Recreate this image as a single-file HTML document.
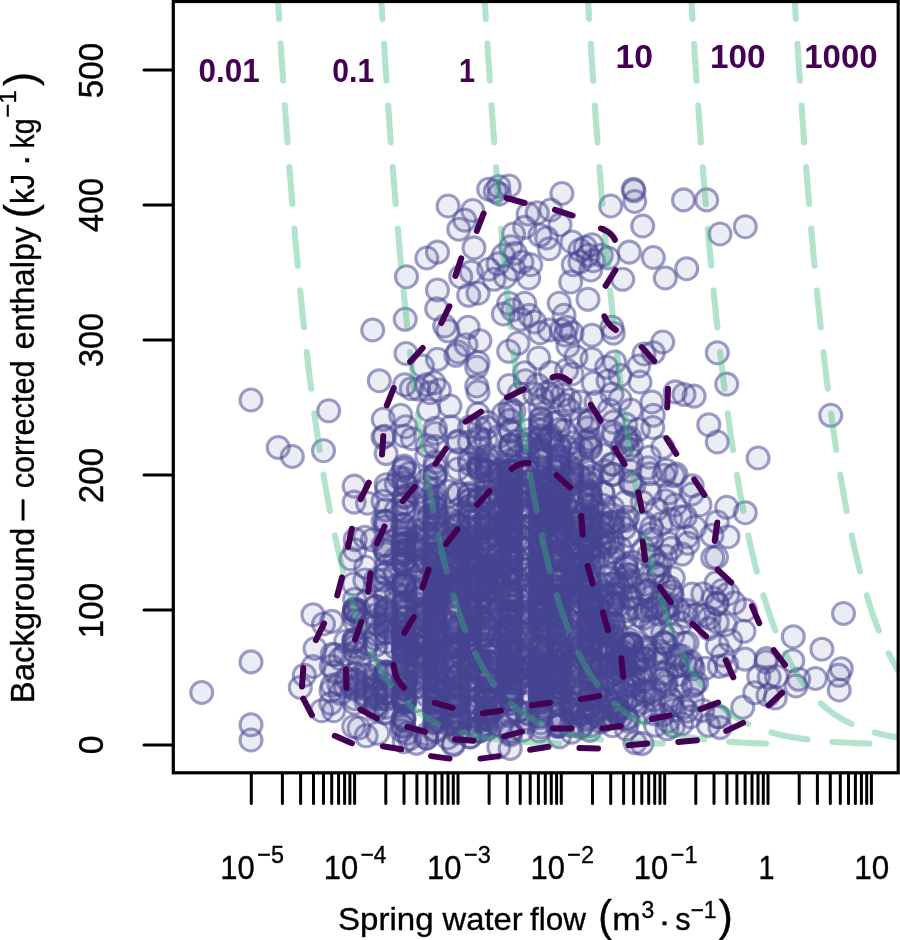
<!DOCTYPE html>
<html lang="en"><head><meta charset="utf-8"><title>Spring water flow vs enthalpy</title>
<style>
html,body{margin:0;padding:0;background:#fff}
body{width:900px;height:940px;overflow:hidden}
svg{display:block;font-family:"Liberation Sans",sans-serif}
.ax{fill:#000;stroke:#000;stroke-width:.35px}
.sup{font-size:22.4px}
.iso{fill:none;stroke:#35b779;stroke-opacity:.38;stroke-width:6.1;stroke-linecap:round;stroke-dasharray:37 24.9;stroke-dashoffset:-2}
.ct{fill:none;stroke:#440154;stroke-width:6;stroke-linecap:round;stroke-linejoin:round}
.pt circle{fill:#464591;fill-opacity:.1;stroke:#464591;stroke-opacity:.52;stroke-width:3.1}
.lb{font-weight:bold;fill:#440154}
.tk{stroke:#000;stroke-width:3;stroke-linecap:round;fill:none}
</style></head><body>
<svg width="900" height="940" viewBox="0 0 900 940">
<rect width="900" height="940" fill="#fff"/>
<defs><clipPath id="cp"><rect x="173.3" y="1.5" width="724.9" height="771.3"/></clipPath></defs>

<g class="pt" clip-path="url(#cp)">
<circle cx="626.4" cy="729.0" r="11"/>
<circle cx="559.0" cy="492.3" r="11"/>
<circle cx="499.3" cy="194.0" r="11"/>
<circle cx="469.2" cy="516.9" r="11"/>
<circle cx="427.0" cy="611.1" r="11"/>
<circle cx="458.3" cy="546.3" r="11"/>
<circle cx="470.3" cy="566.7" r="11"/>
<circle cx="375.9" cy="606.7" r="11"/>
<circle cx="396.3" cy="510.7" r="11"/>
<circle cx="427.3" cy="656.4" r="11"/>
<circle cx="486.4" cy="651.1" r="11"/>
<circle cx="617.1" cy="685.5" r="11"/>
<circle cx="386.3" cy="553.6" r="11"/>
<circle cx="654.1" cy="699.8" r="11"/>
<circle cx="651.6" cy="527.5" r="11"/>
<circle cx="589.5" cy="660.8" r="11"/>
<circle cx="694.7" cy="527.3" r="11"/>
<circle cx="470.0" cy="648.1" r="11"/>
<circle cx="385.7" cy="573.5" r="11"/>
<circle cx="619.0" cy="588.5" r="11"/>
<circle cx="550.7" cy="210.0" r="11"/>
<circle cx="488.5" cy="459.4" r="11"/>
<circle cx="403.6" cy="684.9" r="11"/>
<circle cx="487.1" cy="579.5" r="11"/>
<circle cx="403.8" cy="701.8" r="11"/>
<circle cx="355.2" cy="539.6" r="11"/>
<circle cx="540.4" cy="562.2" r="11"/>
<circle cx="469.9" cy="737.0" r="11"/>
<circle cx="510.9" cy="444.9" r="11"/>
<circle cx="529.9" cy="665.2" r="11"/>
<circle cx="416.9" cy="589.3" r="11"/>
<circle cx="365.7" cy="567.2" r="11"/>
<circle cx="558.8" cy="682.3" r="11"/>
<circle cx="581.9" cy="712.8" r="11"/>
<circle cx="547.8" cy="625.9" r="11"/>
<circle cx="571.7" cy="631.7" r="11"/>
<circle cx="448.1" cy="206.0" r="11"/>
<circle cx="510.9" cy="444.9" r="11"/>
<circle cx="452.7" cy="563.5" r="11"/>
<circle cx="582.1" cy="643.4" r="11"/>
<circle cx="553.8" cy="505.1" r="11"/>
<circle cx="426.2" cy="527.8" r="11"/>
<circle cx="629.0" cy="643.8" r="11"/>
<circle cx="474.0" cy="247.9" r="11"/>
<circle cx="582.1" cy="625.8" r="11"/>
<circle cx="404.2" cy="639.5" r="11"/>
<circle cx="527.8" cy="660.5" r="11"/>
<circle cx="304.3" cy="675.2" r="11"/>
<circle cx="457.5" cy="647.3" r="11"/>
<circle cx="510.4" cy="703.7" r="11"/>
<circle cx="471.3" cy="272.1" r="11"/>
<circle cx="427.3" cy="488.0" r="11"/>
<circle cx="558.3" cy="490.0" r="11"/>
<circle cx="541.0" cy="512.5" r="11"/>
<circle cx="385.8" cy="509.8" r="11"/>
<circle cx="486.2" cy="499.3" r="11"/>
<circle cx="540.3" cy="609.9" r="11"/>
<circle cx="416.9" cy="593.2" r="11"/>
<circle cx="510.4" cy="549.9" r="11"/>
<circle cx="629.3" cy="639.6" r="11"/>
<circle cx="607.9" cy="576.8" r="11"/>
<circle cx="585.2" cy="564.4" r="11"/>
<circle cx="404.3" cy="497.4" r="11"/>
<circle cx="540.0" cy="600.4" r="11"/>
<circle cx="540.4" cy="497.2" r="11"/>
<circle cx="416.1" cy="673.0" r="11"/>
<circle cx="630.9" cy="643.9" r="11"/>
<circle cx="498.9" cy="556.3" r="11"/>
<circle cx="458.3" cy="664.0" r="11"/>
<circle cx="550.2" cy="558.2" r="11"/>
<circle cx="499.0" cy="579.5" r="11"/>
<circle cx="515.3" cy="253.2" r="11"/>
<circle cx="411.3" cy="388.7" r="11"/>
<circle cx="581.1" cy="646.7" r="11"/>
<circle cx="375.2" cy="615.4" r="11"/>
<circle cx="479.1" cy="529.3" r="11"/>
<circle cx="509.9" cy="599.2" r="11"/>
<circle cx="540.5" cy="655.9" r="11"/>
<circle cx="376.4" cy="710.1" r="11"/>
<circle cx="386.1" cy="453.6" r="11"/>
<circle cx="696.7" cy="682.8" r="11"/>
<circle cx="558.8" cy="589.7" r="11"/>
<circle cx="251.0" cy="661.9" r="11"/>
<circle cx="527.7" cy="548.6" r="11"/>
<circle cx="435.4" cy="612.4" r="11"/>
<circle cx="559.0" cy="595.7" r="11"/>
<circle cx="582.8" cy="493.8" r="11"/>
<circle cx="355.2" cy="652.3" r="11"/>
<circle cx="487.2" cy="471.0" r="11"/>
<circle cx="422.5" cy="366.0" r="11"/>
<circle cx="517.9" cy="649.8" r="11"/>
<circle cx="572.0" cy="675.7" r="11"/>
<circle cx="510.5" cy="471.4" r="11"/>
<circle cx="540.3" cy="467.3" r="11"/>
<circle cx="582.1" cy="502.8" r="11"/>
<circle cx="644.9" cy="712.2" r="11"/>
<circle cx="510.9" cy="571.0" r="11"/>
<circle cx="435.1" cy="604.0" r="11"/>
<circle cx="487.1" cy="567.9" r="11"/>
<circle cx="581.8" cy="556.6" r="11"/>
<circle cx="469.7" cy="616.4" r="11"/>
<circle cx="510.5" cy="699.1" r="11"/>
<circle cx="517.7" cy="456.6" r="11"/>
<circle cx="673.3" cy="726.0" r="11"/>
<circle cx="486.3" cy="590.5" r="11"/>
<circle cx="435.0" cy="700.9" r="11"/>
<circle cx="518.0" cy="643.3" r="11"/>
<circle cx="638.5" cy="429.6" r="11"/>
<circle cx="558.7" cy="466.7" r="11"/>
<circle cx="539.7" cy="555.4" r="11"/>
<circle cx="323.5" cy="450.7" r="11"/>
<circle cx="403.7" cy="721.0" r="11"/>
<circle cx="470.4" cy="651.9" r="11"/>
<circle cx="654.1" cy="573.1" r="11"/>
<circle cx="650.5" cy="534.0" r="11"/>
<circle cx="766.4" cy="658.6" r="11"/>
<circle cx="530.3" cy="528.3" r="11"/>
<circle cx="498.8" cy="553.1" r="11"/>
<circle cx="458.7" cy="607.7" r="11"/>
<circle cx="592.0" cy="359.3" r="11"/>
<circle cx="589.0" cy="582.2" r="11"/>
<circle cx="435.4" cy="571.3" r="11"/>
<circle cx="526.9" cy="616.3" r="11"/>
<circle cx="447.9" cy="330.8" r="11"/>
<circle cx="427.3" cy="502.9" r="11"/>
<circle cx="428.7" cy="410.0" r="11"/>
<circle cx="565.6" cy="446.2" r="11"/>
<circle cx="540.6" cy="531.3" r="11"/>
<circle cx="572.1" cy="554.3" r="11"/>
<circle cx="486.3" cy="520.0" r="11"/>
<circle cx="540.0" cy="696.2" r="11"/>
<circle cx="690.7" cy="716.7" r="11"/>
<circle cx="651.7" cy="539.4" r="11"/>
<circle cx="540.2" cy="492.5" r="11"/>
<circle cx="572.0" cy="481.1" r="11"/>
<circle cx="452.7" cy="718.2" r="11"/>
<circle cx="540.3" cy="547.1" r="11"/>
<circle cx="534.8" cy="677.2" r="11"/>
<circle cx="590.2" cy="652.2" r="11"/>
<circle cx="559.1" cy="623.1" r="11"/>
<circle cx="582.0" cy="691.2" r="11"/>
<circle cx="528.0" cy="565.3" r="11"/>
<circle cx="359.0" cy="610.7" r="11"/>
<circle cx="458.2" cy="559.3" r="11"/>
<circle cx="416.4" cy="743.4" r="11"/>
<circle cx="719.4" cy="666.4" r="11"/>
<circle cx="470.0" cy="561.2" r="11"/>
<circle cx="511.0" cy="619.3" r="11"/>
<circle cx="494.0" cy="688.8" r="11"/>
<circle cx="565.0" cy="335.0" r="11"/>
<circle cx="540.9" cy="483.5" r="11"/>
<circle cx="312.9" cy="614.7" r="11"/>
<circle cx="558.5" cy="558.9" r="11"/>
<circle cx="405.2" cy="319.3" r="11"/>
<circle cx="470.4" cy="684.2" r="11"/>
<circle cx="510.7" cy="494.4" r="11"/>
<circle cx="571.2" cy="704.9" r="11"/>
<circle cx="576.0" cy="356.7" r="11"/>
<circle cx="630.8" cy="608.7" r="11"/>
<circle cx="559.2" cy="590.4" r="11"/>
<circle cx="540.7" cy="527.9" r="11"/>
<circle cx="479.3" cy="674.0" r="11"/>
<circle cx="510.5" cy="661.7" r="11"/>
<circle cx="705.5" cy="668.2" r="11"/>
<circle cx="457.4" cy="636.8" r="11"/>
<circle cx="353.7" cy="639.9" r="11"/>
<circle cx="540.5" cy="665.4" r="11"/>
<circle cx="435.0" cy="526.5" r="11"/>
<circle cx="593.3" cy="383.3" r="11"/>
<circle cx="815.5" cy="678.5" r="11"/>
<circle cx="609.9" cy="664.1" r="11"/>
<circle cx="543.2" cy="627.4" r="11"/>
<circle cx="676.0" cy="474.0" r="11"/>
<circle cx="634.8" cy="700.5" r="11"/>
<circle cx="435.2" cy="587.7" r="11"/>
<circle cx="642.3" cy="502.2" r="11"/>
<circle cx="540.3" cy="430.3" r="11"/>
<circle cx="540.3" cy="504.9" r="11"/>
<circle cx="588.0" cy="299.3" r="11"/>
<circle cx="654.9" cy="607.5" r="11"/>
<circle cx="404.2" cy="510.7" r="11"/>
<circle cx="509.4" cy="644.5" r="11"/>
<circle cx="498.8" cy="705.7" r="11"/>
<circle cx="539.4" cy="730.8" r="11"/>
<circle cx="434.3" cy="602.0" r="11"/>
<circle cx="675.2" cy="391.9" r="11"/>
<circle cx="457.4" cy="732.6" r="11"/>
<circle cx="486.3" cy="465.2" r="11"/>
<circle cx="469.4" cy="620.0" r="11"/>
<circle cx="540.7" cy="600.2" r="11"/>
<circle cx="511.0" cy="464.2" r="11"/>
<circle cx="527.0" cy="718.8" r="11"/>
<circle cx="435.3" cy="558.2" r="11"/>
<circle cx="486.9" cy="456.1" r="11"/>
<circle cx="435.4" cy="716.3" r="11"/>
<circle cx="367.0" cy="675.1" r="11"/>
<circle cx="453.0" cy="555.7" r="11"/>
<circle cx="458.5" cy="630.5" r="11"/>
<circle cx="494.7" cy="483.9" r="11"/>
<circle cx="527.0" cy="468.7" r="11"/>
<circle cx="367.5" cy="503.2" r="11"/>
<circle cx="499.6" cy="473.8" r="11"/>
<circle cx="565.4" cy="503.6" r="11"/>
<circle cx="476.7" cy="598.9" r="11"/>
<circle cx="540.6" cy="699.0" r="11"/>
<circle cx="687.0" cy="711.1" r="11"/>
<circle cx="590.4" cy="706.0" r="11"/>
<circle cx="558.9" cy="555.7" r="11"/>
<circle cx="540.7" cy="523.1" r="11"/>
<circle cx="510.7" cy="549.8" r="11"/>
<circle cx="639.7" cy="615.8" r="11"/>
<circle cx="426.2" cy="641.2" r="11"/>
<circle cx="520.7" cy="319.3" r="11"/>
<circle cx="499.9" cy="478.3" r="11"/>
<circle cx="486.3" cy="523.5" r="11"/>
<circle cx="559.2" cy="576.0" r="11"/>
<circle cx="605.8" cy="631.7" r="11"/>
<circle cx="457.6" cy="645.6" r="11"/>
<circle cx="506.5" cy="534.3" r="11"/>
<circle cx="447.5" cy="737.8" r="11"/>
<circle cx="353.7" cy="614.7" r="11"/>
<circle cx="486.5" cy="668.1" r="11"/>
<circle cx="509.9" cy="670.9" r="11"/>
<circle cx="487.2" cy="680.2" r="11"/>
<circle cx="385.3" cy="521.4" r="11"/>
<circle cx="470.1" cy="623.8" r="11"/>
<circle cx="354.8" cy="646.5" r="11"/>
<circle cx="571.4" cy="708.3" r="11"/>
<circle cx="646.7" cy="591.4" r="11"/>
<circle cx="540.5" cy="547.6" r="11"/>
<circle cx="612.1" cy="522.2" r="11"/>
<circle cx="559.1" cy="623.7" r="11"/>
<circle cx="493.4" cy="545.8" r="11"/>
<circle cx="652.8" cy="427.5" r="11"/>
<circle cx="730.7" cy="640.7" r="11"/>
<circle cx="509.6" cy="538.4" r="11"/>
<circle cx="613.8" cy="435.5" r="11"/>
<circle cx="593.9" cy="710.9" r="11"/>
<circle cx="594.8" cy="694.8" r="11"/>
<circle cx="590.0" cy="602.8" r="11"/>
<circle cx="404.7" cy="663.6" r="11"/>
<circle cx="434.2" cy="562.6" r="11"/>
<circle cx="509.9" cy="654.6" r="11"/>
<circle cx="550.4" cy="435.6" r="11"/>
<circle cx="479.6" cy="658.8" r="11"/>
<circle cx="470.0" cy="608.3" r="11"/>
<circle cx="630.6" cy="581.3" r="11"/>
<circle cx="417.0" cy="609.1" r="11"/>
<circle cx="588.0" cy="255.3" r="11"/>
<circle cx="458.5" cy="717.6" r="11"/>
<circle cx="734.2" cy="602.9" r="11"/>
<circle cx="514.5" cy="478.2" r="11"/>
<circle cx="613.0" cy="526.7" r="11"/>
<circle cx="518.1" cy="711.2" r="11"/>
<circle cx="469.0" cy="667.4" r="11"/>
<circle cx="634.3" cy="658.5" r="11"/>
<circle cx="509.5" cy="474.6" r="11"/>
<circle cx="426.3" cy="559.6" r="11"/>
<circle cx="510.9" cy="571.7" r="11"/>
<circle cx="509.7" cy="630.6" r="11"/>
<circle cx="626.0" cy="520.5" r="11"/>
<circle cx="405.1" cy="533.5" r="11"/>
<circle cx="403.8" cy="543.2" r="11"/>
<circle cx="551.0" cy="555.9" r="11"/>
<circle cx="479.1" cy="671.9" r="11"/>
<circle cx="354.8" cy="703.2" r="11"/>
<circle cx="505.3" cy="276.7" r="11"/>
<circle cx="601.4" cy="515.8" r="11"/>
<circle cx="527.5" cy="673.1" r="11"/>
<circle cx="576.2" cy="575.4" r="11"/>
<circle cx="470.1" cy="554.2" r="11"/>
<circle cx="638.3" cy="658.7" r="11"/>
<circle cx="510.5" cy="711.2" r="11"/>
<circle cx="429.2" cy="515.8" r="11"/>
<circle cx="486.6" cy="544.5" r="11"/>
<circle cx="458.1" cy="605.7" r="11"/>
<circle cx="547.4" cy="633.6" r="11"/>
<circle cx="434.6" cy="527.8" r="11"/>
<circle cx="404.3" cy="610.6" r="11"/>
<circle cx="458.4" cy="716.9" r="11"/>
<circle cx="434.7" cy="688.0" r="11"/>
<circle cx="458.0" cy="627.6" r="11"/>
<circle cx="457.6" cy="544.5" r="11"/>
<circle cx="479.6" cy="439.5" r="11"/>
<circle cx="458.1" cy="459.7" r="11"/>
<circle cx="618.5" cy="605.4" r="11"/>
<circle cx="726.7" cy="664.7" r="11"/>
<circle cx="509.7" cy="671.8" r="11"/>
<circle cx="403.7" cy="583.7" r="11"/>
<circle cx="469.7" cy="610.8" r="11"/>
<circle cx="435.5" cy="557.4" r="11"/>
<circle cx="499.2" cy="607.6" r="11"/>
<circle cx="338.9" cy="683.9" r="11"/>
<circle cx="435.0" cy="711.4" r="11"/>
<circle cx="512.4" cy="554.9" r="11"/>
<circle cx="511.0" cy="605.4" r="11"/>
<circle cx="417.5" cy="668.6" r="11"/>
<circle cx="486.1" cy="624.0" r="11"/>
<circle cx="608.0" cy="380.7" r="11"/>
<circle cx="540.5" cy="425.1" r="11"/>
<circle cx="479.5" cy="428.1" r="11"/>
<circle cx="630.6" cy="644.7" r="11"/>
<circle cx="558.9" cy="725.6" r="11"/>
<circle cx="435.1" cy="579.0" r="11"/>
<circle cx="558.8" cy="455.8" r="11"/>
<circle cx="498.0" cy="263.9" r="11"/>
<circle cx="527.5" cy="657.1" r="11"/>
<circle cx="478.6" cy="720.8" r="11"/>
<circle cx="528.0" cy="463.6" r="11"/>
<circle cx="677.6" cy="655.6" r="11"/>
<circle cx="404.4" cy="672.1" r="11"/>
<circle cx="766.1" cy="662.0" r="11"/>
<circle cx="435.0" cy="585.9" r="11"/>
<circle cx="385.9" cy="676.5" r="11"/>
<circle cx="331.4" cy="666.2" r="11"/>
<circle cx="541.2" cy="551.7" r="11"/>
<circle cx="571.7" cy="667.7" r="11"/>
<circle cx="624.0" cy="644.5" r="11"/>
<circle cx="656.7" cy="509.5" r="11"/>
<circle cx="665.8" cy="556.2" r="11"/>
<circle cx="486.0" cy="710.6" r="11"/>
<circle cx="487.4" cy="427.5" r="11"/>
<circle cx="403.7" cy="629.0" r="11"/>
<circle cx="487.1" cy="566.0" r="11"/>
<circle cx="566.7" cy="327.3" r="11"/>
<circle cx="616.6" cy="713.2" r="11"/>
<circle cx="434.7" cy="708.2" r="11"/>
<circle cx="602.2" cy="533.4" r="11"/>
<circle cx="605.6" cy="655.8" r="11"/>
<circle cx="589.5" cy="674.3" r="11"/>
<circle cx="483.2" cy="635.5" r="11"/>
<circle cx="406.0" cy="353.5" r="11"/>
<circle cx="636.6" cy="607.7" r="11"/>
<circle cx="615.5" cy="709.8" r="11"/>
<circle cx="571.1" cy="458.4" r="11"/>
<circle cx="435.5" cy="582.5" r="11"/>
<circle cx="435.4" cy="603.9" r="11"/>
<circle cx="458.4" cy="538.9" r="11"/>
<circle cx="426.9" cy="674.2" r="11"/>
<circle cx="633.8" cy="675.4" r="11"/>
<circle cx="655.2" cy="689.8" r="11"/>
<circle cx="559.3" cy="693.8" r="11"/>
<circle cx="470.3" cy="474.2" r="11"/>
<circle cx="608.8" cy="645.6" r="11"/>
<circle cx="487.1" cy="462.9" r="11"/>
<circle cx="478.7" cy="552.2" r="11"/>
<circle cx="592.0" cy="244.7" r="11"/>
<circle cx="469.5" cy="640.5" r="11"/>
<circle cx="541.0" cy="701.5" r="11"/>
<circle cx="509.8" cy="666.5" r="11"/>
<circle cx="404.0" cy="618.3" r="11"/>
<circle cx="611.0" cy="653.1" r="11"/>
<circle cx="529.6" cy="588.2" r="11"/>
<circle cx="499.1" cy="648.8" r="11"/>
<circle cx="386.3" cy="671.8" r="11"/>
<circle cx="487.4" cy="678.3" r="11"/>
<circle cx="469.6" cy="619.3" r="11"/>
<circle cx="713.3" cy="598.0" r="11"/>
<circle cx="510.4" cy="547.4" r="11"/>
<circle cx="603.3" cy="584.3" r="11"/>
<circle cx="612.8" cy="637.8" r="11"/>
<circle cx="448.8" cy="541.9" r="11"/>
<circle cx="582.0" cy="591.4" r="11"/>
<circle cx="458.7" cy="647.7" r="11"/>
<circle cx="522.6" cy="539.1" r="11"/>
<circle cx="453.4" cy="584.2" r="11"/>
<circle cx="541.6" cy="609.2" r="11"/>
<circle cx="821.9" cy="649.2" r="11"/>
<circle cx="540.6" cy="667.0" r="11"/>
<circle cx="628.7" cy="535.6" r="11"/>
<circle cx="457.3" cy="677.4" r="11"/>
<circle cx="607.2" cy="594.9" r="11"/>
<circle cx="540.7" cy="572.4" r="11"/>
<circle cx="404.3" cy="468.0" r="11"/>
<circle cx="479.0" cy="467.0" r="11"/>
<circle cx="541.0" cy="559.8" r="11"/>
<circle cx="581.5" cy="550.1" r="11"/>
<circle cx="613.2" cy="464.2" r="11"/>
<circle cx="510.5" cy="558.4" r="11"/>
<circle cx="427.0" cy="445.5" r="11"/>
<circle cx="427.6" cy="695.8" r="11"/>
<circle cx="494.1" cy="504.1" r="11"/>
<circle cx="478.0" cy="293.2" r="11"/>
<circle cx="456.4" cy="646.6" r="11"/>
<circle cx="534.7" cy="394.0" r="11"/>
<circle cx="527.7" cy="668.3" r="11"/>
<circle cx="470.6" cy="656.5" r="11"/>
<circle cx="558.8" cy="577.2" r="11"/>
<circle cx="493.4" cy="668.5" r="11"/>
<circle cx="403.7" cy="610.6" r="11"/>
<circle cx="590.8" cy="626.6" r="11"/>
<circle cx="426.6" cy="520.3" r="11"/>
<circle cx="539.9" cy="637.1" r="11"/>
<circle cx="365.9" cy="700.9" r="11"/>
<circle cx="589.1" cy="635.3" r="11"/>
<circle cx="335.0" cy="672.0" r="11"/>
<circle cx="661.5" cy="601.0" r="11"/>
<circle cx="375.0" cy="638.3" r="11"/>
<circle cx="581.7" cy="693.8" r="11"/>
<circle cx="402.9" cy="585.4" r="11"/>
<circle cx="540.6" cy="418.1" r="11"/>
<circle cx="458.5" cy="666.3" r="11"/>
<circle cx="527.4" cy="491.3" r="11"/>
<circle cx="683.4" cy="707.4" r="11"/>
<circle cx="510.3" cy="508.2" r="11"/>
<circle cx="754.7" cy="692.7" r="11"/>
<circle cx="613.3" cy="602.4" r="11"/>
<circle cx="470.3" cy="585.1" r="11"/>
<circle cx="527.3" cy="657.8" r="11"/>
<circle cx="572.1" cy="713.4" r="11"/>
<circle cx="511.2" cy="702.6" r="11"/>
<circle cx="550.7" cy="372.7" r="11"/>
<circle cx="416.5" cy="548.9" r="11"/>
<circle cx="589.7" cy="605.2" r="11"/>
<circle cx="662.7" cy="447.3" r="11"/>
<circle cx="550.5" cy="439.7" r="11"/>
<circle cx="453.0" cy="705.9" r="11"/>
<circle cx="426.8" cy="258.0" r="11"/>
<circle cx="365.7" cy="648.0" r="11"/>
<circle cx="469.8" cy="667.5" r="11"/>
<circle cx="686.7" cy="268.7" r="11"/>
<circle cx="486.3" cy="483.5" r="11"/>
<circle cx="540.8" cy="687.1" r="11"/>
<circle cx="597.7" cy="608.9" r="11"/>
<circle cx="458.1" cy="548.9" r="11"/>
<circle cx="510.6" cy="734.9" r="11"/>
<circle cx="540.5" cy="487.2" r="11"/>
<circle cx="404.6" cy="603.0" r="11"/>
<circle cx="510.4" cy="615.4" r="11"/>
<circle cx="380.3" cy="698.7" r="11"/>
<circle cx="435.7" cy="554.6" r="11"/>
<circle cx="435.5" cy="446.6" r="11"/>
<circle cx="509.7" cy="698.7" r="11"/>
<circle cx="726.7" cy="507.3" r="11"/>
<circle cx="590.0" cy="607.8" r="11"/>
<circle cx="417.1" cy="638.5" r="11"/>
<circle cx="345.0" cy="654.5" r="11"/>
<circle cx="458.2" cy="695.0" r="11"/>
<circle cx="434.8" cy="467.1" r="11"/>
<circle cx="386.1" cy="521.4" r="11"/>
<circle cx="612.0" cy="474.3" r="11"/>
<circle cx="527.0" cy="574.3" r="11"/>
<circle cx="559.6" cy="558.9" r="11"/>
<circle cx="503.3" cy="314.0" r="11"/>
<circle cx="558.7" cy="526.2" r="11"/>
<circle cx="404.1" cy="563.9" r="11"/>
<circle cx="460.7" cy="276.7" r="11"/>
<circle cx="499.2" cy="516.6" r="11"/>
<circle cx="457.7" cy="724.4" r="11"/>
<circle cx="409.7" cy="738.7" r="11"/>
<circle cx="638.7" cy="366.0" r="11"/>
<circle cx="517.7" cy="560.8" r="11"/>
<circle cx="510.5" cy="431.7" r="11"/>
<circle cx="439.3" cy="390.0" r="11"/>
<circle cx="571.8" cy="576.9" r="11"/>
<circle cx="527.6" cy="595.3" r="11"/>
<circle cx="377.7" cy="733.3" r="11"/>
<circle cx="404.7" cy="635.5" r="11"/>
<circle cx="469.7" cy="723.5" r="11"/>
<circle cx="493.7" cy="703.4" r="11"/>
<circle cx="559.0" cy="653.0" r="11"/>
<circle cx="694.7" cy="615.3" r="11"/>
<circle cx="477.0" cy="557.7" r="11"/>
<circle cx="582.0" cy="520.5" r="11"/>
<circle cx="540.0" cy="235.3" r="11"/>
<circle cx="300.3" cy="687.5" r="11"/>
<circle cx="517.7" cy="679.5" r="11"/>
<circle cx="441.3" cy="574.0" r="11"/>
<circle cx="551.5" cy="585.7" r="11"/>
<circle cx="758.7" cy="676.7" r="11"/>
<circle cx="486.7" cy="517.6" r="11"/>
<circle cx="434.6" cy="713.6" r="11"/>
<circle cx="458.1" cy="588.5" r="11"/>
<circle cx="590.1" cy="526.8" r="11"/>
<circle cx="479.2" cy="528.1" r="11"/>
<circle cx="571.4" cy="497.4" r="11"/>
<circle cx="717.3" cy="603.3" r="11"/>
<circle cx="487.1" cy="609.4" r="11"/>
<circle cx="603.1" cy="523.5" r="11"/>
<circle cx="592.0" cy="335.3" r="11"/>
<circle cx="491.9" cy="652.1" r="11"/>
<circle cx="685.3" cy="516.7" r="11"/>
<circle cx="435.1" cy="593.5" r="11"/>
<circle cx="510.2" cy="591.0" r="11"/>
<circle cx="540.7" cy="486.9" r="11"/>
<circle cx="435.2" cy="507.3" r="11"/>
<circle cx="634.5" cy="683.6" r="11"/>
<circle cx="541.4" cy="695.7" r="11"/>
<circle cx="486.7" cy="680.6" r="11"/>
<circle cx="541.1" cy="486.9" r="11"/>
<circle cx="395.3" cy="671.8" r="11"/>
<circle cx="601.3" cy="255.3" r="11"/>
<circle cx="509.6" cy="672.7" r="11"/>
<circle cx="478.9" cy="575.6" r="11"/>
<circle cx="671.7" cy="591.8" r="11"/>
<circle cx="441.8" cy="579.4" r="11"/>
<circle cx="577.8" cy="532.7" r="11"/>
<circle cx="434.2" cy="664.9" r="11"/>
<circle cx="499.6" cy="572.3" r="11"/>
<circle cx="470.1" cy="633.9" r="11"/>
<circle cx="540.5" cy="665.7" r="11"/>
<circle cx="716.0" cy="582.9" r="11"/>
<circle cx="540.1" cy="578.7" r="11"/>
<circle cx="458.5" cy="582.0" r="11"/>
<circle cx="457.9" cy="525.6" r="11"/>
<circle cx="526.0" cy="527.0" r="11"/>
<circle cx="582.2" cy="556.8" r="11"/>
<circle cx="540.5" cy="495.3" r="11"/>
<circle cx="372.7" cy="330.0" r="11"/>
<circle cx="487.3" cy="716.1" r="11"/>
<circle cx="590.8" cy="495.3" r="11"/>
<circle cx="469.8" cy="644.7" r="11"/>
<circle cx="510.3" cy="643.7" r="11"/>
<circle cx="404.2" cy="681.6" r="11"/>
<circle cx="649.9" cy="692.2" r="11"/>
<circle cx="590.2" cy="628.1" r="11"/>
<circle cx="685.5" cy="664.5" r="11"/>
<circle cx="403.9" cy="652.6" r="11"/>
<circle cx="610.4" cy="655.2" r="11"/>
<circle cx="435.6" cy="558.9" r="11"/>
<circle cx="404.3" cy="589.2" r="11"/>
<circle cx="353.7" cy="584.0" r="11"/>
<circle cx="376.3" cy="705.1" r="11"/>
<circle cx="559.2" cy="703.7" r="11"/>
<circle cx="404.0" cy="644.0" r="11"/>
<circle cx="540.0" cy="438.7" r="11"/>
<circle cx="665.9" cy="682.3" r="11"/>
<circle cx="551.1" cy="616.1" r="11"/>
<circle cx="385.5" cy="610.7" r="11"/>
<circle cx="621.3" cy="661.0" r="11"/>
<circle cx="563.5" cy="683.4" r="11"/>
<circle cx="561.9" cy="193.5" r="11"/>
<circle cx="563.9" cy="523.4" r="11"/>
<circle cx="533.7" cy="610.0" r="11"/>
<circle cx="704.0" cy="615.3" r="11"/>
<circle cx="669.3" cy="587.3" r="11"/>
<circle cx="458.6" cy="652.4" r="11"/>
<circle cx="628.1" cy="449.1" r="11"/>
<circle cx="510.7" cy="591.2" r="11"/>
<circle cx="510.2" cy="541.4" r="11"/>
<circle cx="769.2" cy="677.2" r="11"/>
<circle cx="571.6" cy="612.0" r="11"/>
<circle cx="510.3" cy="534.0" r="11"/>
<circle cx="582.7" cy="466.3" r="11"/>
<circle cx="426.8" cy="560.8" r="11"/>
<circle cx="612.9" cy="432.3" r="11"/>
<circle cx="547.1" cy="692.4" r="11"/>
<circle cx="494.1" cy="575.5" r="11"/>
<circle cx="499.1" cy="436.4" r="11"/>
<circle cx="487.0" cy="513.6" r="11"/>
<circle cx="448.3" cy="689.8" r="11"/>
<circle cx="630.5" cy="597.3" r="11"/>
<circle cx="434.7" cy="722.8" r="11"/>
<circle cx="540.2" cy="541.1" r="11"/>
<circle cx="510.0" cy="450.5" r="11"/>
<circle cx="510.5" cy="630.4" r="11"/>
<circle cx="510.4" cy="481.1" r="11"/>
<circle cx="453.7" cy="704.1" r="11"/>
<circle cx="560.0" cy="515.9" r="11"/>
<circle cx="518.0" cy="683.3" r="11"/>
<circle cx="426.9" cy="652.3" r="11"/>
<circle cx="470.4" cy="649.3" r="11"/>
<circle cx="458.0" cy="633.5" r="11"/>
<circle cx="561.3" cy="330.0" r="11"/>
<circle cx="386.1" cy="614.6" r="11"/>
<circle cx="706.7" cy="199.9" r="11"/>
<circle cx="404.7" cy="640.2" r="11"/>
<circle cx="460.0" cy="625.3" r="11"/>
<circle cx="509.9" cy="641.9" r="11"/>
<circle cx="366.5" cy="689.1" r="11"/>
<circle cx="540.0" cy="512.5" r="11"/>
<circle cx="486.1" cy="440.2" r="11"/>
<circle cx="603.0" cy="632.7" r="11"/>
<circle cx="470.4" cy="679.6" r="11"/>
<circle cx="572.0" cy="580.5" r="11"/>
<circle cx="469.7" cy="729.6" r="11"/>
<circle cx="574.9" cy="543.5" r="11"/>
<circle cx="434.9" cy="677.5" r="11"/>
<circle cx="558.6" cy="687.5" r="11"/>
<circle cx="355.1" cy="611.6" r="11"/>
<circle cx="540.1" cy="666.7" r="11"/>
<circle cx="458.3" cy="536.7" r="11"/>
<circle cx="417.4" cy="646.0" r="11"/>
<circle cx="435.7" cy="669.9" r="11"/>
<circle cx="541.4" cy="677.8" r="11"/>
<circle cx="596.0" cy="402.0" r="11"/>
<circle cx="581.8" cy="515.4" r="11"/>
<circle cx="559.0" cy="726.2" r="11"/>
<circle cx="331.8" cy="621.4" r="11"/>
<circle cx="403.7" cy="688.5" r="11"/>
<circle cx="615.5" cy="673.6" r="11"/>
<circle cx="603.3" cy="493.5" r="11"/>
<circle cx="643.7" cy="658.2" r="11"/>
<circle cx="330.8" cy="703.3" r="11"/>
<circle cx="559.2" cy="303.3" r="11"/>
<circle cx="464.3" cy="541.7" r="11"/>
<circle cx="559.7" cy="723.9" r="11"/>
<circle cx="598.3" cy="695.3" r="11"/>
<circle cx="589.7" cy="621.9" r="11"/>
<circle cx="457.8" cy="569.4" r="11"/>
<circle cx="434.9" cy="610.2" r="11"/>
<circle cx="426.7" cy="480.0" r="11"/>
<circle cx="510.1" cy="669.9" r="11"/>
<circle cx="642.2" cy="594.0" r="11"/>
<circle cx="712.7" cy="557.7" r="11"/>
<circle cx="589.8" cy="643.7" r="11"/>
<circle cx="541.5" cy="648.2" r="11"/>
<circle cx="458.3" cy="713.3" r="11"/>
<circle cx="486.2" cy="627.9" r="11"/>
<circle cx="509.7" cy="523.1" r="11"/>
<circle cx="493.8" cy="530.9" r="11"/>
<circle cx="518.6" cy="534.9" r="11"/>
<circle cx="650.0" cy="493.1" r="11"/>
<circle cx="629.8" cy="471.0" r="11"/>
<circle cx="403.6" cy="698.5" r="11"/>
<circle cx="662.6" cy="679.9" r="11"/>
<circle cx="435.6" cy="574.1" r="11"/>
<circle cx="517.9" cy="483.1" r="11"/>
<circle cx="676.7" cy="658.6" r="11"/>
<circle cx="582.0" cy="613.5" r="11"/>
<circle cx="690.9" cy="661.8" r="11"/>
<circle cx="613.3" cy="682.5" r="11"/>
<circle cx="510.1" cy="561.4" r="11"/>
<circle cx="469.0" cy="679.0" r="11"/>
<circle cx="510.2" cy="748.5" r="11"/>
<circle cx="510.3" cy="518.7" r="11"/>
<circle cx="361.7" cy="620.0" r="11"/>
<circle cx="582.6" cy="587.8" r="11"/>
<circle cx="469.6" cy="602.8" r="11"/>
<circle cx="434.5" cy="523.3" r="11"/>
<circle cx="499.8" cy="619.9" r="11"/>
<circle cx="726.7" cy="384.1" r="11"/>
<circle cx="386.5" cy="610.5" r="11"/>
<circle cx="510.5" cy="694.1" r="11"/>
<circle cx="559.2" cy="661.0" r="11"/>
<circle cx="469.8" cy="555.8" r="11"/>
<circle cx="540.7" cy="632.4" r="11"/>
<circle cx="458.1" cy="596.1" r="11"/>
<circle cx="406.5" cy="276.7" r="11"/>
<circle cx="435.3" cy="670.3" r="11"/>
<circle cx="617.2" cy="696.1" r="11"/>
<circle cx="367.0" cy="666.7" r="11"/>
<circle cx="589.5" cy="420.5" r="11"/>
<circle cx="412.3" cy="438.7" r="11"/>
<circle cx="589.6" cy="698.6" r="11"/>
<circle cx="469.6" cy="642.7" r="11"/>
<circle cx="385.3" cy="550.2" r="11"/>
<circle cx="435.1" cy="666.1" r="11"/>
<circle cx="487.3" cy="519.1" r="11"/>
<circle cx="479.2" cy="497.6" r="11"/>
<circle cx="377.7" cy="624.0" r="11"/>
<circle cx="485.9" cy="596.5" r="11"/>
<circle cx="540.9" cy="498.6" r="11"/>
<circle cx="564.0" cy="315.3" r="11"/>
<circle cx="402.9" cy="561.9" r="11"/>
<circle cx="514.6" cy="653.2" r="11"/>
<circle cx="612.7" cy="605.0" r="11"/>
<circle cx="492.9" cy="612.6" r="11"/>
<circle cx="510.2" cy="626.4" r="11"/>
<circle cx="434.8" cy="632.0" r="11"/>
<circle cx="509.2" cy="645.0" r="11"/>
<circle cx="540.8" cy="593.9" r="11"/>
<circle cx="617.7" cy="711.2" r="11"/>
<circle cx="581.4" cy="419.9" r="11"/>
<circle cx="469.8" cy="538.2" r="11"/>
<circle cx="335.0" cy="654.7" r="11"/>
<circle cx="417.5" cy="599.4" r="11"/>
<circle cx="385.1" cy="712.1" r="11"/>
<circle cx="602.2" cy="630.9" r="11"/>
<circle cx="652.0" cy="402.0" r="11"/>
<circle cx="541.3" cy="665.7" r="11"/>
<circle cx="435.7" cy="641.1" r="11"/>
<circle cx="589.9" cy="650.2" r="11"/>
<circle cx="524.7" cy="372.7" r="11"/>
<circle cx="665.3" cy="278.0" r="11"/>
<circle cx="758.1" cy="458.0" r="11"/>
<circle cx="662.7" cy="342.0" r="11"/>
<circle cx="487.7" cy="655.4" r="11"/>
<circle cx="332.3" cy="654.2" r="11"/>
<circle cx="541.0" cy="436.0" r="11"/>
<circle cx="510.3" cy="682.2" r="11"/>
<circle cx="469.9" cy="686.9" r="11"/>
<circle cx="615.7" cy="655.2" r="11"/>
<circle cx="404.4" cy="552.0" r="11"/>
<circle cx="583.1" cy="686.3" r="11"/>
<circle cx="509.4" cy="715.6" r="11"/>
<circle cx="564.0" cy="404.7" r="11"/>
<circle cx="619.8" cy="521.2" r="11"/>
<circle cx="633.3" cy="189.2" r="11"/>
<circle cx="610.4" cy="620.0" r="11"/>
<circle cx="722.2" cy="590.5" r="11"/>
<circle cx="457.8" cy="720.1" r="11"/>
<circle cx="599.4" cy="706.9" r="11"/>
<circle cx="571.3" cy="511.0" r="11"/>
<circle cx="403.9" cy="602.6" r="11"/>
<circle cx="458.3" cy="688.5" r="11"/>
<circle cx="435.4" cy="729.9" r="11"/>
<circle cx="458.7" cy="558.8" r="11"/>
<circle cx="590.0" cy="610.5" r="11"/>
<circle cx="620.3" cy="717.6" r="11"/>
<circle cx="620.2" cy="656.2" r="11"/>
<circle cx="486.6" cy="700.8" r="11"/>
<circle cx="487.1" cy="584.9" r="11"/>
<circle cx="518.4" cy="579.1" r="11"/>
<circle cx="716.5" cy="557.2" r="11"/>
<circle cx="526.3" cy="505.2" r="11"/>
<circle cx="510.8" cy="246.8" r="11"/>
<circle cx="559.0" cy="659.7" r="11"/>
<circle cx="448.4" cy="585.3" r="11"/>
<circle cx="547.5" cy="681.7" r="11"/>
<circle cx="479.2" cy="679.8" r="11"/>
<circle cx="590.1" cy="670.5" r="11"/>
<circle cx="416.5" cy="603.9" r="11"/>
<circle cx="426.5" cy="384.7" r="11"/>
<circle cx="564.0" cy="529.9" r="11"/>
<circle cx="569.3" cy="410.0" r="11"/>
<circle cx="510.2" cy="692.6" r="11"/>
<circle cx="457.2" cy="626.8" r="11"/>
<circle cx="323.5" cy="624.0" r="11"/>
<circle cx="558.4" cy="625.9" r="11"/>
<circle cx="590.7" cy="270.0" r="11"/>
<circle cx="435.4" cy="652.0" r="11"/>
<circle cx="403.8" cy="511.3" r="11"/>
<circle cx="404.2" cy="626.3" r="11"/>
<circle cx="469.6" cy="506.1" r="11"/>
<circle cx="673.3" cy="578.0" r="11"/>
<circle cx="535.2" cy="584.5" r="11"/>
<circle cx="644.1" cy="669.5" r="11"/>
<circle cx="486.5" cy="553.5" r="11"/>
<circle cx="385.3" cy="616.2" r="11"/>
<circle cx="455.9" cy="355.3" r="11"/>
<circle cx="566.3" cy="483.9" r="11"/>
<circle cx="469.3" cy="568.8" r="11"/>
<circle cx="550.1" cy="499.0" r="11"/>
<circle cx="510.4" cy="670.2" r="11"/>
<circle cx="470.2" cy="544.3" r="11"/>
<circle cx="582.2" cy="676.9" r="11"/>
<circle cx="486.8" cy="589.4" r="11"/>
<circle cx="558.9" cy="687.6" r="11"/>
<circle cx="475.1" cy="699.8" r="11"/>
<circle cx="404.4" cy="650.0" r="11"/>
<circle cx="510.7" cy="506.3" r="11"/>
<circle cx="469.5" cy="538.3" r="11"/>
<circle cx="510.0" cy="521.2" r="11"/>
<circle cx="553.3" cy="396.7" r="11"/>
<circle cx="403.9" cy="646.0" r="11"/>
<circle cx="541.3" cy="423.2" r="11"/>
<circle cx="423.0" cy="626.0" r="11"/>
<circle cx="518.0" cy="507.4" r="11"/>
<circle cx="555.8" cy="675.8" r="11"/>
<circle cx="486.6" cy="701.6" r="11"/>
<circle cx="526.4" cy="446.6" r="11"/>
<circle cx="589.0" cy="622.3" r="11"/>
<circle cx="792.8" cy="660.7" r="11"/>
<circle cx="487.8" cy="547.6" r="11"/>
<circle cx="458.6" cy="527.1" r="11"/>
<circle cx="355.1" cy="611.5" r="11"/>
<circle cx="487.2" cy="471.9" r="11"/>
<circle cx="426.5" cy="614.6" r="11"/>
<circle cx="559.3" cy="470.2" r="11"/>
<circle cx="612.6" cy="717.8" r="11"/>
<circle cx="514.0" cy="269.2" r="11"/>
<circle cx="522.6" cy="618.1" r="11"/>
<circle cx="457.5" cy="552.4" r="11"/>
<circle cx="479.6" cy="471.0" r="11"/>
<circle cx="379.3" cy="380.7" r="11"/>
<circle cx="601.8" cy="631.2" r="11"/>
<circle cx="635.6" cy="663.7" r="11"/>
<circle cx="386.4" cy="698.9" r="11"/>
<circle cx="540.1" cy="618.7" r="11"/>
<circle cx="559.0" cy="550.0" r="11"/>
<circle cx="588.5" cy="578.6" r="11"/>
<circle cx="626.1" cy="616.4" r="11"/>
<circle cx="434.8" cy="695.2" r="11"/>
<circle cx="313.0" cy="666.5" r="11"/>
<circle cx="613.0" cy="605.4" r="11"/>
<circle cx="540.9" cy="494.1" r="11"/>
<circle cx="616.5" cy="663.5" r="11"/>
<circle cx="611.8" cy="652.1" r="11"/>
<circle cx="540.4" cy="612.0" r="11"/>
<circle cx="608.0" cy="258.0" r="11"/>
<circle cx="548.7" cy="478.7" r="11"/>
<circle cx="453.5" cy="536.8" r="11"/>
<circle cx="510.1" cy="477.3" r="11"/>
<circle cx="469.6" cy="612.9" r="11"/>
<circle cx="612.9" cy="552.2" r="11"/>
<circle cx="435.1" cy="681.5" r="11"/>
<circle cx="581.0" cy="727.2" r="11"/>
<circle cx="509.9" cy="420.3" r="11"/>
<circle cx="453.3" cy="617.9" r="11"/>
<circle cx="559.7" cy="551.9" r="11"/>
<circle cx="580.0" cy="262.0" r="11"/>
<circle cx="674.0" cy="710.0" r="11"/>
<circle cx="510.9" cy="596.5" r="11"/>
<circle cx="798.7" cy="679.3" r="11"/>
<circle cx="617.0" cy="667.0" r="11"/>
<circle cx="427.4" cy="644.9" r="11"/>
<circle cx="426.4" cy="738.2" r="11"/>
<circle cx="654.7" cy="713.9" r="11"/>
<circle cx="470.5" cy="599.2" r="11"/>
<circle cx="470.0" cy="702.8" r="11"/>
<circle cx="664.0" cy="475.3" r="11"/>
<circle cx="559.3" cy="679.7" r="11"/>
<circle cx="476.7" cy="386.0" r="11"/>
<circle cx="459.0" cy="582.2" r="11"/>
<circle cx="479.4" cy="582.4" r="11"/>
<circle cx="558.8" cy="496.3" r="11"/>
<circle cx="376.2" cy="634.2" r="11"/>
<circle cx="553.7" cy="496.5" r="11"/>
<circle cx="547.7" cy="647.5" r="11"/>
<circle cx="590.1" cy="663.9" r="11"/>
<circle cx="416.5" cy="700.5" r="11"/>
<circle cx="572.6" cy="442.9" r="11"/>
<circle cx="478.9" cy="709.3" r="11"/>
<circle cx="517.1" cy="669.3" r="11"/>
<circle cx="403.2" cy="470.0" r="11"/>
<circle cx="435.3" cy="428.4" r="11"/>
<circle cx="435.1" cy="601.1" r="11"/>
<circle cx="559.2" cy="661.1" r="11"/>
<circle cx="510.7" cy="592.0" r="11"/>
<circle cx="684.0" cy="643.3" r="11"/>
<circle cx="469.0" cy="646.7" r="11"/>
<circle cx="581.7" cy="567.7" r="11"/>
<circle cx="434.9" cy="591.1" r="11"/>
<circle cx="572.7" cy="700.8" r="11"/>
<circle cx="470.3" cy="736.8" r="11"/>
<circle cx="571.6" cy="670.5" r="11"/>
<circle cx="486.4" cy="491.0" r="11"/>
<circle cx="473.7" cy="707.3" r="11"/>
<circle cx="511.4" cy="699.5" r="11"/>
<circle cx="434.0" cy="382.8" r="11"/>
<circle cx="403.8" cy="664.2" r="11"/>
<circle cx="589.6" cy="549.0" r="11"/>
<circle cx="581.8" cy="672.5" r="11"/>
<circle cx="364.9" cy="537.3" r="11"/>
<circle cx="559.8" cy="701.6" r="11"/>
<circle cx="405.7" cy="426.7" r="11"/>
<circle cx="453.6" cy="630.2" r="11"/>
<circle cx="572.0" cy="242.0" r="11"/>
<circle cx="546.9" cy="603.8" r="11"/>
<circle cx="469.8" cy="427.0" r="11"/>
<circle cx="452.9" cy="564.4" r="11"/>
<circle cx="643.7" cy="618.2" r="11"/>
<circle cx="611.6" cy="539.1" r="11"/>
<circle cx="590.2" cy="529.7" r="11"/>
<circle cx="593.3" cy="260.7" r="11"/>
<circle cx="540.4" cy="449.4" r="11"/>
<circle cx="613.3" cy="474.5" r="11"/>
<circle cx="458.5" cy="547.6" r="11"/>
<circle cx="558.8" cy="607.6" r="11"/>
<circle cx="540.7" cy="651.0" r="11"/>
<circle cx="677.2" cy="666.5" r="11"/>
<circle cx="540.3" cy="528.7" r="11"/>
<circle cx="487.2" cy="492.2" r="11"/>
<circle cx="403.5" cy="679.0" r="11"/>
<circle cx="470.0" cy="530.1" r="11"/>
<circle cx="396.0" cy="647.9" r="11"/>
<circle cx="503.3" cy="255.3" r="11"/>
<circle cx="457.1" cy="601.8" r="11"/>
<circle cx="435.2" cy="664.0" r="11"/>
<circle cx="386.0" cy="692.9" r="11"/>
<circle cx="559.1" cy="599.2" r="11"/>
<circle cx="612.9" cy="663.8" r="11"/>
<circle cx="650.0" cy="597.3" r="11"/>
<circle cx="340.3" cy="658.7" r="11"/>
<circle cx="469.3" cy="542.4" r="11"/>
<circle cx="498.2" cy="511.8" r="11"/>
<circle cx="510.7" cy="691.4" r="11"/>
<circle cx="416.6" cy="645.9" r="11"/>
<circle cx="522.5" cy="730.2" r="11"/>
<circle cx="590.3" cy="448.5" r="11"/>
<circle cx="487.1" cy="528.1" r="11"/>
<circle cx="458.8" cy="608.9" r="11"/>
<circle cx="541.0" cy="562.4" r="11"/>
<circle cx="559.1" cy="696.8" r="11"/>
<circle cx="607.1" cy="629.0" r="11"/>
<circle cx="539.8" cy="500.8" r="11"/>
<circle cx="402.8" cy="544.5" r="11"/>
<circle cx="375.7" cy="579.6" r="11"/>
<circle cx="398.4" cy="585.8" r="11"/>
<circle cx="613.3" cy="422.1" r="11"/>
<circle cx="547.9" cy="487.4" r="11"/>
<circle cx="470.2" cy="628.6" r="11"/>
<circle cx="355.0" cy="698.7" r="11"/>
<circle cx="551.9" cy="518.2" r="11"/>
<circle cx="509.7" cy="570.1" r="11"/>
<circle cx="509.7" cy="572.6" r="11"/>
<circle cx="447.6" cy="534.1" r="11"/>
<circle cx="559.2" cy="500.7" r="11"/>
<circle cx="551.9" cy="479.9" r="11"/>
<circle cx="582.0" cy="725.2" r="11"/>
<circle cx="625.9" cy="437.7" r="11"/>
<circle cx="518.7" cy="598.7" r="11"/>
<circle cx="590.3" cy="518.4" r="11"/>
<circle cx="613.1" cy="515.0" r="11"/>
<circle cx="661.3" cy="523.8" r="11"/>
<circle cx="558.4" cy="566.3" r="11"/>
<circle cx="354.3" cy="611.0" r="11"/>
<circle cx="469.5" cy="604.7" r="11"/>
<circle cx="469.5" cy="575.6" r="11"/>
<circle cx="541.1" cy="709.7" r="11"/>
<circle cx="540.6" cy="545.8" r="11"/>
<circle cx="383.0" cy="521.3" r="11"/>
<circle cx="435.6" cy="599.8" r="11"/>
<circle cx="625.9" cy="645.7" r="11"/>
<circle cx="540.5" cy="658.9" r="11"/>
<circle cx="598.6" cy="632.7" r="11"/>
<circle cx="527.7" cy="455.9" r="11"/>
<circle cx="458.1" cy="442.1" r="11"/>
<circle cx="404.9" cy="502.9" r="11"/>
<circle cx="626.1" cy="564.0" r="11"/>
<circle cx="540.9" cy="516.0" r="11"/>
<circle cx="645.8" cy="651.4" r="11"/>
<circle cx="581.1" cy="576.7" r="11"/>
<circle cx="678.7" cy="609.7" r="11"/>
<circle cx="541.6" cy="603.6" r="11"/>
<circle cx="601.9" cy="666.5" r="11"/>
<circle cx="434.9" cy="545.6" r="11"/>
<circle cx="469.9" cy="617.6" r="11"/>
<circle cx="559.1" cy="632.3" r="11"/>
<circle cx="541.0" cy="535.7" r="11"/>
<circle cx="612.7" cy="593.3" r="11"/>
<circle cx="416.6" cy="550.2" r="11"/>
<circle cx="461.0" cy="722.6" r="11"/>
<circle cx="552.1" cy="584.3" r="11"/>
<circle cx="469.1" cy="495.5" r="11"/>
<circle cx="354.2" cy="639.9" r="11"/>
<circle cx="435.0" cy="681.2" r="11"/>
<circle cx="671.9" cy="700.3" r="11"/>
<circle cx="559.2" cy="692.5" r="11"/>
<circle cx="385.9" cy="592.3" r="11"/>
<circle cx="717.3" cy="622.0" r="11"/>
<circle cx="404.4" cy="553.7" r="11"/>
<circle cx="435.4" cy="553.9" r="11"/>
<circle cx="458.2" cy="662.4" r="11"/>
<circle cx="458.0" cy="539.1" r="11"/>
<circle cx="385.8" cy="624.2" r="11"/>
<circle cx="676.9" cy="665.4" r="11"/>
<circle cx="559.1" cy="625.8" r="11"/>
<circle cx="486.6" cy="606.5" r="11"/>
<circle cx="745.3" cy="226.7" r="11"/>
<circle cx="547.5" cy="392.5" r="11"/>
<circle cx="518.1" cy="669.6" r="11"/>
<circle cx="539.7" cy="646.3" r="11"/>
<circle cx="427.0" cy="539.8" r="11"/>
<circle cx="528.1" cy="430.2" r="11"/>
<circle cx="745.3" cy="610.0" r="11"/>
<circle cx="565.8" cy="588.3" r="11"/>
<circle cx="581.5" cy="713.8" r="11"/>
<circle cx="478.3" cy="569.0" r="11"/>
<circle cx="558.9" cy="668.4" r="11"/>
<circle cx="602.4" cy="645.9" r="11"/>
<circle cx="565.5" cy="656.9" r="11"/>
<circle cx="479.1" cy="730.9" r="11"/>
<circle cx="590.1" cy="608.6" r="11"/>
<circle cx="416.1" cy="686.8" r="11"/>
<circle cx="479.6" cy="603.9" r="11"/>
<circle cx="673.5" cy="475.7" r="11"/>
<circle cx="527.5" cy="511.2" r="11"/>
<circle cx="623.1" cy="651.8" r="11"/>
<circle cx="588.8" cy="710.0" r="11"/>
<circle cx="403.6" cy="626.1" r="11"/>
<circle cx="435.2" cy="600.9" r="11"/>
<circle cx="470.5" cy="586.3" r="11"/>
<circle cx="527.1" cy="570.3" r="11"/>
<circle cx="434.5" cy="710.0" r="11"/>
<circle cx="581.7" cy="526.3" r="11"/>
<circle cx="478.6" cy="690.3" r="11"/>
<circle cx="539.8" cy="492.9" r="11"/>
<circle cx="540.5" cy="589.1" r="11"/>
<circle cx="558.8" cy="532.7" r="11"/>
<circle cx="470.1" cy="609.4" r="11"/>
<circle cx="434.9" cy="503.4" r="11"/>
<circle cx="533.9" cy="666.3" r="11"/>
<circle cx="546.9" cy="540.1" r="11"/>
<circle cx="321.7" cy="710.7" r="11"/>
<circle cx="366.8" cy="643.4" r="11"/>
<circle cx="544.4" cy="520.1" r="11"/>
<circle cx="527.8" cy="537.7" r="11"/>
<circle cx="510.4" cy="510.9" r="11"/>
<circle cx="540.4" cy="696.0" r="11"/>
<circle cx="694.0" cy="684.5" r="11"/>
<circle cx="458.6" cy="675.2" r="11"/>
<circle cx="540.7" cy="687.4" r="11"/>
<circle cx="516.8" cy="629.7" r="11"/>
<circle cx="539.9" cy="583.4" r="11"/>
<circle cx="667.9" cy="721.2" r="11"/>
<circle cx="350.9" cy="558.9" r="11"/>
<circle cx="487.3" cy="713.0" r="11"/>
<circle cx="612.6" cy="705.7" r="11"/>
<circle cx="448.0" cy="576.5" r="11"/>
<circle cx="558.4" cy="576.1" r="11"/>
<circle cx="717.3" cy="442.0" r="11"/>
<circle cx="510.6" cy="489.7" r="11"/>
<circle cx="426.9" cy="639.5" r="11"/>
<circle cx="626.6" cy="665.6" r="11"/>
<circle cx="555.4" cy="491.9" r="11"/>
<circle cx="582.1" cy="536.6" r="11"/>
<circle cx="540.8" cy="627.3" r="11"/>
<circle cx="509.9" cy="494.2" r="11"/>
<circle cx="510.1" cy="446.7" r="11"/>
<circle cx="458.5" cy="731.4" r="11"/>
<circle cx="540.7" cy="454.5" r="11"/>
<circle cx="540.2" cy="572.9" r="11"/>
<circle cx="485.9" cy="717.0" r="11"/>
<circle cx="354.7" cy="689.4" r="11"/>
<circle cx="509.2" cy="186.0" r="11"/>
<circle cx="566.8" cy="536.4" r="11"/>
<circle cx="441.9" cy="685.1" r="11"/>
<circle cx="403.9" cy="554.6" r="11"/>
<circle cx="435.3" cy="638.0" r="11"/>
<circle cx="663.2" cy="609.5" r="11"/>
<circle cx="540.4" cy="558.2" r="11"/>
<circle cx="635.3" cy="661.0" r="11"/>
<circle cx="658.6" cy="603.6" r="11"/>
<circle cx="434.9" cy="709.2" r="11"/>
<circle cx="486.6" cy="718.8" r="11"/>
<circle cx="577.2" cy="521.8" r="11"/>
<circle cx="617.9" cy="708.8" r="11"/>
<circle cx="478.6" cy="630.7" r="11"/>
<circle cx="510.7" cy="557.5" r="11"/>
<circle cx="375.9" cy="645.1" r="11"/>
<circle cx="486.3" cy="583.6" r="11"/>
<circle cx="331.0" cy="690.7" r="11"/>
<circle cx="404.8" cy="683.9" r="11"/>
<circle cx="602.9" cy="505.2" r="11"/>
<circle cx="386.1" cy="672.4" r="11"/>
<circle cx="426.7" cy="737.9" r="11"/>
<circle cx="631.2" cy="686.1" r="11"/>
<circle cx="545.3" cy="620.6" r="11"/>
<circle cx="435.2" cy="639.3" r="11"/>
<circle cx="559.2" cy="667.3" r="11"/>
<circle cx="541.3" cy="577.3" r="11"/>
<circle cx="469.7" cy="463.9" r="11"/>
<circle cx="434.4" cy="564.8" r="11"/>
<circle cx="613.3" cy="333.2" r="11"/>
<circle cx="403.9" cy="688.9" r="11"/>
<circle cx="486.9" cy="719.3" r="11"/>
<circle cx="385.6" cy="674.5" r="11"/>
<circle cx="589.8" cy="548.7" r="11"/>
<circle cx="375.7" cy="606.3" r="11"/>
<circle cx="630.9" cy="483.8" r="11"/>
<circle cx="571.5" cy="483.8" r="11"/>
<circle cx="589.2" cy="661.3" r="11"/>
<circle cx="540.2" cy="715.8" r="11"/>
<circle cx="602.0" cy="667.4" r="11"/>
<circle cx="510.4" cy="535.5" r="11"/>
<circle cx="435.4" cy="573.5" r="11"/>
<circle cx="401.7" cy="730.7" r="11"/>
<circle cx="499.5" cy="556.0" r="11"/>
<circle cx="435.0" cy="584.0" r="11"/>
<circle cx="526.4" cy="634.0" r="11"/>
<circle cx="666.0" cy="470.3" r="11"/>
<circle cx="571.6" cy="564.3" r="11"/>
<circle cx="632.4" cy="562.0" r="11"/>
<circle cx="499.2" cy="684.2" r="11"/>
<circle cx="447.9" cy="656.9" r="11"/>
<circle cx="559.6" cy="615.2" r="11"/>
<circle cx="435.2" cy="614.1" r="11"/>
<circle cx="469.4" cy="633.8" r="11"/>
<circle cx="442.0" cy="581.4" r="11"/>
<circle cx="554.3" cy="596.8" r="11"/>
<circle cx="838.7" cy="675.3" r="11"/>
<circle cx="692.3" cy="699.9" r="11"/>
<circle cx="517.9" cy="616.6" r="11"/>
<circle cx="404.7" cy="384.7" r="11"/>
<circle cx="365.6" cy="694.9" r="11"/>
<circle cx="613.6" cy="623.2" r="11"/>
<circle cx="488.2" cy="661.4" r="11"/>
<circle cx="435.5" cy="699.6" r="11"/>
<circle cx="617.0" cy="702.2" r="11"/>
<circle cx="383.0" cy="437.3" r="11"/>
<circle cx="611.9" cy="709.1" r="11"/>
<circle cx="602.9" cy="627.3" r="11"/>
<circle cx="458.6" cy="572.1" r="11"/>
<circle cx="494.0" cy="279.3" r="11"/>
<circle cx="557.0" cy="726.3" r="11"/>
<circle cx="486.4" cy="601.7" r="11"/>
<circle cx="568.2" cy="634.7" r="11"/>
<circle cx="550.1" cy="676.9" r="11"/>
<circle cx="404.5" cy="595.7" r="11"/>
<circle cx="572.0" cy="567.0" r="11"/>
<circle cx="427.7" cy="536.2" r="11"/>
<circle cx="546.0" cy="605.6" r="11"/>
<circle cx="435.8" cy="719.8" r="11"/>
<circle cx="458.3" cy="673.4" r="11"/>
<circle cx="585.3" cy="247.3" r="11"/>
<circle cx="540.9" cy="489.0" r="11"/>
<circle cx="511.6" cy="690.1" r="11"/>
<circle cx="653.4" cy="626.7" r="11"/>
<circle cx="552.9" cy="629.2" r="11"/>
<circle cx="458.2" cy="681.0" r="11"/>
<circle cx="558.8" cy="524.5" r="11"/>
<circle cx="571.3" cy="647.5" r="11"/>
<circle cx="615.8" cy="631.0" r="11"/>
<circle cx="589.3" cy="538.3" r="11"/>
<circle cx="642.0" cy="743.6" r="11"/>
<circle cx="403.3" cy="695.3" r="11"/>
<circle cx="426.7" cy="612.1" r="11"/>
<circle cx="614.4" cy="672.3" r="11"/>
<circle cx="434.8" cy="568.5" r="11"/>
<circle cx="633.9" cy="190.8" r="11"/>
<circle cx="598.8" cy="534.0" r="11"/>
<circle cx="510.3" cy="528.7" r="11"/>
<circle cx="589.9" cy="439.1" r="11"/>
<circle cx="359.3" cy="662.2" r="11"/>
<circle cx="539.9" cy="494.1" r="11"/>
<circle cx="427.0" cy="506.0" r="11"/>
<circle cx="582.2" cy="622.3" r="11"/>
<circle cx="541.0" cy="668.2" r="11"/>
<circle cx="540.4" cy="683.6" r="11"/>
<circle cx="602.6" cy="683.6" r="11"/>
<circle cx="540.1" cy="460.7" r="11"/>
<circle cx="558.6" cy="691.9" r="11"/>
<circle cx="528.7" cy="278.0" r="11"/>
<circle cx="664.0" cy="658.4" r="11"/>
<circle cx="489.6" cy="719.5" r="11"/>
<circle cx="541.0" cy="612.2" r="11"/>
<circle cx="510.4" cy="654.0" r="11"/>
<circle cx="686.4" cy="610.4" r="11"/>
<circle cx="682.1" cy="554.1" r="11"/>
<circle cx="589.4" cy="518.7" r="11"/>
<circle cx="499.3" cy="564.6" r="11"/>
<circle cx="612.5" cy="725.7" r="11"/>
<circle cx="498.4" cy="610.3" r="11"/>
<circle cx="396.4" cy="594.0" r="11"/>
<circle cx="510.7" cy="630.7" r="11"/>
<circle cx="404.1" cy="538.3" r="11"/>
<circle cx="560.0" cy="224.7" r="11"/>
<circle cx="571.5" cy="616.8" r="11"/>
<circle cx="435.0" cy="475.0" r="11"/>
<circle cx="416.8" cy="616.7" r="11"/>
<circle cx="386.5" cy="641.7" r="11"/>
<circle cx="437.5" cy="359.3" r="11"/>
<circle cx="650.1" cy="473.7" r="11"/>
<circle cx="540.3" cy="506.1" r="11"/>
<circle cx="509.8" cy="477.7" r="11"/>
<circle cx="597.7" cy="604.0" r="11"/>
<circle cx="571.4" cy="725.4" r="11"/>
<circle cx="469.9" cy="585.1" r="11"/>
<circle cx="434.8" cy="630.5" r="11"/>
<circle cx="631.6" cy="460.0" r="11"/>
<circle cx="590.0" cy="472.3" r="11"/>
<circle cx="435.1" cy="704.1" r="11"/>
<circle cx="540.6" cy="684.6" r="11"/>
<circle cx="571.8" cy="468.6" r="11"/>
<circle cx="539.9" cy="503.5" r="11"/>
<circle cx="559.1" cy="486.6" r="11"/>
<circle cx="527.6" cy="584.1" r="11"/>
<circle cx="573.3" cy="683.2" r="11"/>
<circle cx="590.0" cy="569.0" r="11"/>
<circle cx="345.7" cy="641.3" r="11"/>
<circle cx="605.5" cy="547.0" r="11"/>
<circle cx="559.4" cy="736.8" r="11"/>
<circle cx="487.7" cy="662.6" r="11"/>
<circle cx="376.1" cy="670.5" r="11"/>
<circle cx="529.3" cy="315.3" r="11"/>
<circle cx="559.0" cy="542.5" r="11"/>
<circle cx="655.5" cy="725.3" r="11"/>
<circle cx="478.7" cy="540.4" r="11"/>
<circle cx="592.7" cy="505.4" r="11"/>
<circle cx="536.9" cy="500.2" r="11"/>
<circle cx="558.9" cy="558.4" r="11"/>
<circle cx="613.4" cy="716.6" r="11"/>
<circle cx="354.2" cy="486.1" r="11"/>
<circle cx="435.1" cy="474.7" r="11"/>
<circle cx="527.7" cy="659.5" r="11"/>
<circle cx="693.2" cy="668.7" r="11"/>
<circle cx="559.3" cy="616.9" r="11"/>
<circle cx="480.1" cy="667.2" r="11"/>
<circle cx="469.7" cy="493.2" r="11"/>
<circle cx="499.9" cy="725.4" r="11"/>
<circle cx="540.9" cy="665.5" r="11"/>
<circle cx="510.8" cy="526.7" r="11"/>
<circle cx="404.6" cy="582.2" r="11"/>
<circle cx="653.2" cy="557.3" r="11"/>
<circle cx="427.2" cy="677.3" r="11"/>
<circle cx="558.6" cy="673.0" r="11"/>
<circle cx="461.2" cy="550.3" r="11"/>
<circle cx="508.7" cy="303.3" r="11"/>
<circle cx="479.5" cy="673.0" r="11"/>
<circle cx="510.5" cy="537.9" r="11"/>
<circle cx="669.3" cy="492.7" r="11"/>
<circle cx="629.7" cy="675.1" r="11"/>
<circle cx="486.7" cy="568.8" r="11"/>
<circle cx="434.7" cy="519.8" r="11"/>
<circle cx="404.2" cy="543.2" r="11"/>
<circle cx="606.6" cy="679.4" r="11"/>
<circle cx="493.0" cy="699.7" r="11"/>
<circle cx="551.0" cy="551.4" r="11"/>
<circle cx="427.0" cy="658.8" r="11"/>
<circle cx="509.7" cy="499.7" r="11"/>
<circle cx="426.9" cy="660.6" r="11"/>
<circle cx="469.2" cy="628.2" r="11"/>
<circle cx="527.6" cy="586.5" r="11"/>
<circle cx="590.2" cy="446.5" r="11"/>
<circle cx="590.3" cy="499.0" r="11"/>
<circle cx="510.4" cy="561.8" r="11"/>
<circle cx="527.7" cy="471.1" r="11"/>
<circle cx="558.7" cy="506.2" r="11"/>
<circle cx="564.0" cy="490.6" r="11"/>
<circle cx="435.4" cy="663.3" r="11"/>
<circle cx="486.3" cy="496.8" r="11"/>
<circle cx="539.9" cy="498.7" r="11"/>
<circle cx="404.0" cy="655.4" r="11"/>
<circle cx="486.7" cy="582.5" r="11"/>
<circle cx="488.7" cy="189.2" r="11"/>
<circle cx="375.2" cy="706.8" r="11"/>
<circle cx="510.0" cy="653.0" r="11"/>
<circle cx="434.9" cy="533.2" r="11"/>
<circle cx="590.2" cy="483.9" r="11"/>
<circle cx="333.7" cy="710.7" r="11"/>
<circle cx="407.0" cy="486.7" r="11"/>
<circle cx="509.8" cy="650.4" r="11"/>
<circle cx="458.1" cy="469.0" r="11"/>
<circle cx="479.1" cy="697.7" r="11"/>
<circle cx="403.8" cy="585.2" r="11"/>
<circle cx="470.4" cy="559.8" r="11"/>
<circle cx="510.5" cy="470.3" r="11"/>
<circle cx="589.4" cy="495.4" r="11"/>
<circle cx="694.1" cy="396.1" r="11"/>
<circle cx="722.7" cy="655.3" r="11"/>
<circle cx="403.9" cy="700.2" r="11"/>
<circle cx="603.2" cy="719.8" r="11"/>
<circle cx="653.7" cy="654.1" r="11"/>
<circle cx="572.2" cy="553.2" r="11"/>
<circle cx="663.8" cy="642.2" r="11"/>
<circle cx="549.3" cy="248.7" r="11"/>
<circle cx="510.1" cy="460.5" r="11"/>
<circle cx="616.9" cy="583.6" r="11"/>
<circle cx="540.0" cy="407.9" r="11"/>
<circle cx="478.5" cy="660.4" r="11"/>
<circle cx="558.7" cy="653.1" r="11"/>
<circle cx="403.9" cy="586.5" r="11"/>
<circle cx="558.2" cy="611.4" r="11"/>
<circle cx="509.3" cy="667.4" r="11"/>
<circle cx="385.8" cy="566.9" r="11"/>
<circle cx="540.1" cy="688.9" r="11"/>
<circle cx="541.0" cy="625.9" r="11"/>
<circle cx="681.2" cy="655.7" r="11"/>
<circle cx="386.6" cy="608.2" r="11"/>
<circle cx="558.8" cy="552.5" r="11"/>
<circle cx="453.0" cy="627.7" r="11"/>
<circle cx="557.8" cy="677.4" r="11"/>
<circle cx="559.0" cy="580.3" r="11"/>
<circle cx="594.9" cy="632.9" r="11"/>
<circle cx="589.8" cy="553.5" r="11"/>
<circle cx="354.8" cy="550.0" r="11"/>
<circle cx="403.5" cy="637.5" r="11"/>
<circle cx="403.9" cy="545.3" r="11"/>
<circle cx="613.3" cy="636.2" r="11"/>
<circle cx="479.3" cy="468.7" r="11"/>
<circle cx="494.0" cy="577.8" r="11"/>
<circle cx="558.7" cy="632.0" r="11"/>
<circle cx="612.5" cy="507.7" r="11"/>
<circle cx="631.4" cy="445.1" r="11"/>
<circle cx="559.3" cy="587.2" r="11"/>
<circle cx="559.6" cy="421.5" r="11"/>
<circle cx="518.0" cy="343.3" r="11"/>
<circle cx="416.6" cy="645.0" r="11"/>
<circle cx="540.8" cy="548.7" r="11"/>
<circle cx="647.9" cy="467.8" r="11"/>
<circle cx="510.4" cy="549.7" r="11"/>
<circle cx="559.2" cy="607.7" r="11"/>
<circle cx="552.8" cy="443.4" r="11"/>
<circle cx="650.7" cy="626.8" r="11"/>
<circle cx="403.6" cy="726.8" r="11"/>
<circle cx="435.0" cy="618.3" r="11"/>
<circle cx="404.4" cy="496.1" r="11"/>
<circle cx="629.3" cy="252.1" r="11"/>
<circle cx="618.6" cy="709.6" r="11"/>
<circle cx="469.5" cy="442.0" r="11"/>
<circle cx="469.7" cy="500.6" r="11"/>
<circle cx="479.5" cy="589.6" r="11"/>
<circle cx="559.3" cy="493.3" r="11"/>
<circle cx="509.6" cy="641.1" r="11"/>
<circle cx="469.2" cy="601.7" r="11"/>
<circle cx="487.1" cy="576.4" r="11"/>
<circle cx="510.2" cy="606.1" r="11"/>
<circle cx="493.4" cy="656.1" r="11"/>
<circle cx="539.8" cy="452.3" r="11"/>
<circle cx="448.2" cy="724.2" r="11"/>
<circle cx="404.3" cy="436.0" r="11"/>
<circle cx="644.7" cy="691.9" r="11"/>
<circle cx="426.0" cy="663.0" r="11"/>
<circle cx="634.0" cy="485.3" r="11"/>
<circle cx="510.0" cy="505.1" r="11"/>
<circle cx="591.7" cy="640.7" r="11"/>
<circle cx="469.9" cy="689.0" r="11"/>
<circle cx="458.3" cy="552.1" r="11"/>
<circle cx="509.6" cy="535.4" r="11"/>
<circle cx="590.0" cy="666.9" r="11"/>
<circle cx="385.4" cy="674.3" r="11"/>
<circle cx="458.6" cy="697.9" r="11"/>
<circle cx="386.1" cy="653.4" r="11"/>
<circle cx="652.4" cy="608.8" r="11"/>
<circle cx="478.5" cy="574.9" r="11"/>
<circle cx="664.5" cy="585.3" r="11"/>
<circle cx="500.0" cy="512.1" r="11"/>
<circle cx="559.3" cy="654.0" r="11"/>
<circle cx="559.8" cy="663.2" r="11"/>
<circle cx="538.7" cy="358.0" r="11"/>
<circle cx="613.2" cy="623.0" r="11"/>
<circle cx="540.8" cy="518.1" r="11"/>
<circle cx="571.2" cy="544.5" r="11"/>
<circle cx="558.0" cy="515.5" r="11"/>
<circle cx="545.9" cy="595.8" r="11"/>
<circle cx="540.6" cy="569.4" r="11"/>
<circle cx="525.3" cy="380.7" r="11"/>
<circle cx="540.8" cy="679.2" r="11"/>
<circle cx="629.5" cy="575.3" r="11"/>
<circle cx="432.0" cy="558.0" r="11"/>
<circle cx="600.3" cy="546.3" r="11"/>
<circle cx="469.4" cy="555.9" r="11"/>
<circle cx="541.0" cy="702.7" r="11"/>
<circle cx="509.2" cy="471.7" r="11"/>
<circle cx="540.7" cy="580.0" r="11"/>
<circle cx="558.5" cy="461.7" r="11"/>
<circle cx="450.9" cy="426.9" r="11"/>
<circle cx="581.0" cy="583.1" r="11"/>
<circle cx="401.7" cy="725.3" r="11"/>
<circle cx="469.7" cy="529.1" r="11"/>
<circle cx="527.3" cy="495.4" r="11"/>
<circle cx="612.0" cy="394.0" r="11"/>
<circle cx="495.3" cy="191.3" r="11"/>
<circle cx="404.6" cy="676.1" r="11"/>
<circle cx="660.0" cy="564.7" r="11"/>
<circle cx="403.8" cy="524.3" r="11"/>
<circle cx="457.7" cy="515.7" r="11"/>
<circle cx="589.2" cy="657.4" r="11"/>
<circle cx="590.3" cy="545.3" r="11"/>
<circle cx="434.8" cy="721.8" r="11"/>
<circle cx="540.7" cy="673.1" r="11"/>
<circle cx="452.5" cy="660.9" r="11"/>
<circle cx="487.0" cy="567.8" r="11"/>
<circle cx="620.2" cy="548.2" r="11"/>
<circle cx="416.7" cy="537.1" r="11"/>
<circle cx="486.8" cy="728.8" r="11"/>
<circle cx="559.0" cy="493.3" r="11"/>
<circle cx="587.4" cy="506.1" r="11"/>
<circle cx="622.9" cy="698.2" r="11"/>
<circle cx="559.4" cy="631.7" r="11"/>
<circle cx="466.0" cy="344.7" r="11"/>
<circle cx="642.7" cy="226.0" r="11"/>
<circle cx="426.3" cy="563.1" r="11"/>
<circle cx="498.8" cy="747.0" r="11"/>
<circle cx="556.2" cy="486.6" r="11"/>
<circle cx="744.0" cy="631.3" r="11"/>
<circle cx="648.2" cy="590.4" r="11"/>
<circle cx="589.8" cy="598.7" r="11"/>
<circle cx="383.0" cy="501.3" r="11"/>
<circle cx="572.0" cy="332.7" r="11"/>
<circle cx="589.6" cy="704.1" r="11"/>
<circle cx="404.7" cy="682.1" r="11"/>
<circle cx="435.3" cy="433.5" r="11"/>
<circle cx="458.3" cy="652.5" r="11"/>
<circle cx="603.3" cy="564.4" r="11"/>
<circle cx="435.3" cy="616.5" r="11"/>
<circle cx="469.9" cy="666.4" r="11"/>
<circle cx="527.5" cy="515.1" r="11"/>
<circle cx="469.7" cy="641.7" r="11"/>
<circle cx="458.7" cy="579.9" r="11"/>
<circle cx="745.3" cy="512.7" r="11"/>
<circle cx="469.8" cy="499.5" r="11"/>
<circle cx="612.9" cy="583.5" r="11"/>
<circle cx="510.1" cy="632.6" r="11"/>
<circle cx="478.9" cy="500.4" r="11"/>
<circle cx="354.6" cy="674.0" r="11"/>
<circle cx="564.3" cy="430.5" r="11"/>
<circle cx="630.0" cy="598.1" r="11"/>
<circle cx="354.6" cy="599.4" r="11"/>
<circle cx="403.7" cy="647.0" r="11"/>
<circle cx="407.0" cy="733.3" r="11"/>
<circle cx="599.5" cy="628.4" r="11"/>
<circle cx="486.6" cy="645.7" r="11"/>
<circle cx="404.2" cy="651.6" r="11"/>
<circle cx="589.6" cy="492.0" r="11"/>
<circle cx="447.8" cy="554.2" r="11"/>
<circle cx="593.5" cy="659.9" r="11"/>
<circle cx="570.7" cy="711.9" r="11"/>
<circle cx="642.2" cy="690.2" r="11"/>
<circle cx="404.3" cy="680.1" r="11"/>
<circle cx="426.4" cy="594.3" r="11"/>
<circle cx="457.8" cy="698.8" r="11"/>
<circle cx="542.7" cy="399.3" r="11"/>
<circle cx="572.5" cy="603.7" r="11"/>
<circle cx="486.8" cy="496.2" r="11"/>
<circle cx="457.5" cy="535.8" r="11"/>
<circle cx="559.5" cy="595.1" r="11"/>
<circle cx="582.1" cy="562.8" r="11"/>
<circle cx="571.7" cy="649.0" r="11"/>
<circle cx="614.7" cy="362.0" r="11"/>
<circle cx="435.3" cy="637.7" r="11"/>
<circle cx="479.3" cy="450.0" r="11"/>
<circle cx="716.7" cy="603.8" r="11"/>
<circle cx="574.2" cy="567.2" r="11"/>
<circle cx="728.0" cy="536.7" r="11"/>
<circle cx="470.6" cy="667.2" r="11"/>
<circle cx="510.0" cy="633.4" r="11"/>
<circle cx="665.8" cy="686.4" r="11"/>
<circle cx="510.0" cy="677.6" r="11"/>
<circle cx="385.3" cy="673.1" r="11"/>
<circle cx="628.1" cy="720.8" r="11"/>
<circle cx="354.8" cy="609.0" r="11"/>
<circle cx="708.8" cy="628.6" r="11"/>
<circle cx="540.9" cy="556.8" r="11"/>
<circle cx="435.5" cy="586.7" r="11"/>
<circle cx="458.1" cy="540.7" r="11"/>
<circle cx="540.0" cy="332.7" r="11"/>
<circle cx="626.7" cy="718.3" r="11"/>
<circle cx="644.7" cy="695.1" r="11"/>
<circle cx="434.5" cy="539.6" r="11"/>
<circle cx="434.9" cy="659.6" r="11"/>
<circle cx="613.3" cy="542.3" r="11"/>
<circle cx="684.0" cy="394.5" r="11"/>
<circle cx="830.7" cy="415.3" r="11"/>
<circle cx="509.2" cy="674.5" r="11"/>
<circle cx="404.0" cy="482.7" r="11"/>
<circle cx="354.5" cy="642.0" r="11"/>
<circle cx="457.5" cy="521.4" r="11"/>
<circle cx="531.7" cy="594.8" r="11"/>
<circle cx="386.1" cy="625.6" r="11"/>
<circle cx="565.6" cy="510.5" r="11"/>
<circle cx="518.1" cy="441.2" r="11"/>
<circle cx="510.5" cy="502.6" r="11"/>
<circle cx="404.8" cy="670.0" r="11"/>
<circle cx="540.7" cy="682.5" r="11"/>
<circle cx="683.5" cy="199.9" r="11"/>
<circle cx="499.3" cy="609.4" r="11"/>
<circle cx="354.7" cy="609.3" r="11"/>
<circle cx="589.5" cy="421.5" r="11"/>
<circle cx="582.1" cy="520.8" r="11"/>
<circle cx="487.3" cy="634.3" r="11"/>
<circle cx="670.7" cy="519.3" r="11"/>
<circle cx="589.7" cy="498.8" r="11"/>
<circle cx="634.2" cy="588.0" r="11"/>
<circle cx="541.2" cy="707.6" r="11"/>
<circle cx="478.7" cy="546.4" r="11"/>
<circle cx="470.1" cy="578.1" r="11"/>
<circle cx="581.9" cy="637.6" r="11"/>
<circle cx="486.7" cy="688.1" r="11"/>
<circle cx="559.5" cy="591.1" r="11"/>
<circle cx="609.7" cy="522.7" r="11"/>
<circle cx="516.9" cy="467.0" r="11"/>
<circle cx="540.6" cy="694.3" r="11"/>
<circle cx="508.9" cy="593.1" r="11"/>
<circle cx="509.9" cy="513.8" r="11"/>
<circle cx="558.6" cy="510.0" r="11"/>
<circle cx="559.7" cy="528.4" r="11"/>
<circle cx="493.1" cy="566.1" r="11"/>
<circle cx="630.3" cy="481.9" r="11"/>
<circle cx="473.6" cy="629.0" r="11"/>
<circle cx="366.2" cy="735.8" r="11"/>
<circle cx="434.7" cy="674.5" r="11"/>
<circle cx="645.0" cy="659.1" r="11"/>
<circle cx="582.6" cy="547.2" r="11"/>
<circle cx="553.7" cy="470.5" r="11"/>
<circle cx="582.0" cy="577.6" r="11"/>
<circle cx="278.2" cy="447.5" r="11"/>
<circle cx="537.5" cy="385.0" r="11"/>
<circle cx="558.5" cy="429.7" r="11"/>
<circle cx="598.9" cy="690.7" r="11"/>
<circle cx="486.5" cy="692.0" r="11"/>
<circle cx="510.3" cy="611.3" r="11"/>
<circle cx="622.0" cy="660.9" r="11"/>
<circle cx="427.0" cy="637.0" r="11"/>
<circle cx="604.0" cy="625.4" r="11"/>
<circle cx="666.3" cy="673.5" r="11"/>
<circle cx="527.8" cy="713.9" r="11"/>
<circle cx="435.5" cy="648.2" r="11"/>
<circle cx="498.8" cy="186.5" r="11"/>
<circle cx="435.3" cy="647.5" r="11"/>
<circle cx="510.3" cy="594.7" r="11"/>
<circle cx="417.1" cy="492.1" r="11"/>
<circle cx="435.3" cy="462.1" r="11"/>
<circle cx="719.3" cy="716.7" r="11"/>
<circle cx="691.4" cy="665.4" r="11"/>
<circle cx="435.0" cy="512.8" r="11"/>
<circle cx="530.7" cy="264.7" r="11"/>
<circle cx="470.0" cy="655.2" r="11"/>
<circle cx="509.9" cy="408.5" r="11"/>
<circle cx="558.7" cy="561.0" r="11"/>
<circle cx="404.5" cy="585.0" r="11"/>
<circle cx="457.6" cy="700.6" r="11"/>
<circle cx="610.7" cy="206.0" r="11"/>
<circle cx="435.4" cy="624.5" r="11"/>
<circle cx="452.5" cy="647.3" r="11"/>
<circle cx="626.9" cy="718.5" r="11"/>
<circle cx="568.0" cy="346.0" r="11"/>
<circle cx="435.9" cy="606.3" r="11"/>
<circle cx="416.5" cy="635.3" r="11"/>
<circle cx="581.3" cy="518.0" r="11"/>
<circle cx="430.0" cy="392.7" r="11"/>
<circle cx="555.3" cy="520.4" r="11"/>
<circle cx="572.0" cy="374.0" r="11"/>
<circle cx="417.0" cy="567.2" r="11"/>
<circle cx="458.3" cy="705.5" r="11"/>
<circle cx="540.5" cy="523.7" r="11"/>
<circle cx="478.9" cy="659.6" r="11"/>
<circle cx="687.2" cy="642.8" r="11"/>
<circle cx="435.6" cy="707.2" r="11"/>
<circle cx="435.5" cy="598.6" r="11"/>
<circle cx="582.1" cy="589.2" r="11"/>
<circle cx="384.5" cy="684.6" r="11"/>
<circle cx="595.7" cy="617.9" r="11"/>
<circle cx="356.3" cy="685.3" r="11"/>
<circle cx="559.3" cy="534.4" r="11"/>
<circle cx="375.5" cy="693.2" r="11"/>
<circle cx="486.7" cy="644.1" r="11"/>
<circle cx="353.8" cy="687.1" r="11"/>
<circle cx="590.1" cy="657.6" r="11"/>
<circle cx="404.3" cy="701.6" r="11"/>
<circle cx="589.3" cy="699.7" r="11"/>
<circle cx="541.3" cy="479.7" r="11"/>
<circle cx="486.2" cy="712.0" r="11"/>
<circle cx="589.9" cy="529.4" r="11"/>
<circle cx="517.3" cy="652.1" r="11"/>
<circle cx="526.6" cy="557.8" r="11"/>
<circle cx="590.2" cy="443.4" r="11"/>
<circle cx="680.4" cy="686.8" r="11"/>
<circle cx="509.9" cy="507.3" r="11"/>
<circle cx="554.8" cy="513.7" r="11"/>
<circle cx="589.7" cy="730.4" r="11"/>
<circle cx="435.1" cy="601.6" r="11"/>
<circle cx="469.7" cy="521.5" r="11"/>
<circle cx="571.2" cy="593.5" r="11"/>
<circle cx="457.1" cy="556.4" r="11"/>
<circle cx="459.0" cy="685.9" r="11"/>
<circle cx="620.0" cy="375.3" r="11"/>
<circle cx="492.7" cy="710.5" r="11"/>
<circle cx="589.9" cy="565.4" r="11"/>
<circle cx="517.7" cy="678.1" r="11"/>
<circle cx="402.8" cy="525.2" r="11"/>
<circle cx="404.3" cy="702.5" r="11"/>
<circle cx="498.9" cy="636.5" r="11"/>
<circle cx="416.7" cy="655.9" r="11"/>
<circle cx="667.4" cy="607.1" r="11"/>
<circle cx="458.8" cy="572.9" r="11"/>
<circle cx="426.0" cy="533.2" r="11"/>
<circle cx="476.7" cy="367.3" r="11"/>
<circle cx="479.0" cy="519.6" r="11"/>
<circle cx="540.4" cy="674.3" r="11"/>
<circle cx="510.2" cy="496.0" r="11"/>
<circle cx="404.0" cy="605.2" r="11"/>
<circle cx="624.1" cy="686.0" r="11"/>
<circle cx="487.2" cy="630.0" r="11"/>
<circle cx="457.9" cy="583.3" r="11"/>
<circle cx="417.2" cy="616.9" r="11"/>
<circle cx="509.7" cy="620.0" r="11"/>
<circle cx="671.3" cy="548.4" r="11"/>
<circle cx="458.8" cy="229.2" r="11"/>
<circle cx="622.2" cy="446.8" r="11"/>
<circle cx="617.0" cy="649.1" r="11"/>
<circle cx="540.7" cy="668.7" r="11"/>
<circle cx="486.5" cy="521.9" r="11"/>
<circle cx="728.0" cy="594.0" r="11"/>
<circle cx="597.8" cy="682.6" r="11"/>
<circle cx="469.5" cy="459.6" r="11"/>
<circle cx="470.2" cy="564.2" r="11"/>
<circle cx="510.2" cy="730.9" r="11"/>
<circle cx="518.2" cy="541.5" r="11"/>
<circle cx="571.4" cy="548.6" r="11"/>
<circle cx="566.7" cy="370.0" r="11"/>
<circle cx="479.2" cy="589.1" r="11"/>
<circle cx="541.3" cy="655.0" r="11"/>
<circle cx="403.8" cy="539.3" r="11"/>
<circle cx="514.0" cy="411.3" r="11"/>
<circle cx="404.1" cy="651.6" r="11"/>
<circle cx="404.5" cy="559.7" r="11"/>
<circle cx="509.4" cy="482.7" r="11"/>
<circle cx="486.3" cy="567.7" r="11"/>
<circle cx="510.1" cy="593.9" r="11"/>
<circle cx="452.9" cy="666.9" r="11"/>
<circle cx="493.9" cy="650.6" r="11"/>
<circle cx="435.7" cy="589.6" r="11"/>
<circle cx="403.4" cy="648.1" r="11"/>
<circle cx="526.9" cy="482.0" r="11"/>
<circle cx="434.4" cy="687.5" r="11"/>
<circle cx="709.3" cy="618.0" r="11"/>
<circle cx="404.6" cy="699.8" r="11"/>
<circle cx="509.8" cy="499.4" r="11"/>
<circle cx="434.6" cy="662.7" r="11"/>
<circle cx="434.5" cy="489.4" r="11"/>
<circle cx="499.0" cy="584.3" r="11"/>
<circle cx="434.7" cy="616.3" r="11"/>
<circle cx="448.3" cy="542.8" r="11"/>
<circle cx="524.7" cy="227.3" r="11"/>
<circle cx="558.5" cy="679.3" r="11"/>
<circle cx="458.4" cy="593.9" r="11"/>
<circle cx="626.1" cy="566.1" r="11"/>
<circle cx="498.6" cy="679.6" r="11"/>
<circle cx="356.3" cy="640.0" r="11"/>
<circle cx="609.3" cy="410.0" r="11"/>
<circle cx="589.0" cy="527.5" r="11"/>
<circle cx="559.8" cy="703.8" r="11"/>
<circle cx="581.5" cy="603.5" r="11"/>
<circle cx="541.1" cy="512.9" r="11"/>
<circle cx="452.7" cy="724.8" r="11"/>
<circle cx="555.6" cy="669.6" r="11"/>
<circle cx="509.6" cy="650.9" r="11"/>
<circle cx="656.1" cy="658.6" r="11"/>
<circle cx="457.1" cy="631.7" r="11"/>
<circle cx="376.0" cy="698.2" r="11"/>
<circle cx="345.2" cy="686.4" r="11"/>
<circle cx="403.3" cy="551.5" r="11"/>
<circle cx="519.3" cy="394.0" r="11"/>
<circle cx="539.9" cy="661.7" r="11"/>
<circle cx="383.0" cy="545.3" r="11"/>
<circle cx="416.9" cy="530.4" r="11"/>
<circle cx="527.5" cy="621.2" r="11"/>
<circle cx="558.8" cy="608.6" r="11"/>
<circle cx="541.1" cy="679.1" r="11"/>
<circle cx="457.6" cy="591.0" r="11"/>
<circle cx="540.9" cy="570.8" r="11"/>
<circle cx="469.6" cy="547.7" r="11"/>
<circle cx="665.3" cy="500.7" r="11"/>
<circle cx="625.1" cy="502.1" r="11"/>
<circle cx="404.1" cy="630.4" r="11"/>
<circle cx="586.5" cy="442.0" r="11"/>
<circle cx="414.9" cy="565.0" r="11"/>
<circle cx="450.0" cy="406.0" r="11"/>
<circle cx="679.2" cy="674.5" r="11"/>
<circle cx="434.7" cy="689.5" r="11"/>
<circle cx="631.1" cy="644.1" r="11"/>
<circle cx="559.3" cy="512.2" r="11"/>
<circle cx="427.0" cy="734.3" r="11"/>
<circle cx="469.1" cy="617.0" r="11"/>
<circle cx="486.5" cy="527.0" r="11"/>
<circle cx="559.4" cy="646.3" r="11"/>
<circle cx="540.7" cy="499.8" r="11"/>
<circle cx="717.3" cy="716.7" r="11"/>
<circle cx="571.1" cy="638.4" r="11"/>
<circle cx="636.1" cy="706.1" r="11"/>
<circle cx="499.4" cy="673.8" r="11"/>
<circle cx="541.7" cy="496.1" r="11"/>
<circle cx="571.9" cy="709.9" r="11"/>
<circle cx="589.7" cy="699.2" r="11"/>
<circle cx="518.2" cy="559.7" r="11"/>
<circle cx="416.7" cy="545.1" r="11"/>
<circle cx="559.7" cy="653.1" r="11"/>
<circle cx="624.4" cy="528.1" r="11"/>
<circle cx="672.8" cy="634.9" r="11"/>
<circle cx="558.6" cy="655.0" r="11"/>
<circle cx="396.5" cy="698.8" r="11"/>
<circle cx="385.7" cy="550.7" r="11"/>
<circle cx="634.7" cy="201.5" r="11"/>
<circle cx="416.7" cy="591.7" r="11"/>
<circle cx="469.9" cy="635.1" r="11"/>
<circle cx="541.3" cy="517.0" r="11"/>
<circle cx="540.7" cy="661.9" r="11"/>
<circle cx="601.4" cy="601.2" r="11"/>
<circle cx="571.9" cy="593.3" r="11"/>
<circle cx="571.4" cy="703.1" r="11"/>
<circle cx="571.2" cy="547.6" r="11"/>
<circle cx="571.9" cy="660.6" r="11"/>
<circle cx="458.6" cy="650.8" r="11"/>
<circle cx="437.5" cy="290.0" r="11"/>
<circle cx="644.3" cy="522.8" r="11"/>
<circle cx="610.7" cy="650.5" r="11"/>
<circle cx="624.8" cy="665.6" r="11"/>
<circle cx="558.6" cy="694.8" r="11"/>
<circle cx="434.8" cy="508.2" r="11"/>
<circle cx="607.6" cy="698.2" r="11"/>
<circle cx="453.5" cy="743.5" r="11"/>
<circle cx="478.6" cy="618.2" r="11"/>
<circle cx="540.9" cy="727.1" r="11"/>
<circle cx="776.5" cy="676.5" r="11"/>
<circle cx="486.8" cy="576.7" r="11"/>
<circle cx="551.5" cy="595.6" r="11"/>
<circle cx="541.0" cy="689.0" r="11"/>
<circle cx="559.5" cy="666.8" r="11"/>
<circle cx="742.7" cy="707.3" r="11"/>
<circle cx="404.3" cy="529.3" r="11"/>
<circle cx="541.1" cy="477.3" r="11"/>
<circle cx="386.2" cy="484.7" r="11"/>
<circle cx="509.8" cy="566.7" r="11"/>
<circle cx="571.8" cy="635.2" r="11"/>
<circle cx="457.9" cy="695.1" r="11"/>
<circle cx="572.0" cy="590.9" r="11"/>
<circle cx="529.9" cy="527.4" r="11"/>
<circle cx="622.2" cy="672.1" r="11"/>
<circle cx="510.7" cy="412.0" r="11"/>
<circle cx="559.1" cy="645.2" r="11"/>
<circle cx="493.8" cy="691.4" r="11"/>
<circle cx="486.4" cy="672.6" r="11"/>
<circle cx="486.6" cy="526.7" r="11"/>
<circle cx="725.3" cy="624.7" r="11"/>
<circle cx="469.9" cy="711.4" r="11"/>
<circle cx="485.9" cy="691.8" r="11"/>
<circle cx="426.2" cy="607.8" r="11"/>
<circle cx="559.5" cy="622.8" r="11"/>
<circle cx="589.5" cy="541.3" r="11"/>
<circle cx="590.2" cy="725.5" r="11"/>
<circle cx="426.6" cy="640.4" r="11"/>
<circle cx="591.1" cy="616.0" r="11"/>
<circle cx="600.9" cy="722.0" r="11"/>
<circle cx="425.4" cy="662.2" r="11"/>
<circle cx="602.9" cy="686.0" r="11"/>
<circle cx="539.7" cy="602.5" r="11"/>
<circle cx="499.5" cy="540.6" r="11"/>
<circle cx="426.3" cy="622.1" r="11"/>
<circle cx="619.0" cy="657.8" r="11"/>
<circle cx="558.1" cy="542.3" r="11"/>
<circle cx="653.3" cy="415.3" r="11"/>
<circle cx="540.4" cy="528.5" r="11"/>
<circle cx="487.0" cy="498.6" r="11"/>
<circle cx="435.9" cy="514.0" r="11"/>
<circle cx="559.1" cy="510.4" r="11"/>
<circle cx="586.8" cy="719.6" r="11"/>
<circle cx="669.2" cy="696.8" r="11"/>
<circle cx="644.1" cy="649.1" r="11"/>
<circle cx="435.1" cy="477.4" r="11"/>
<circle cx="426.7" cy="456.2" r="11"/>
<circle cx="426.4" cy="573.2" r="11"/>
<circle cx="404.1" cy="466.1" r="11"/>
<circle cx="632.1" cy="645.5" r="11"/>
<circle cx="524.6" cy="704.0" r="11"/>
<circle cx="346.7" cy="678.8" r="11"/>
<circle cx="355.1" cy="621.1" r="11"/>
<circle cx="646.1" cy="610.6" r="11"/>
<circle cx="614.5" cy="573.2" r="11"/>
<circle cx="573.3" cy="264.7" r="11"/>
<circle cx="581.8" cy="579.8" r="11"/>
<circle cx="434.9" cy="634.0" r="11"/>
<circle cx="541.0" cy="628.6" r="11"/>
<circle cx="404.0" cy="657.4" r="11"/>
<circle cx="630.7" cy="410.0" r="11"/>
<circle cx="717.3" cy="646.0" r="11"/>
<circle cx="435.1" cy="569.7" r="11"/>
<circle cx="549.3" cy="330.0" r="11"/>
<circle cx="618.7" cy="670.0" r="11"/>
<circle cx="720.0" cy="234.0" r="11"/>
<circle cx="340.3" cy="693.3" r="11"/>
<circle cx="541.7" cy="488.9" r="11"/>
<circle cx="366.8" cy="697.6" r="11"/>
<circle cx="499.2" cy="471.4" r="11"/>
<circle cx="527.1" cy="469.8" r="11"/>
<circle cx="603.1" cy="591.6" r="11"/>
<circle cx="403.2" cy="550.0" r="11"/>
<circle cx="545.9" cy="535.4" r="11"/>
<circle cx="571.9" cy="677.8" r="11"/>
<circle cx="458.6" cy="577.5" r="11"/>
<circle cx="487.0" cy="626.9" r="11"/>
<circle cx="435.1" cy="604.0" r="11"/>
<circle cx="478.5" cy="437.2" r="11"/>
<circle cx="458.2" cy="547.4" r="11"/>
<circle cx="589.6" cy="666.1" r="11"/>
<circle cx="559.1" cy="516.9" r="11"/>
<circle cx="620.0" cy="399.3" r="11"/>
<circle cx="675.2" cy="505.0" r="11"/>
<circle cx="486.7" cy="539.6" r="11"/>
<circle cx="515.1" cy="530.9" r="11"/>
<circle cx="435.2" cy="642.2" r="11"/>
<circle cx="479.6" cy="731.2" r="11"/>
<circle cx="559.1" cy="506.6" r="11"/>
<circle cx="625.9" cy="578.2" r="11"/>
<circle cx="571.7" cy="732.2" r="11"/>
<circle cx="589.8" cy="576.4" r="11"/>
<circle cx="571.9" cy="538.6" r="11"/>
<circle cx="717.3" cy="522.0" r="11"/>
<circle cx="479.3" cy="601.0" r="11"/>
<circle cx="590.9" cy="605.1" r="11"/>
<circle cx="510.2" cy="556.6" r="11"/>
<circle cx="485.8" cy="584.1" r="11"/>
<circle cx="616.6" cy="597.7" r="11"/>
<circle cx="458.1" cy="492.7" r="11"/>
<circle cx="468.7" cy="295.3" r="11"/>
<circle cx="558.2" cy="519.5" r="11"/>
<circle cx="436.0" cy="701.6" r="11"/>
<circle cx="404.2" cy="741.6" r="11"/>
<circle cx="540.4" cy="483.8" r="11"/>
<circle cx="452.9" cy="677.3" r="11"/>
<circle cx="375.9" cy="684.7" r="11"/>
<circle cx="385.8" cy="544.8" r="11"/>
<circle cx="540.8" cy="589.6" r="11"/>
<circle cx="458.0" cy="575.3" r="11"/>
<circle cx="510.9" cy="584.8" r="11"/>
<circle cx="541.4" cy="581.8" r="11"/>
<circle cx="571.9" cy="473.6" r="11"/>
<circle cx="517.7" cy="488.9" r="11"/>
<circle cx="586.8" cy="489.8" r="11"/>
<circle cx="590.2" cy="688.3" r="11"/>
<circle cx="457.6" cy="525.3" r="11"/>
<circle cx="580.0" cy="250.0" r="11"/>
<circle cx="511.8" cy="600.8" r="11"/>
<circle cx="385.6" cy="713.2" r="11"/>
<circle cx="540.9" cy="620.6" r="11"/>
<circle cx="570.7" cy="282.0" r="11"/>
<circle cx="629.4" cy="437.6" r="11"/>
<circle cx="559.8" cy="458.1" r="11"/>
<circle cx="435.2" cy="587.9" r="11"/>
<circle cx="588.0" cy="622.8" r="11"/>
<circle cx="427.0" cy="621.3" r="11"/>
<circle cx="527.1" cy="481.7" r="11"/>
<circle cx="510.6" cy="562.3" r="11"/>
<circle cx="668.0" cy="543.3" r="11"/>
<circle cx="581.7" cy="478.0" r="11"/>
<circle cx="403.5" cy="504.6" r="11"/>
<circle cx="526.8" cy="612.3" r="11"/>
<circle cx="435.1" cy="516.9" r="11"/>
<circle cx="602.5" cy="492.1" r="11"/>
<circle cx="572.6" cy="512.2" r="11"/>
<circle cx="608.8" cy="625.5" r="11"/>
<circle cx="510.1" cy="471.0" r="11"/>
<circle cx="558.4" cy="509.3" r="11"/>
<circle cx="662.7" cy="715.0" r="11"/>
<circle cx="479.3" cy="535.2" r="11"/>
<circle cx="417.1" cy="539.3" r="11"/>
<circle cx="435.3" cy="549.3" r="11"/>
<circle cx="493.2" cy="602.7" r="11"/>
<circle cx="427.0" cy="592.1" r="11"/>
<circle cx="458.0" cy="603.6" r="11"/>
<circle cx="540.9" cy="615.2" r="11"/>
<circle cx="332.3" cy="685.3" r="11"/>
<circle cx="510.1" cy="493.8" r="11"/>
<circle cx="201.7" cy="692.5" r="11"/>
<circle cx="519.9" cy="500.3" r="11"/>
<circle cx="540.8" cy="482.3" r="11"/>
<circle cx="589.9" cy="693.9" r="11"/>
<circle cx="478.3" cy="563.4" r="11"/>
<circle cx="653.3" cy="352.7" r="11"/>
<circle cx="435.3" cy="497.7" r="11"/>
<circle cx="416.2" cy="662.9" r="11"/>
<circle cx="589.5" cy="601.9" r="11"/>
<circle cx="590.3" cy="517.9" r="11"/>
<circle cx="688.0" cy="543.3" r="11"/>
<circle cx="447.8" cy="673.8" r="11"/>
<circle cx="486.2" cy="689.1" r="11"/>
<circle cx="457.9" cy="643.0" r="11"/>
<circle cx="453.3" cy="744.9" r="11"/>
<circle cx="444.7" cy="326.0" r="11"/>
<circle cx="434.7" cy="680.5" r="11"/>
<circle cx="426.9" cy="680.2" r="11"/>
<circle cx="403.6" cy="478.6" r="11"/>
<circle cx="385.6" cy="632.1" r="11"/>
<circle cx="509.9" cy="616.7" r="11"/>
<circle cx="518.1" cy="581.7" r="11"/>
<circle cx="486.9" cy="714.0" r="11"/>
<circle cx="512.7" cy="310.0" r="11"/>
<circle cx="416.6" cy="614.3" r="11"/>
<circle cx="618.3" cy="656.8" r="11"/>
<circle cx="518.2" cy="679.5" r="11"/>
<circle cx="522.0" cy="262.0" r="11"/>
<circle cx="702.8" cy="593.8" r="11"/>
<circle cx="354.8" cy="679.7" r="11"/>
<circle cx="572.0" cy="478.0" r="11"/>
<circle cx="589.5" cy="556.6" r="11"/>
<circle cx="590.2" cy="476.9" r="11"/>
<circle cx="540.7" cy="505.0" r="11"/>
<circle cx="353.7" cy="726.7" r="11"/>
<circle cx="622.7" cy="279.3" r="11"/>
<circle cx="403.9" cy="636.7" r="11"/>
<circle cx="589.5" cy="597.3" r="11"/>
<circle cx="594.9" cy="711.3" r="11"/>
<circle cx="435.6" cy="731.4" r="11"/>
<circle cx="590.7" cy="635.6" r="11"/>
<circle cx="404.8" cy="689.0" r="11"/>
<circle cx="527.7" cy="623.4" r="11"/>
<circle cx="416.5" cy="656.4" r="11"/>
<circle cx="510.9" cy="495.7" r="11"/>
<circle cx="435.1" cy="711.9" r="11"/>
<circle cx="603.1" cy="600.2" r="11"/>
<circle cx="434.9" cy="701.1" r="11"/>
<circle cx="427.9" cy="499.4" r="11"/>
<circle cx="582.0" cy="653.0" r="11"/>
<circle cx="510.9" cy="530.7" r="11"/>
<circle cx="458.0" cy="351.9" r="11"/>
<circle cx="541.1" cy="647.8" r="11"/>
<circle cx="540.3" cy="712.9" r="11"/>
<circle cx="510.7" cy="520.1" r="11"/>
<circle cx="361.7" cy="674.7" r="11"/>
<circle cx="487.3" cy="584.4" r="11"/>
<circle cx="251.0" cy="724.8" r="11"/>
<circle cx="528.4" cy="673.9" r="11"/>
<circle cx="558.3" cy="480.9" r="11"/>
<circle cx="510.9" cy="666.5" r="11"/>
<circle cx="434.5" cy="653.5" r="11"/>
<circle cx="383.0" cy="580.0" r="11"/>
<circle cx="626.0" cy="568.1" r="11"/>
<circle cx="589.2" cy="590.5" r="11"/>
<circle cx="478.0" cy="391.9" r="11"/>
<circle cx="664.1" cy="643.0" r="11"/>
<circle cx="639.4" cy="680.6" r="11"/>
<circle cx="612.0" cy="327.3" r="11"/>
<circle cx="666.3" cy="644.3" r="11"/>
<circle cx="581.1" cy="646.5" r="11"/>
<circle cx="364.9" cy="580.0" r="11"/>
<circle cx="540.4" cy="547.1" r="11"/>
<circle cx="434.5" cy="665.8" r="11"/>
<circle cx="643.8" cy="549.2" r="11"/>
<circle cx="598.0" cy="616.7" r="11"/>
<circle cx="435.4" cy="566.5" r="11"/>
<circle cx="621.3" cy="583.2" r="11"/>
<circle cx="478.8" cy="727.6" r="11"/>
<circle cx="487.0" cy="525.8" r="11"/>
<circle cx="509.8" cy="690.0" r="11"/>
<circle cx="589.9" cy="590.3" r="11"/>
<circle cx="434.6" cy="553.2" r="11"/>
<circle cx="607.9" cy="543.4" r="11"/>
<circle cx="559.4" cy="445.8" r="11"/>
<circle cx="469.1" cy="550.4" r="11"/>
<circle cx="623.4" cy="664.3" r="11"/>
<circle cx="708.4" cy="725.4" r="11"/>
<circle cx="551.1" cy="561.4" r="11"/>
<circle cx="541.3" cy="689.1" r="11"/>
<circle cx="417.0" cy="633.4" r="11"/>
<circle cx="540.8" cy="641.3" r="11"/>
<circle cx="590.0" cy="631.8" r="11"/>
<circle cx="383.0" cy="688.0" r="11"/>
<circle cx="457.5" cy="581.6" r="11"/>
<circle cx="385.7" cy="573.6" r="11"/>
<circle cx="541.2" cy="563.8" r="11"/>
<circle cx="458.0" cy="688.1" r="11"/>
<circle cx="549.7" cy="438.1" r="11"/>
<circle cx="662.5" cy="673.3" r="11"/>
<circle cx="509.2" cy="385.5" r="11"/>
<circle cx="436.5" cy="580.9" r="11"/>
<circle cx="403.8" cy="716.9" r="11"/>
<circle cx="570.6" cy="689.2" r="11"/>
<circle cx="468.7" cy="507.1" r="11"/>
<circle cx="478.0" cy="362.5" r="11"/>
<circle cx="328.7" cy="410.8" r="11"/>
<circle cx="559.6" cy="669.3" r="11"/>
<circle cx="479.9" cy="340.7" r="11"/>
<circle cx="589.7" cy="697.2" r="11"/>
<circle cx="404.1" cy="633.0" r="11"/>
<circle cx="498.4" cy="596.0" r="11"/>
<circle cx="510.0" cy="655.3" r="11"/>
<circle cx="512.7" cy="479.0" r="11"/>
<circle cx="659.9" cy="651.0" r="11"/>
<circle cx="540.5" cy="583.8" r="11"/>
<circle cx="534.7" cy="322.0" r="11"/>
<circle cx="493.6" cy="620.0" r="11"/>
<circle cx="559.5" cy="720.3" r="11"/>
<circle cx="545.6" cy="629.4" r="11"/>
<circle cx="435.8" cy="605.2" r="11"/>
<circle cx="644.0" cy="679.9" r="11"/>
<circle cx="644.0" cy="354.0" r="11"/>
<circle cx="572.7" cy="650.7" r="11"/>
<circle cx="404.0" cy="582.0" r="11"/>
<circle cx="540.9" cy="419.2" r="11"/>
<circle cx="528.0" cy="529.3" r="11"/>
<circle cx="479.6" cy="462.7" r="11"/>
<circle cx="584.9" cy="541.1" r="11"/>
<circle cx="581.2" cy="714.4" r="11"/>
<circle cx="658.1" cy="613.9" r="11"/>
<circle cx="510.1" cy="631.4" r="11"/>
<circle cx="598.4" cy="556.1" r="11"/>
<circle cx="604.6" cy="470.9" r="11"/>
<circle cx="527.4" cy="722.0" r="11"/>
<circle cx="625.8" cy="424.4" r="11"/>
<circle cx="562.4" cy="719.5" r="11"/>
<circle cx="581.4" cy="597.0" r="11"/>
<circle cx="517.8" cy="670.3" r="11"/>
<circle cx="487.0" cy="618.0" r="11"/>
<circle cx="720.0" cy="727.6" r="11"/>
<circle cx="581.8" cy="569.4" r="11"/>
<circle cx="409.7" cy="473.3" r="11"/>
<circle cx="509.9" cy="676.7" r="11"/>
<circle cx="395.4" cy="558.9" r="11"/>
<circle cx="558.9" cy="517.5" r="11"/>
<circle cx="589.7" cy="717.6" r="11"/>
<circle cx="540.3" cy="503.0" r="11"/>
<circle cx="717.3" cy="352.7" r="11"/>
<circle cx="458.2" cy="441.1" r="11"/>
<circle cx="479.0" cy="563.5" r="11"/>
<circle cx="510.5" cy="672.5" r="11"/>
<circle cx="486.9" cy="558.6" r="11"/>
<circle cx="558.9" cy="447.3" r="11"/>
<circle cx="526.9" cy="526.9" r="11"/>
<circle cx="796.0" cy="686.0" r="11"/>
<circle cx="470.2" cy="625.9" r="11"/>
<circle cx="639.7" cy="671.7" r="11"/>
<circle cx="510.8" cy="484.1" r="11"/>
<circle cx="570.0" cy="400.0" r="11"/>
<circle cx="472.7" cy="210.5" r="11"/>
<circle cx="435.2" cy="637.0" r="11"/>
<circle cx="573.0" cy="622.9" r="11"/>
<circle cx="486.6" cy="575.3" r="11"/>
<circle cx="527.8" cy="675.2" r="11"/>
<circle cx="404.1" cy="718.7" r="11"/>
<circle cx="470.3" cy="661.9" r="11"/>
<circle cx="597.8" cy="625.1" r="11"/>
<circle cx="435.3" cy="608.9" r="11"/>
<circle cx="486.3" cy="525.3" r="11"/>
<circle cx="559.7" cy="670.9" r="11"/>
<circle cx="589.8" cy="521.7" r="11"/>
<circle cx="403.9" cy="617.4" r="11"/>
<circle cx="793.3" cy="636.7" r="11"/>
<circle cx="569.6" cy="702.4" r="11"/>
<circle cx="589.9" cy="623.7" r="11"/>
<circle cx="435.4" cy="631.5" r="11"/>
<circle cx="528.1" cy="214.0" r="11"/>
<circle cx="581.7" cy="657.2" r="11"/>
<circle cx="434.2" cy="618.8" r="11"/>
<circle cx="537.3" cy="212.7" r="11"/>
<circle cx="680.9" cy="623.0" r="11"/>
<circle cx="435.3" cy="595.6" r="11"/>
<circle cx="385.2" cy="597.8" r="11"/>
<circle cx="540.5" cy="503.3" r="11"/>
<circle cx="510.3" cy="509.7" r="11"/>
<circle cx="692.0" cy="594.0" r="11"/>
<circle cx="486.8" cy="629.7" r="11"/>
<circle cx="559.6" cy="656.2" r="11"/>
<circle cx="375.5" cy="689.2" r="11"/>
<circle cx="540.5" cy="477.0" r="11"/>
<circle cx="458.1" cy="510.1" r="11"/>
<circle cx="367.0" cy="601.3" r="11"/>
<circle cx="527.6" cy="439.7" r="11"/>
<circle cx="458.4" cy="494.3" r="11"/>
<circle cx="602.1" cy="526.3" r="11"/>
<circle cx="450.9" cy="720.6" r="11"/>
<circle cx="453.9" cy="644.2" r="11"/>
<circle cx="527.3" cy="702.5" r="11"/>
<circle cx="488.7" cy="269.2" r="11"/>
<circle cx="470.2" cy="558.8" r="11"/>
<circle cx="510.7" cy="575.5" r="11"/>
<circle cx="514.0" cy="690.0" r="11"/>
<circle cx="452.8" cy="624.1" r="11"/>
<circle cx="315.0" cy="648.5" r="11"/>
<circle cx="499.5" cy="495.3" r="11"/>
<circle cx="518.0" cy="492.3" r="11"/>
<circle cx="540.9" cy="579.9" r="11"/>
<circle cx="637.8" cy="663.0" r="11"/>
<circle cx="551.1" cy="596.7" r="11"/>
<circle cx="692.2" cy="485.8" r="11"/>
<circle cx="559.1" cy="460.0" r="11"/>
<circle cx="644.6" cy="584.5" r="11"/>
<circle cx="659.3" cy="574.4" r="11"/>
<circle cx="841.3" cy="668.7" r="11"/>
<circle cx="552.5" cy="390.0" r="11"/>
<circle cx="434.9" cy="624.9" r="11"/>
<circle cx="469.4" cy="546.3" r="11"/>
<circle cx="386.1" cy="632.5" r="11"/>
<circle cx="510.2" cy="505.1" r="11"/>
<circle cx="579.6" cy="562.7" r="11"/>
<circle cx="403.5" cy="536.3" r="11"/>
<circle cx="486.0" cy="635.5" r="11"/>
<circle cx="541.4" cy="645.5" r="11"/>
<circle cx="510.4" cy="643.6" r="11"/>
<circle cx="540.5" cy="534.3" r="11"/>
<circle cx="386.0" cy="627.9" r="11"/>
<circle cx="464.7" cy="220.1" r="11"/>
<circle cx="435.0" cy="644.3" r="11"/>
<circle cx="493.0" cy="661.8" r="11"/>
<circle cx="657.2" cy="565.5" r="11"/>
<circle cx="576.5" cy="580.1" r="11"/>
<circle cx="448.0" cy="517.8" r="11"/>
<circle cx="458.0" cy="691.2" r="11"/>
<circle cx="559.0" cy="497.5" r="11"/>
<circle cx="405.0" cy="695.4" r="11"/>
<circle cx="702.6" cy="710.5" r="11"/>
<circle cx="657.9" cy="575.5" r="11"/>
<circle cx="555.3" cy="422.6" r="11"/>
<circle cx="559.4" cy="579.9" r="11"/>
<circle cx="553.8" cy="694.5" r="11"/>
<circle cx="510.3" cy="688.8" r="11"/>
<circle cx="667.7" cy="614.0" r="11"/>
<circle cx="768.0" cy="695.3" r="11"/>
<circle cx="526.6" cy="496.7" r="11"/>
<circle cx="623.5" cy="657.6" r="11"/>
<circle cx="405.2" cy="640.3" r="11"/>
<circle cx="476.4" cy="575.3" r="11"/>
<circle cx="416.4" cy="568.7" r="11"/>
<circle cx="499.1" cy="530.4" r="11"/>
<circle cx="399.0" cy="477.4" r="11"/>
<circle cx="513.5" cy="234.0" r="11"/>
<circle cx="541.2" cy="562.0" r="11"/>
<circle cx="442.8" cy="715.1" r="11"/>
<circle cx="540.6" cy="591.9" r="11"/>
<circle cx="394.9" cy="574.4" r="11"/>
<circle cx="524.7" cy="303.3" r="11"/>
<circle cx="426.4" cy="684.6" r="11"/>
<circle cx="532.7" cy="512.8" r="11"/>
<circle cx="478.8" cy="467.7" r="11"/>
<circle cx="589.5" cy="645.6" r="11"/>
<circle cx="559.3" cy="466.4" r="11"/>
<circle cx="403.8" cy="651.3" r="11"/>
<circle cx="448.0" cy="580.2" r="11"/>
<circle cx="693.0" cy="686.3" r="11"/>
<circle cx="558.9" cy="600.8" r="11"/>
<circle cx="653.3" cy="257.5" r="11"/>
<circle cx="510.3" cy="505.7" r="11"/>
<circle cx="435.5" cy="609.2" r="11"/>
<circle cx="775.2" cy="698.0" r="11"/>
<circle cx="504.2" cy="504.5" r="11"/>
<circle cx="558.9" cy="597.7" r="11"/>
<circle cx="540.0" cy="459.7" r="11"/>
<circle cx="485.8" cy="537.2" r="11"/>
<circle cx="499.4" cy="470.2" r="11"/>
<circle cx="447.8" cy="491.3" r="11"/>
<circle cx="383.3" cy="419.3" r="11"/>
<circle cx="593.6" cy="557.9" r="11"/>
<circle cx="385.7" cy="621.3" r="11"/>
<circle cx="403.4" cy="718.6" r="11"/>
<circle cx="527.5" cy="712.7" r="11"/>
<circle cx="540.5" cy="669.3" r="11"/>
<circle cx="416.3" cy="560.9" r="11"/>
<circle cx="400.7" cy="415.3" r="11"/>
<circle cx="546.1" cy="652.5" r="11"/>
<circle cx="478.8" cy="499.7" r="11"/>
<circle cx="649.2" cy="457.1" r="11"/>
<circle cx="603.4" cy="540.1" r="11"/>
<circle cx="541.7" cy="555.9" r="11"/>
<circle cx="365.6" cy="622.6" r="11"/>
<circle cx="419.1" cy="686.9" r="11"/>
<circle cx="478.0" cy="414.0" r="11"/>
<circle cx="527.2" cy="612.6" r="11"/>
<circle cx="625.9" cy="700.9" r="11"/>
<circle cx="510.3" cy="491.2" r="11"/>
<circle cx="457.7" cy="523.9" r="11"/>
<circle cx="355.0" cy="680.8" r="11"/>
<circle cx="558.1" cy="603.2" r="11"/>
<circle cx="575.9" cy="528.8" r="11"/>
<circle cx="687.1" cy="536.7" r="11"/>
<circle cx="427.2" cy="646.5" r="11"/>
<circle cx="404.1" cy="552.4" r="11"/>
<circle cx="516.0" cy="639.5" r="11"/>
<circle cx="372.3" cy="540.0" r="11"/>
<circle cx="468.1" cy="327.3" r="11"/>
<circle cx="672.3" cy="595.8" r="11"/>
<circle cx="509.9" cy="552.1" r="11"/>
<circle cx="434.9" cy="501.0" r="11"/>
<circle cx="404.3" cy="560.3" r="11"/>
<circle cx="434.2" cy="700.0" r="11"/>
<circle cx="471.3" cy="591.8" r="11"/>
<circle cx="540.7" cy="515.4" r="11"/>
<circle cx="527.6" cy="649.0" r="11"/>
<circle cx="700.0" cy="504.7" r="11"/>
<circle cx="384.5" cy="436.2" r="11"/>
<circle cx="559.5" cy="646.2" r="11"/>
<circle cx="539.8" cy="717.4" r="11"/>
<circle cx="493.6" cy="567.2" r="11"/>
<circle cx="503.3" cy="414.0" r="11"/>
<circle cx="556.6" cy="471.7" r="11"/>
<circle cx="529.6" cy="443.7" r="11"/>
<circle cx="558.8" cy="649.5" r="11"/>
<circle cx="505.5" cy="631.9" r="11"/>
<circle cx="404.1" cy="632.3" r="11"/>
<circle cx="499.3" cy="485.0" r="11"/>
<circle cx="589.8" cy="597.0" r="11"/>
<circle cx="559.5" cy="672.0" r="11"/>
<circle cx="602.9" cy="677.0" r="11"/>
<circle cx="251.0" cy="400.0" r="11"/>
<circle cx="486.7" cy="725.3" r="11"/>
<circle cx="509.8" cy="511.7" r="11"/>
<circle cx="486.1" cy="601.2" r="11"/>
<circle cx="434.5" cy="576.6" r="11"/>
<circle cx="587.6" cy="427.9" r="11"/>
<circle cx="578.6" cy="475.8" r="11"/>
<circle cx="540.7" cy="722.9" r="11"/>
<circle cx="640.0" cy="382.0" r="11"/>
<circle cx="571.5" cy="471.6" r="11"/>
<circle cx="396.3" cy="484.0" r="11"/>
<circle cx="510.3" cy="430.4" r="11"/>
<circle cx="671.7" cy="605.4" r="11"/>
<circle cx="708.8" cy="424.7" r="11"/>
<circle cx="434.6" cy="629.9" r="11"/>
<circle cx="292.3" cy="456.5" r="11"/>
<circle cx="540.7" cy="447.7" r="11"/>
<circle cx="568.6" cy="590.9" r="11"/>
<circle cx="486.3" cy="696.9" r="11"/>
<circle cx="404.5" cy="618.4" r="11"/>
<circle cx="559.6" cy="687.7" r="11"/>
<circle cx="602.9" cy="455.3" r="11"/>
<circle cx="457.9" cy="704.5" r="11"/>
<circle cx="662.7" cy="632.8" r="11"/>
<circle cx="596.6" cy="692.7" r="11"/>
<circle cx="843.5" cy="613.5" r="11"/>
<circle cx="579.6" cy="666.8" r="11"/>
<circle cx="558.8" cy="484.1" r="11"/>
<circle cx="574.2" cy="453.4" r="11"/>
<circle cx="510.8" cy="612.3" r="11"/>
<circle cx="839.2" cy="690.0" r="11"/>
<circle cx="611.4" cy="675.1" r="11"/>
<circle cx="540.6" cy="565.2" r="11"/>
<circle cx="630.7" cy="645.6" r="11"/>
<circle cx="559.3" cy="560.0" r="11"/>
<circle cx="559.1" cy="557.4" r="11"/>
<circle cx="606.3" cy="719.1" r="11"/>
<circle cx="541.1" cy="575.8" r="11"/>
<circle cx="434.8" cy="633.2" r="11"/>
<circle cx="590.3" cy="679.5" r="11"/>
<circle cx="541.0" cy="697.2" r="11"/>
<circle cx="510.5" cy="600.6" r="11"/>
<circle cx="540.9" cy="691.2" r="11"/>
<circle cx="546.7" cy="238.0" r="11"/>
<circle cx="613.4" cy="596.0" r="11"/>
<circle cx="404.7" cy="703.0" r="11"/>
<circle cx="559.3" cy="576.6" r="11"/>
<circle cx="612.9" cy="702.9" r="11"/>
<circle cx="458.0" cy="589.4" r="11"/>
<circle cx="458.2" cy="646.2" r="11"/>
<circle cx="437.5" cy="252.1" r="11"/>
<circle cx="589.6" cy="515.6" r="11"/>
<circle cx="510.6" cy="539.8" r="11"/>
<circle cx="517.8" cy="493.2" r="11"/>
<circle cx="486.8" cy="589.6" r="11"/>
<circle cx="540.4" cy="451.6" r="11"/>
<circle cx="635.0" cy="742.6" r="11"/>
<circle cx="670.8" cy="705.3" r="11"/>
<circle cx="559.0" cy="521.2" r="11"/>
<circle cx="386.6" cy="707.1" r="11"/>
<circle cx="685.8" cy="616.2" r="11"/>
<circle cx="581.9" cy="603.5" r="11"/>
<circle cx="590.3" cy="649.7" r="11"/>
<circle cx="559.5" cy="619.2" r="11"/>
<circle cx="470.7" cy="513.7" r="11"/>
<circle cx="510.0" cy="733.0" r="11"/>
<circle cx="509.6" cy="570.6" r="11"/>
<circle cx="510.2" cy="693.4" r="11"/>
<circle cx="562.5" cy="395.0" r="11"/>
<circle cx="580.0" cy="402.0" r="11"/>
<circle cx="540.7" cy="586.0" r="11"/>
<circle cx="581.6" cy="448.9" r="11"/>
<circle cx="404.2" cy="640.5" r="11"/>
<circle cx="628.4" cy="684.4" r="11"/>
<circle cx="680.5" cy="517.0" r="11"/>
<circle cx="513.6" cy="641.5" r="11"/>
<circle cx="404.5" cy="634.3" r="11"/>
<circle cx="354.2" cy="502.1" r="11"/>
<circle cx="567.7" cy="618.6" r="11"/>
<circle cx="745.0" cy="659.1" r="11"/>
<circle cx="251.0" cy="740.0" r="11"/>
<circle cx="526.5" cy="494.9" r="11"/>
<circle cx="486.8" cy="689.4" r="11"/>
<circle cx="611.5" cy="464.2" r="11"/>
<circle cx="588.7" cy="536.1" r="11"/>
<circle cx="517.4" cy="711.1" r="11"/>
<circle cx="510.2" cy="536.6" r="11"/>
<circle cx="527.7" cy="569.3" r="11"/>
<circle cx="606.7" cy="367.3" r="11"/>
<circle cx="499.2" cy="678.3" r="11"/>
<circle cx="418.5" cy="389.2" r="11"/>
<circle cx="559.5" cy="522.8" r="11"/>
<circle cx="375.9" cy="695.7" r="11"/>
<circle cx="527.2" cy="630.2" r="11"/>
<circle cx="633.4" cy="695.4" r="11"/>
<circle cx="644.5" cy="647.9" r="11"/>
<circle cx="480.0" cy="465.3" r="11"/>
<circle cx="510.0" cy="471.1" r="11"/>
<circle cx="613.7" cy="558.1" r="11"/>
<circle cx="359.0" cy="728.0" r="11"/>
<circle cx="508.7" cy="351.3" r="11"/>
<circle cx="386.3" cy="618.6" r="11"/>
<circle cx="416.5" cy="560.2" r="11"/>
<circle cx="528.1" cy="619.5" r="11"/>
<circle cx="380.3" cy="588.0" r="11"/>
<circle cx="395.5" cy="621.7" r="11"/>
<circle cx="570.7" cy="665.3" r="11"/>
<circle cx="626.9" cy="440.1" r="11"/>
<circle cx="386.7" cy="489.7" r="11"/>
<circle cx="667.1" cy="728.8" r="11"/>
<circle cx="375.6" cy="679.6" r="11"/>
<circle cx="627.6" cy="517.2" r="11"/>
<circle cx="458.4" cy="640.1" r="11"/>
<circle cx="486.1" cy="724.6" r="11"/>
<circle cx="487.5" cy="422.2" r="11"/>
<circle cx="712.0" cy="535.3" r="11"/>
<circle cx="681.6" cy="723.8" r="11"/>
<circle cx="486.4" cy="574.3" r="11"/>
<circle cx="626.5" cy="610.8" r="11"/>
<circle cx="590.1" cy="582.1" r="11"/>
<circle cx="540.7" cy="484.1" r="11"/>
<circle cx="617.3" cy="652.5" r="11"/>
<circle cx="572.0" cy="715.9" r="11"/>
<circle cx="692.0" cy="494.0" r="11"/>
<circle cx="385.6" cy="526.7" r="11"/>
<circle cx="469.7" cy="588.9" r="11"/>
<circle cx="495.2" cy="534.8" r="11"/>
<circle cx="457.8" cy="705.8" r="11"/>
<circle cx="510.0" cy="615.8" r="11"/>
<circle cx="436.7" cy="308.7" r="11"/>
<circle cx="403.8" cy="694.7" r="11"/>
<circle cx="452.9" cy="595.4" r="11"/>
<circle cx="589.9" cy="521.4" r="11"/>
<circle cx="591.2" cy="479.0" r="11"/>
<circle cx="559.8" cy="690.7" r="11"/>
<circle cx="509.1" cy="657.2" r="11"/>
<circle cx="470.2" cy="707.7" r="11"/>
<circle cx="594.8" cy="715.1" r="11"/>
<circle cx="510.1" cy="664.0" r="11"/>
<circle cx="435.0" cy="689.5" r="11"/>
<circle cx="499.0" cy="562.6" r="11"/>
<circle cx="627.6" cy="574.5" r="11"/>
<circle cx="540.9" cy="700.0" r="11"/>
<circle cx="510.0" cy="506.2" r="11"/>
<circle cx="648.5" cy="555.7" r="11"/>
<circle cx="642.7" cy="702.2" r="11"/>
<circle cx="603.4" cy="594.8" r="11"/>
</g>
<g clip-path="url(#cp)">
<path class="iso" d="M561.3 743.6 L561.3 743.6 L561.1 743.6 L560.7 743.6 L560.2 743.6 L559.5 743.6 L558.7 743.6 L557.8 743.5 L556.8 743.5 L555.7 743.5 L554.4 743.4 L553.1 743.4 L551.7 743.3 L550.2 743.3 L548.7 743.2 L547.1 743.1 L545.4 743.1 L543.7 743.0 L542.0 742.9 L540.2 742.8 L538.5 742.8 L536.7 742.7 L534.8 742.6 L533.0 742.5 L531.2 742.4 L529.4 742.2 L527.5 742.1 L525.7 742.0 L523.9 741.9 L522.1 741.8 L520.3 741.6 L518.5 741.5 L516.7 741.3 L514.9 741.2 L513.2 741.1 L511.5 740.9 L509.8 740.7 L508.1 740.6 L506.4 740.4 L504.7 740.2 L503.1 740.1 L501.5 739.9 L499.9 739.7 L498.3 739.5 L496.7 739.3 L495.2 739.1 L493.6 738.9 L492.1 738.7 L490.6 738.5 L489.2 738.3 L487.7 738.0 L486.3 737.8 L484.8 737.6 L483.4 737.3 L482.0 737.1 L480.7 736.9 L479.3 736.6 L478.0 736.4 L476.7 736.1 L475.4 735.8 L474.1 735.6 L472.8 735.3 L471.5 735.0 L470.3 734.7 L469.1 734.4 L467.8 734.2 L466.6 733.9 L465.5 733.6 L464.3 733.3 L463.1 733.0 L462.0 732.6 L460.8 732.3 L459.7 732.0 L458.6 731.7 L457.5 731.3 L456.4 731.0 L455.3 730.7 L454.3 730.3 L453.2 730.0 L452.2 729.6 L451.1 729.3 L450.1 728.9 L449.1 728.5 L448.1 728.2 L447.1 727.8 L446.1 727.4 L445.2 727.0 L444.2 726.6 L443.3 726.3 L442.3 725.9 L441.4 725.5 L440.5 725.0 L439.6 724.6 L438.6 724.2 L437.7 723.8 L436.9 723.4 L436.0 722.9 L435.1 722.5 L434.2 722.1 L433.4 721.6 L432.5 721.2 L431.7 720.7 L430.8 720.3 L430.0 719.8 L429.2 719.4 L428.4 718.9 L427.6 718.4 L426.8 717.9 L426.0 717.4 L425.2 717.0 L424.4 716.5 L423.6 716.0 L422.9 715.5 L422.1 715.0 L421.4 714.5 L420.6 713.9 L419.9 713.4 L419.1 712.9 L418.4 712.4 L417.7 711.8 L416.9 711.3 L416.2 710.8 L415.5 710.2 L414.8 709.7 L414.1 709.1 L413.4 708.6 L412.7 708.0 L412.0 707.4 L411.4 706.8 L410.7 706.3 L410.0 705.7 L409.4 705.1 L408.7 704.5 L408.0 703.9 L407.4 703.3 L406.8 702.7 L406.1 702.1 L405.5 701.5 L404.8 700.9 L404.2 700.3 L403.6 699.6 L403.0 699.0 L402.4 698.4 L401.7 697.7 L401.1 697.1 L400.5 696.4 L399.9 695.8 L399.3 695.1 L398.7 694.4 L398.2 693.8 L397.6 693.1 L397.0 692.4 L396.4 691.8 L395.8 691.1 L395.3 690.4 L394.7 689.7 L394.1 689.0 L393.6 688.3 L393.0 687.6 L392.5 686.9 L391.9 686.1 L391.4 685.4 L390.8 684.7 L390.3 684.0 L389.7 683.2 L389.2 682.5 L388.7 681.8 L388.2 681.0 L387.6 680.3 L387.1 679.5 L386.6 678.7 L386.1 678.0 L385.6 677.2 L385.1 676.4 L384.5 675.6 L384.0 674.9 L383.5 674.1 L383.0 673.3 L382.5 672.5 L382.0 671.7 L381.6 670.9 L381.1 670.1 L380.6 669.2 L380.1 668.4 L379.6 667.6 L379.1 666.8 L378.7 665.9 L378.2 665.1 L377.7 664.3 L377.3 663.4 L376.8 662.6 L376.3 661.7 L375.9 660.8 L375.4 660.0 L374.9 659.1 L374.5 658.2 L374.0 657.4 L373.6 656.5 L373.1 655.6 L372.7 654.7 L372.3 653.8 L371.8 652.9 L371.4 652.0 L370.9 651.1 L370.5 650.2 L370.1 649.3 L369.6 648.3 L369.2 647.4 L368.8 646.5 L368.4 645.5 L367.9 644.6 L367.5 643.6 L367.1 642.7 L366.7 641.7 L366.3 640.8 L365.9 639.8 L365.4 638.8 L365.0 637.9 L364.6 636.9 L364.2 635.9 L363.8 634.9 L363.4 633.9 L363.0 632.9 L362.6 631.9 L362.2 630.9 L361.8 629.9 L361.4 628.9 L361.0 627.9 L360.6 626.9 L360.3 625.9 L359.9 624.8 L359.5 623.8 L359.1 622.7 L358.7 621.7 L358.3 620.7 L358.0 619.6 L357.6 618.5 L357.2 617.5 L356.8 616.4 L356.5 615.3 L356.1 614.3 L355.7 613.2 L355.4 612.1 L355.0 611.0 L354.6 609.9 L354.3 608.8 L353.9 607.7 L353.5 606.6 L353.2 605.5 L352.8 604.4 L352.5 603.3 L352.1 602.1 L351.8 601.0 L351.4 599.9 L351.1 598.7 L350.7 597.6 L350.4 596.4 L350.0 595.3 L349.7 594.1 L349.3 593.0 L349.0 591.8 L348.6 590.6 L348.3 589.5 L348.0 588.3 L347.6 587.1 L347.3 585.9 L346.9 584.7 L346.6 583.5 L346.3 582.3 L345.9 581.1 L345.6 579.9 L345.3 578.7 L345.0 577.5 L344.6 576.2 L344.3 575.0 L344.0 573.8 L343.7 572.5 L343.3 571.3 L343.0 570.1 L342.7 568.8 L342.4 567.5 L342.1 566.3 L341.7 565.0 L341.4 563.8 L341.1 562.5 L340.8 561.2 L340.5 559.9 L340.2 558.6 L339.9 557.3 L339.6 556.0 L339.2 554.7 L338.9 553.4 L338.6 552.1 L338.3 550.8 L338.0 549.5 L337.7 548.2 L337.4 546.8 L337.1 545.5 L336.8 544.2 L336.5 542.8 L336.2 541.5 L335.9 540.1 L335.6 538.8 L335.3 537.4 L335.0 536.1 L334.8 534.7 L334.5 533.3 L334.2 531.9 L333.9 530.6 L333.6 529.2 L333.3 527.8 L333.0 526.4 L332.7 525.0 L332.4 523.6 L332.2 522.2 L331.9 520.8 L331.6 519.3 L331.3 517.9 L331.0 516.5 L330.7 515.1 L330.5 513.6 L330.2 512.2 L329.9 510.7 L329.6 509.3 L329.4 507.8 L329.1 506.4 L328.8 504.9 L328.5 503.5 L328.3 502.0 L328.0 500.5 L327.7 499.0 L327.5 497.5 L327.2 496.1 L326.9 494.6 L326.6 493.1 L326.4 491.6 L326.1 490.1 L325.8 488.5 L325.6 487.0 L325.3 485.5 L325.1 484.0 L324.8 482.5 L324.5 480.9 L324.3 479.4 L324.0 477.8 L323.8 476.3 L323.5 474.7 L323.2 473.2 L323.0 471.6 L322.7 470.1 L322.5 468.5 L322.2 466.9 L322.0 465.3 L321.7 463.7 L321.5 462.2 L321.2 460.6 L320.9 459.0 L320.7 457.4 L320.4 455.8 L320.2 454.2 L320.0 452.5 L319.7 450.9 L319.5 449.3 L319.2 447.7 L319.0 446.0 L318.7 444.4 L318.5 442.8 L318.2 441.1 L318.0 439.5 L317.7 437.8 L317.5 436.1 L317.3 434.5 L317.0 432.8 L316.8 431.1 L316.5 429.5 L316.3 427.8 L316.1 426.1 L315.8 424.4 L315.6 422.7 L315.4 421.0 L315.1 419.3 L314.9 417.6 L314.6 415.9 L314.4 414.1 L314.2 412.4 L314.0 410.7 L313.7 409.0 L313.5 407.2 L313.3 405.5 L313.0 403.7 L312.8 402.0 L312.6 400.2 L312.3 398.5 L312.1 396.7 L311.9 395.0 L311.7 393.2 L311.4 391.4 L311.2 389.6 L311.0 387.8 L310.8 386.0 L310.5 384.2 L310.3 382.5 L310.1 380.6 L309.9 378.8 L309.6 377.0 L309.4 375.2 L309.2 373.4 L309.0 371.6 L308.8 369.7 L308.5 367.9 L308.3 366.1 L308.1 364.2 L307.9 362.4 L307.7 360.5 L307.5 358.7 L307.2 356.8 L307.0 354.9 L306.8 353.1 L306.6 351.2 L306.4 349.3 L306.2 347.4 L306.0 345.5 L305.7 343.6 L305.5 341.7 L305.3 339.8 L305.1 337.9 L304.9 336.0 L304.7 334.1 L304.5 332.2 L304.3 330.2 L304.1 328.3 L303.9 326.4 L303.6 324.4 L303.4 322.5 L303.2 320.6 L303.0 318.6 L302.8 316.6 L302.6 314.7 L302.4 312.7 L302.2 310.8 L302.0 308.8 L301.8 306.8 L301.6 304.8 L301.4 302.8 L301.2 300.8 L301.0 298.8 L300.8 296.8 L300.6 294.8 L300.4 292.8 L300.2 290.8 L300.0 288.8 L299.8 286.8 L299.6 284.7 L299.4 282.7 L299.2 280.7 L299.0 278.6 L298.8 276.6 L298.6 274.5 L298.4 272.5 L298.2 270.4 L298.0 268.3 L297.8 266.3 L297.6 264.2 L297.4 262.1 L297.3 260.0 L297.1 258.0 L296.9 255.9 L296.7 253.8 L296.5 251.7 L296.3 249.6 L296.1 247.5 L295.9 245.3 L295.7 243.2 L295.5 241.1 L295.3 239.0 L295.2 236.8 L295.0 234.7 L294.8 232.6 L294.6 230.4 L294.4 228.3 L294.2 226.1 L294.0 224.0 L293.8 221.8 L293.7 219.6 L293.5 217.5 L293.3 215.3 L293.1 213.1 L292.9 210.9 L292.7 208.7 L292.6 206.5 L292.4 204.3 L292.2 202.1 L292.0 199.9 L291.8 197.7 L291.6 195.5 L291.5 193.3 L291.3 191.0 L291.1 188.8 L290.9 186.6 L290.7 184.3 L290.6 182.1 L290.4 179.8 L290.2 177.6 L290.0 175.3 L289.8 173.1 L289.7 170.8 L289.5 168.5 L289.3 166.3 L289.1 164.0 L289.0 161.7 L288.8 159.4 L288.6 157.1 L288.4 154.8 L288.3 152.5 L288.1 150.2 L287.9 147.9 L287.7 145.6 L287.6 143.3 L287.4 140.9 L287.2 138.6 L287.0 136.3 L286.9 133.9 L286.7 131.6 L286.5 129.2 L286.4 126.9 L286.2 124.5 L286.0 122.2 L285.9 119.8 L285.7 117.4 L285.5 115.1 L285.3 112.7 L285.2 110.3 L285.0 107.9 L284.8 105.5 L284.7 103.1 L284.5 100.7 L284.3 98.3 L284.2 95.9 L284.0 93.5 L283.8 91.1 L283.7 88.6 L283.5 86.2 L283.3 83.8 L283.2 81.3 L283.0 78.9 L282.8 76.5 L282.7 74.0 L282.5 71.6 L282.4 69.1 L282.2 66.6 L282.0 64.2 L281.9 61.7 L281.7 59.2 L281.5 56.7 L281.4 54.2 L281.2 51.7 L281.1 49.3 L280.9 46.8 L280.7 44.2 L280.6 41.7 L280.4 39.2 L280.3 36.7 L280.1 34.2 L279.9 31.7 L279.8 29.1 L279.6 26.6 L279.5 24.1 L279.3 21.5 L279.1 19.0 L279.0 16.4 L278.8 13.8 L278.7 11.3 L278.5 8.7 L278.4 6.1 L278.2 3.6 L278.0 1.0 L277.9 -1.6 L277.7 -4.2 L277.6 -6.8 L277.4 -9.4 L277.3 -12.0 L277.1 -14.6 L277.0 -17.2 L276.8 -19.8 L276.7 -22.4 L276.5 -25.1 L276.3 -27.7 L276.2 -30.3 L276.0 -33.0 L275.9 -35.6 L275.7 -38.3 L275.6 -40.9 L275.4 -43.6 L275.3 -46.2 L275.1 -48.9 L275.0 -51.6 L274.8 -54.3 L274.7 -56.9 L274.5 -59.6 L274.4 -62.3 L274.2 -65.0"/>
<path class="iso" d="M664.7 743.6 L664.6 743.6 L664.4 743.6 L664.0 743.6 L663.5 743.6 L662.9 743.6 L662.1 743.6 L661.2 743.5 L660.2 743.5 L659.0 743.5 L657.8 743.4 L656.5 743.4 L655.1 743.3 L653.6 743.3 L652.0 743.2 L650.4 743.1 L648.8 743.1 L647.1 743.0 L645.3 742.9 L643.6 742.8 L641.8 742.8 L640.0 742.7 L638.2 742.6 L636.4 742.5 L634.5 742.4 L632.7 742.2 L630.9 742.1 L629.0 742.0 L627.2 741.9 L625.4 741.8 L623.6 741.6 L621.8 741.5 L620.1 741.3 L618.3 741.2 L616.5 741.1 L614.8 740.9 L613.1 740.7 L611.4 740.6 L609.7 740.4 L608.1 740.2 L606.4 740.1 L604.8 739.9 L603.2 739.7 L601.6 739.5 L600.1 739.3 L598.5 739.1 L597.0 738.9 L595.5 738.7 L594.0 738.5 L592.5 738.3 L591.1 738.0 L589.6 737.8 L588.2 737.6 L586.8 737.3 L585.4 737.1 L584.0 736.9 L582.7 736.6 L581.3 736.4 L580.0 736.1 L578.7 735.8 L577.4 735.6 L576.1 735.3 L574.9 735.0 L573.6 734.7 L572.4 734.4 L571.2 734.2 L570.0 733.9 L568.8 733.6 L567.6 733.3 L566.5 733.0 L565.3 732.6 L564.2 732.3 L563.1 732.0 L562.0 731.7 L560.9 731.3 L559.8 731.0 L558.7 730.7 L557.6 730.3 L556.6 730.0 L555.5 729.6 L554.5 729.3 L553.5 728.9 L552.5 728.5 L551.5 728.2 L550.5 727.8 L549.5 727.4 L548.5 727.0 L547.6 726.6 L546.6 726.3 L545.7 725.9 L544.7 725.5 L543.8 725.0 L542.9 724.6 L542.0 724.2 L541.1 723.8 L540.2 723.4 L539.3 722.9 L538.5 722.5 L537.6 722.1 L536.7 721.6 L535.9 721.2 L535.0 720.7 L534.2 720.3 L533.4 719.8 L532.5 719.4 L531.7 718.9 L530.9 718.4 L530.1 717.9 L529.3 717.4 L528.5 717.0 L527.8 716.5 L527.0 716.0 L526.2 715.5 L525.5 715.0 L524.7 714.5 L524.0 713.9 L523.2 713.4 L522.5 712.9 L521.7 712.4 L521.0 711.8 L520.3 711.3 L519.6 710.8 L518.9 710.2 L518.2 709.7 L517.5 709.1 L516.8 708.6 L516.1 708.0 L515.4 707.4 L514.7 706.8 L514.0 706.3 L513.4 705.7 L512.7 705.1 L512.1 704.5 L511.4 703.9 L510.7 703.3 L510.1 702.7 L509.5 702.1 L508.8 701.5 L508.2 700.9 L507.6 700.3 L506.9 699.6 L506.3 699.0 L505.7 698.4 L505.1 697.7 L504.5 697.1 L503.9 696.4 L503.3 695.8 L502.7 695.1 L502.1 694.4 L501.5 693.8 L500.9 693.1 L500.3 692.4 L499.8 691.8 L499.2 691.1 L498.6 690.4 L498.0 689.7 L497.5 689.0 L496.9 688.3 L496.4 687.6 L495.8 686.9 L495.3 686.1 L494.7 685.4 L494.2 684.7 L493.6 684.0 L493.1 683.2 L492.6 682.5 L492.0 681.8 L491.5 681.0 L491.0 680.3 L490.5 679.5 L489.9 678.7 L489.4 678.0 L488.9 677.2 L488.4 676.4 L487.9 675.6 L487.4 674.9 L486.9 674.1 L486.4 673.3 L485.9 672.5 L485.4 671.7 L484.9 670.9 L484.4 670.1 L483.9 669.2 L483.4 668.4 L483.0 667.6 L482.5 666.8 L482.0 665.9 L481.5 665.1 L481.1 664.3 L480.6 663.4 L480.1 662.6 L479.7 661.7 L479.2 660.8 L478.8 660.0 L478.3 659.1 L477.8 658.2 L477.4 657.4 L476.9 656.5 L476.5 655.6 L476.0 654.7 L475.6 653.8 L475.2 652.9 L474.7 652.0 L474.3 651.1 L473.9 650.2 L473.4 649.3 L473.0 648.3 L472.6 647.4 L472.1 646.5 L471.7 645.5 L471.3 644.6 L470.9 643.6 L470.4 642.7 L470.0 641.7 L469.6 640.8 L469.2 639.8 L468.8 638.8 L468.4 637.9 L468.0 636.9 L467.6 635.9 L467.2 634.9 L466.8 633.9 L466.4 632.9 L466.0 631.9 L465.6 630.9 L465.2 629.9 L464.8 628.9 L464.4 627.9 L464.0 626.9 L463.6 625.9 L463.2 624.8 L462.8 623.8 L462.5 622.7 L462.1 621.7 L461.7 620.7 L461.3 619.6 L460.9 618.5 L460.6 617.5 L460.2 616.4 L459.8 615.3 L459.4 614.3 L459.1 613.2 L458.7 612.1 L458.3 611.0 L458.0 609.9 L457.6 608.8 L457.2 607.7 L456.9 606.6 L456.5 605.5 L456.2 604.4 L455.8 603.3 L455.5 602.1 L455.1 601.0 L454.8 599.9 L454.4 598.7 L454.1 597.6 L453.7 596.4 L453.4 595.3 L453.0 594.1 L452.7 593.0 L452.3 591.8 L452.0 590.6 L451.6 589.5 L451.3 588.3 L451.0 587.1 L450.6 585.9 L450.3 584.7 L450.0 583.5 L449.6 582.3 L449.3 581.1 L449.0 579.9 L448.6 578.7 L448.3 577.5 L448.0 576.2 L447.7 575.0 L447.3 573.8 L447.0 572.5 L446.7 571.3 L446.4 570.1 L446.0 568.8 L445.7 567.5 L445.4 566.3 L445.1 565.0 L444.8 563.8 L444.5 562.5 L444.1 561.2 L443.8 559.9 L443.5 558.6 L443.2 557.3 L442.9 556.0 L442.6 554.7 L442.3 553.4 L442.0 552.1 L441.7 550.8 L441.4 549.5 L441.1 548.2 L440.8 546.8 L440.5 545.5 L440.2 544.2 L439.9 542.8 L439.6 541.5 L439.3 540.1 L439.0 538.8 L438.7 537.4 L438.4 536.1 L438.1 534.7 L437.8 533.3 L437.5 531.9 L437.2 530.6 L436.9 529.2 L436.7 527.8 L436.4 526.4 L436.1 525.0 L435.8 523.6 L435.5 522.2 L435.2 520.8 L434.9 519.3 L434.7 517.9 L434.4 516.5 L434.1 515.1 L433.8 513.6 L433.5 512.2 L433.3 510.7 L433.0 509.3 L432.7 507.8 L432.4 506.4 L432.2 504.9 L431.9 503.5 L431.6 502.0 L431.3 500.5 L431.1 499.0 L430.8 497.5 L430.5 496.1 L430.3 494.6 L430.0 493.1 L429.7 491.6 L429.5 490.1 L429.2 488.5 L428.9 487.0 L428.7 485.5 L428.4 484.0 L428.1 482.5 L427.9 480.9 L427.6 479.4 L427.4 477.8 L427.1 476.3 L426.8 474.7 L426.6 473.2 L426.3 471.6 L426.1 470.1 L425.8 468.5 L425.6 466.9 L425.3 465.3 L425.1 463.7 L424.8 462.2 L424.6 460.6 L424.3 459.0 L424.0 457.4 L423.8 455.8 L423.5 454.2 L423.3 452.5 L423.1 450.9 L422.8 449.3 L422.6 447.7 L422.3 446.0 L422.1 444.4 L421.8 442.8 L421.6 441.1 L421.3 439.5 L421.1 437.8 L420.9 436.1 L420.6 434.5 L420.4 432.8 L420.1 431.1 L419.9 429.5 L419.7 427.8 L419.4 426.1 L419.2 424.4 L418.9 422.7 L418.7 421.0 L418.5 419.3 L418.2 417.6 L418.0 415.9 L417.8 414.1 L417.5 412.4 L417.3 410.7 L417.1 409.0 L416.8 407.2 L416.6 405.5 L416.4 403.7 L416.1 402.0 L415.9 400.2 L415.7 398.5 L415.5 396.7 L415.2 395.0 L415.0 393.2 L414.8 391.4 L414.6 389.6 L414.3 387.8 L414.1 386.0 L413.9 384.2 L413.7 382.5 L413.4 380.6 L413.2 378.8 L413.0 377.0 L412.8 375.2 L412.6 373.4 L412.3 371.6 L412.1 369.7 L411.9 367.9 L411.7 366.1 L411.5 364.2 L411.2 362.4 L411.0 360.5 L410.8 358.7 L410.6 356.8 L410.4 354.9 L410.2 353.1 L409.9 351.2 L409.7 349.3 L409.5 347.4 L409.3 345.5 L409.1 343.6 L408.9 341.7 L408.7 339.8 L408.5 337.9 L408.2 336.0 L408.0 334.1 L407.8 332.2 L407.6 330.2 L407.4 328.3 L407.2 326.4 L407.0 324.4 L406.8 322.5 L406.6 320.6 L406.4 318.6 L406.2 316.6 L406.0 314.7 L405.8 312.7 L405.6 310.8 L405.4 308.8 L405.2 306.8 L405.0 304.8 L404.7 302.8 L404.5 300.8 L404.3 298.8 L404.1 296.8 L403.9 294.8 L403.7 292.8 L403.5 290.8 L403.3 288.8 L403.1 286.8 L402.9 284.7 L402.8 282.7 L402.6 280.7 L402.4 278.6 L402.2 276.6 L402.0 274.5 L401.8 272.5 L401.6 270.4 L401.4 268.3 L401.2 266.3 L401.0 264.2 L400.8 262.1 L400.6 260.0 L400.4 258.0 L400.2 255.9 L400.0 253.8 L399.8 251.7 L399.6 249.6 L399.5 247.5 L399.3 245.3 L399.1 243.2 L398.9 241.1 L398.7 239.0 L398.5 236.8 L398.3 234.7 L398.1 232.6 L397.9 230.4 L397.8 228.3 L397.6 226.1 L397.4 224.0 L397.2 221.8 L397.0 219.6 L396.8 217.5 L396.6 215.3 L396.5 213.1 L396.3 210.9 L396.1 208.7 L395.9 206.5 L395.7 204.3 L395.5 202.1 L395.4 199.9 L395.2 197.7 L395.0 195.5 L394.8 193.3 L394.6 191.0 L394.5 188.8 L394.3 186.6 L394.1 184.3 L393.9 182.1 L393.7 179.8 L393.6 177.6 L393.4 175.3 L393.2 173.1 L393.0 170.8 L392.8 168.5 L392.7 166.3 L392.5 164.0 L392.3 161.7 L392.1 159.4 L392.0 157.1 L391.8 154.8 L391.6 152.5 L391.4 150.2 L391.3 147.9 L391.1 145.6 L390.9 143.3 L390.7 140.9 L390.6 138.6 L390.4 136.3 L390.2 133.9 L390.1 131.6 L389.9 129.2 L389.7 126.9 L389.5 124.5 L389.4 122.2 L389.2 119.8 L389.0 117.4 L388.9 115.1 L388.7 112.7 L388.5 110.3 L388.4 107.9 L388.2 105.5 L388.0 103.1 L387.9 100.7 L387.7 98.3 L387.5 95.9 L387.4 93.5 L387.2 91.1 L387.0 88.6 L386.9 86.2 L386.7 83.8 L386.5 81.3 L386.4 78.9 L386.2 76.5 L386.0 74.0 L385.9 71.6 L385.7 69.1 L385.5 66.6 L385.4 64.2 L385.2 61.7 L385.0 59.2 L384.9 56.7 L384.7 54.2 L384.6 51.7 L384.4 49.3 L384.2 46.8 L384.1 44.2 L383.9 41.7 L383.8 39.2 L383.6 36.7 L383.4 34.2 L383.3 31.7 L383.1 29.1 L383.0 26.6 L382.8 24.1 L382.6 21.5 L382.5 19.0 L382.3 16.4 L382.2 13.8 L382.0 11.3 L381.9 8.7 L381.7 6.1 L381.5 3.6 L381.4 1.0 L381.2 -1.6 L381.1 -4.2 L380.9 -6.8 L380.8 -9.4 L380.6 -12.0 L380.5 -14.6 L380.3 -17.2 L380.2 -19.8 L380.0 -22.4 L379.8 -25.1 L379.7 -27.7 L379.5 -30.3 L379.4 -33.0 L379.2 -35.6 L379.1 -38.3 L378.9 -40.9 L378.8 -43.6 L378.6 -46.2 L378.5 -48.9 L378.3 -51.6 L378.2 -54.3 L378.0 -56.9 L377.9 -59.6 L377.7 -62.3 L377.6 -65.0"/>
<path class="iso" d="M768.0 743.6 L768.0 743.6 L767.8 743.6 L767.4 743.6 L766.9 743.6 L766.2 743.6 L765.4 743.6 L764.5 743.5 L763.5 743.5 L762.4 743.5 L761.1 743.4 L759.8 743.4 L758.4 743.3 L756.9 743.3 L755.4 743.2 L753.8 743.1 L752.1 743.1 L750.4 743.0 L748.7 742.9 L746.9 742.8 L745.2 742.8 L743.4 742.7 L741.5 742.6 L739.7 742.5 L737.9 742.4 L736.1 742.2 L734.2 742.1 L732.4 742.0 L730.6 741.9 L728.8 741.8 L727.0 741.6 L725.2 741.5 L723.4 741.3 L721.6 741.2 L719.9 741.1 L718.2 740.9 L716.5 740.7 L714.8 740.6 L713.1 740.4 L711.4 740.2 L709.8 740.1 L708.2 739.9 L706.6 739.7 L705.0 739.5 L703.4 739.3 L701.9 739.1 L700.3 738.9 L698.8 738.7 L697.3 738.5 L695.9 738.3 L694.4 738.0 L693.0 737.8 L691.5 737.6 L690.1 737.3 L688.7 737.1 L687.4 736.9 L686.0 736.6 L684.7 736.4 L683.4 736.1 L682.1 735.8 L680.8 735.6 L679.5 735.3 L678.2 735.0 L677.0 734.7 L675.8 734.4 L674.5 734.2 L673.3 733.9 L672.2 733.6 L671.0 733.3 L669.8 733.0 L668.7 732.6 L667.5 732.3 L666.4 732.0 L665.3 731.7 L664.2 731.3 L663.1 731.0 L662.0 730.7 L661.0 730.3 L659.9 730.0 L658.9 729.6 L657.8 729.3 L656.8 728.9 L655.8 728.5 L654.8 728.2 L653.8 727.8 L652.8 727.4 L651.9 727.0 L650.9 726.6 L650.0 726.3 L649.0 725.9 L648.1 725.5 L647.2 725.0 L646.3 724.6 L645.3 724.2 L644.4 723.8 L643.6 723.4 L642.7 722.9 L641.8 722.5 L640.9 722.1 L640.1 721.6 L639.2 721.2 L638.4 720.7 L637.5 720.3 L636.7 719.8 L635.9 719.4 L635.1 718.9 L634.3 718.4 L633.5 717.9 L632.7 717.4 L631.9 717.0 L631.1 716.5 L630.3 716.0 L629.6 715.5 L628.8 715.0 L628.1 714.5 L627.3 713.9 L626.6 713.4 L625.8 712.9 L625.1 712.4 L624.4 711.8 L623.6 711.3 L622.9 710.8 L622.2 710.2 L621.5 709.7 L620.8 709.1 L620.1 708.6 L619.4 708.0 L618.7 707.4 L618.1 706.8 L617.4 706.3 L616.7 705.7 L616.1 705.1 L615.4 704.5 L614.7 703.9 L614.1 703.3 L613.5 702.7 L612.8 702.1 L612.2 701.5 L611.5 700.9 L610.9 700.3 L610.3 699.6 L609.7 699.0 L609.1 698.4 L608.4 697.7 L607.8 697.1 L607.2 696.4 L606.6 695.8 L606.0 695.1 L605.4 694.4 L604.9 693.8 L604.3 693.1 L603.7 692.4 L603.1 691.8 L602.5 691.1 L602.0 690.4 L601.4 689.7 L600.8 689.0 L600.3 688.3 L599.7 687.6 L599.2 686.9 L598.6 686.1 L598.1 685.4 L597.5 684.7 L597.0 684.0 L596.4 683.2 L595.9 682.5 L595.4 681.8 L594.9 681.0 L594.3 680.3 L593.8 679.5 L593.3 678.7 L592.8 678.0 L592.3 677.2 L591.8 676.4 L591.2 675.6 L590.7 674.9 L590.2 674.1 L589.7 673.3 L589.2 672.5 L588.7 671.7 L588.3 670.9 L587.8 670.1 L587.3 669.2 L586.8 668.4 L586.3 667.6 L585.8 666.8 L585.4 665.9 L584.9 665.1 L584.4 664.3 L584.0 663.4 L583.5 662.6 L583.0 661.7 L582.6 660.8 L582.1 660.0 L581.6 659.1 L581.2 658.2 L580.7 657.4 L580.3 656.5 L579.8 655.6 L579.4 654.7 L579.0 653.8 L578.5 652.9 L578.1 652.0 L577.6 651.1 L577.2 650.2 L576.8 649.3 L576.3 648.3 L575.9 647.4 L575.5 646.5 L575.1 645.5 L574.6 644.6 L574.2 643.6 L573.8 642.7 L573.4 641.7 L573.0 640.8 L572.6 639.8 L572.1 638.8 L571.7 637.9 L571.3 636.9 L570.9 635.9 L570.5 634.9 L570.1 633.9 L569.7 632.9 L569.3 631.9 L568.9 630.9 L568.5 629.9 L568.1 628.9 L567.7 627.9 L567.3 626.9 L567.0 625.9 L566.6 624.8 L566.2 623.8 L565.8 622.7 L565.4 621.7 L565.0 620.7 L564.7 619.6 L564.3 618.5 L563.9 617.5 L563.5 616.4 L563.2 615.3 L562.8 614.3 L562.4 613.2 L562.1 612.1 L561.7 611.0 L561.3 609.9 L561.0 608.8 L560.6 607.7 L560.2 606.6 L559.9 605.5 L559.5 604.4 L559.2 603.3 L558.8 602.1 L558.5 601.0 L558.1 599.9 L557.8 598.7 L557.4 597.6 L557.1 596.4 L556.7 595.3 L556.4 594.1 L556.0 593.0 L555.7 591.8 L555.3 590.6 L555.0 589.5 L554.7 588.3 L554.3 587.1 L554.0 585.9 L553.6 584.7 L553.3 583.5 L553.0 582.3 L552.6 581.1 L552.3 579.9 L552.0 578.7 L551.7 577.5 L551.3 576.2 L551.0 575.0 L550.7 573.8 L550.4 572.5 L550.0 571.3 L549.7 570.1 L549.4 568.8 L549.1 567.5 L548.8 566.3 L548.4 565.0 L548.1 563.8 L547.8 562.5 L547.5 561.2 L547.2 559.9 L546.9 558.6 L546.6 557.3 L546.3 556.0 L545.9 554.7 L545.6 553.4 L545.3 552.1 L545.0 550.8 L544.7 549.5 L544.4 548.2 L544.1 546.8 L543.8 545.5 L543.5 544.2 L543.2 542.8 L542.9 541.5 L542.6 540.1 L542.3 538.8 L542.0 537.4 L541.7 536.1 L541.5 534.7 L541.2 533.3 L540.9 531.9 L540.6 530.6 L540.3 529.2 L540.0 527.8 L539.7 526.4 L539.4 525.0 L539.1 523.6 L538.9 522.2 L538.6 520.8 L538.3 519.3 L538.0 517.9 L537.7 516.5 L537.4 515.1 L537.2 513.6 L536.9 512.2 L536.6 510.7 L536.3 509.3 L536.1 507.8 L535.8 506.4 L535.5 504.9 L535.2 503.5 L535.0 502.0 L534.7 500.5 L534.4 499.0 L534.2 497.5 L533.9 496.1 L533.6 494.6 L533.3 493.1 L533.1 491.6 L532.8 490.1 L532.5 488.5 L532.3 487.0 L532.0 485.5 L531.8 484.0 L531.5 482.5 L531.2 480.9 L531.0 479.4 L530.7 477.8 L530.5 476.3 L530.2 474.7 L529.9 473.2 L529.7 471.6 L529.4 470.1 L529.2 468.5 L528.9 466.9 L528.7 465.3 L528.4 463.7 L528.2 462.2 L527.9 460.6 L527.6 459.0 L527.4 457.4 L527.1 455.8 L526.9 454.2 L526.7 452.5 L526.4 450.9 L526.2 449.3 L525.9 447.7 L525.7 446.0 L525.4 444.4 L525.2 442.8 L524.9 441.1 L524.7 439.5 L524.4 437.8 L524.2 436.1 L524.0 434.5 L523.7 432.8 L523.5 431.1 L523.2 429.5 L523.0 427.8 L522.8 426.1 L522.5 424.4 L522.3 422.7 L522.1 421.0 L521.8 419.3 L521.6 417.6 L521.3 415.9 L521.1 414.1 L520.9 412.4 L520.7 410.7 L520.4 409.0 L520.2 407.2 L520.0 405.5 L519.7 403.7 L519.5 402.0 L519.3 400.2 L519.0 398.5 L518.8 396.7 L518.6 395.0 L518.4 393.2 L518.1 391.4 L517.9 389.6 L517.7 387.8 L517.5 386.0 L517.2 384.2 L517.0 382.5 L516.8 380.6 L516.6 378.8 L516.3 377.0 L516.1 375.2 L515.9 373.4 L515.7 371.6 L515.5 369.7 L515.2 367.9 L515.0 366.1 L514.8 364.2 L514.6 362.4 L514.4 360.5 L514.2 358.7 L513.9 356.8 L513.7 354.9 L513.5 353.1 L513.3 351.2 L513.1 349.3 L512.9 347.4 L512.7 345.5 L512.4 343.6 L512.2 341.7 L512.0 339.8 L511.8 337.9 L511.6 336.0 L511.4 334.1 L511.2 332.2 L511.0 330.2 L510.8 328.3 L510.6 326.4 L510.3 324.4 L510.1 322.5 L509.9 320.6 L509.7 318.6 L509.5 316.6 L509.3 314.7 L509.1 312.7 L508.9 310.8 L508.7 308.8 L508.5 306.8 L508.3 304.8 L508.1 302.8 L507.9 300.8 L507.7 298.8 L507.5 296.8 L507.3 294.8 L507.1 292.8 L506.9 290.8 L506.7 288.8 L506.5 286.8 L506.3 284.7 L506.1 282.7 L505.9 280.7 L505.7 278.6 L505.5 276.6 L505.3 274.5 L505.1 272.5 L504.9 270.4 L504.7 268.3 L504.5 266.3 L504.3 264.2 L504.1 262.1 L504.0 260.0 L503.8 258.0 L503.6 255.9 L503.4 253.8 L503.2 251.7 L503.0 249.6 L502.8 247.5 L502.6 245.3 L502.4 243.2 L502.2 241.1 L502.0 239.0 L501.9 236.8 L501.7 234.7 L501.5 232.6 L501.3 230.4 L501.1 228.3 L500.9 226.1 L500.7 224.0 L500.5 221.8 L500.4 219.6 L500.2 217.5 L500.0 215.3 L499.8 213.1 L499.6 210.9 L499.4 208.7 L499.3 206.5 L499.1 204.3 L498.9 202.1 L498.7 199.9 L498.5 197.7 L498.3 195.5 L498.2 193.3 L498.0 191.0 L497.8 188.8 L497.6 186.6 L497.4 184.3 L497.3 182.1 L497.1 179.8 L496.9 177.6 L496.7 175.3 L496.5 173.1 L496.4 170.8 L496.2 168.5 L496.0 166.3 L495.8 164.0 L495.7 161.7 L495.5 159.4 L495.3 157.1 L495.1 154.8 L495.0 152.5 L494.8 150.2 L494.6 147.9 L494.4 145.6 L494.3 143.3 L494.1 140.9 L493.9 138.6 L493.7 136.3 L493.6 133.9 L493.4 131.6 L493.2 129.2 L493.1 126.9 L492.9 124.5 L492.7 122.2 L492.6 119.8 L492.4 117.4 L492.2 115.1 L492.0 112.7 L491.9 110.3 L491.7 107.9 L491.5 105.5 L491.4 103.1 L491.2 100.7 L491.0 98.3 L490.9 95.9 L490.7 93.5 L490.5 91.1 L490.4 88.6 L490.2 86.2 L490.0 83.8 L489.9 81.3 L489.7 78.9 L489.5 76.5 L489.4 74.0 L489.2 71.6 L489.1 69.1 L488.9 66.6 L488.7 64.2 L488.6 61.7 L488.4 59.2 L488.2 56.7 L488.1 54.2 L487.9 51.7 L487.8 49.3 L487.6 46.8 L487.4 44.2 L487.3 41.7 L487.1 39.2 L487.0 36.7 L486.8 34.2 L486.6 31.7 L486.5 29.1 L486.3 26.6 L486.2 24.1 L486.0 21.5 L485.8 19.0 L485.7 16.4 L485.5 13.8 L485.4 11.3 L485.2 8.7 L485.1 6.1 L484.9 3.6 L484.7 1.0 L484.6 -1.6 L484.4 -4.2 L484.3 -6.8 L484.1 -9.4 L484.0 -12.0 L483.8 -14.6 L483.7 -17.2 L483.5 -19.8 L483.4 -22.4 L483.2 -25.1 L483.0 -27.7 L482.9 -30.3 L482.7 -33.0 L482.6 -35.6 L482.4 -38.3 L482.3 -40.9 L482.1 -43.6 L482.0 -46.2 L481.8 -48.9 L481.7 -51.6 L481.5 -54.3 L481.4 -56.9 L481.2 -59.6 L481.1 -62.3 L480.9 -65.0"/>
<path class="iso" d="M871.4 743.6 L871.3 743.6 L871.1 743.6 L870.7 743.6 L870.2 743.6 L869.6 743.6 L868.8 743.6 L867.9 743.5 L866.9 743.5 L865.7 743.5 L864.5 743.4 L863.2 743.4 L861.8 743.3 L860.3 743.3 L858.7 743.2 L857.1 743.1 L855.5 743.1 L853.8 743.0 L852.0 742.9 L850.3 742.8 L848.5 742.8 L846.7 742.7 L844.9 742.6 L843.1 742.5 L841.2 742.4 L839.4 742.2 L837.6 742.1 L835.7 742.0 L833.9 741.9 L832.1 741.8 L830.3 741.6 L828.5 741.5 L826.8 741.3 L825.0 741.2 L823.2 741.1 L821.5 740.9 L819.8 740.7 L818.1 740.6 L816.4 740.4 L814.8 740.2 L813.1 740.1 L811.5 739.9 L809.9 739.7 L808.3 739.5 L806.8 739.3 L805.2 739.1 L803.7 738.9 L802.2 738.7 L800.7 738.5 L799.2 738.3 L797.8 738.0 L796.3 737.8 L794.9 737.6 L793.5 737.3 L792.1 737.1 L790.7 736.9 L789.4 736.6 L788.0 736.4 L786.7 736.1 L785.4 735.8 L784.1 735.6 L782.8 735.3 L781.6 735.0 L780.3 734.7 L779.1 734.4 L777.9 734.2 L776.7 733.9 L775.5 733.6 L774.3 733.3 L773.2 733.0 L772.0 732.6 L770.9 732.3 L769.8 732.0 L768.7 731.7 L767.6 731.3 L766.5 731.0 L765.4 730.7 L764.3 730.3 L763.3 730.0 L762.2 729.6 L761.2 729.3 L760.2 728.9 L759.2 728.5 L758.2 728.2 L757.2 727.8 L756.2 727.4 L755.2 727.0 L754.3 726.6 L753.3 726.3 L752.4 725.9 L751.4 725.5 L750.5 725.0 L749.6 724.6 L748.7 724.2 L747.8 723.8 L746.9 723.4 L746.0 722.9 L745.2 722.5 L744.3 722.1 L743.4 721.6 L742.6 721.2 L741.7 720.7 L740.9 720.3 L740.1 719.8 L739.2 719.4 L738.4 718.9 L737.6 718.4 L736.8 717.9 L736.0 717.4 L735.2 717.0 L734.5 716.5 L733.7 716.0 L732.9 715.5 L732.2 715.0 L731.4 714.5 L730.7 713.9 L729.9 713.4 L729.2 712.9 L728.4 712.4 L727.7 711.8 L727.0 711.3 L726.3 710.8 L725.6 710.2 L724.9 709.7 L724.2 709.1 L723.5 708.6 L722.8 708.0 L722.1 707.4 L721.4 706.8 L720.7 706.3 L720.1 705.7 L719.4 705.1 L718.8 704.5 L718.1 703.9 L717.4 703.3 L716.8 702.7 L716.2 702.1 L715.5 701.5 L714.9 700.9 L714.3 700.3 L713.6 699.6 L713.0 699.0 L712.4 698.4 L711.8 697.7 L711.2 697.1 L710.6 696.4 L710.0 695.8 L709.4 695.1 L708.8 694.4 L708.2 693.8 L707.6 693.1 L707.0 692.4 L706.5 691.8 L705.9 691.1 L705.3 690.4 L704.7 689.7 L704.2 689.0 L703.6 688.3 L703.1 687.6 L702.5 686.9 L702.0 686.1 L701.4 685.4 L700.9 684.7 L700.3 684.0 L699.8 683.2 L699.3 682.5 L698.7 681.8 L698.2 681.0 L697.7 680.3 L697.2 679.5 L696.6 678.7 L696.1 678.0 L695.6 677.2 L695.1 676.4 L694.6 675.6 L694.1 674.9 L693.6 674.1 L693.1 673.3 L692.6 672.5 L692.1 671.7 L691.6 670.9 L691.1 670.1 L690.6 669.2 L690.1 668.4 L689.7 667.6 L689.2 666.8 L688.7 665.9 L688.2 665.1 L687.8 664.3 L687.3 663.4 L686.8 662.6 L686.4 661.7 L685.9 660.8 L685.5 660.0 L685.0 659.1 L684.5 658.2 L684.1 657.4 L683.6 656.5 L683.2 655.6 L682.7 654.7 L682.3 653.8 L681.9 652.9 L681.4 652.0 L681.0 651.1 L680.6 650.2 L680.1 649.3 L679.7 648.3 L679.3 647.4 L678.8 646.5 L678.4 645.5 L678.0 644.6 L677.6 643.6 L677.1 642.7 L676.7 641.7 L676.3 640.8 L675.9 639.8 L675.5 638.8 L675.1 637.9 L674.7 636.9 L674.3 635.9 L673.9 634.9 L673.5 633.9 L673.1 632.9 L672.7 631.9 L672.3 630.9 L671.9 629.9 L671.5 628.9 L671.1 627.9 L670.7 626.9 L670.3 625.9 L669.9 624.8 L669.5 623.8 L669.2 622.7 L668.8 621.7 L668.4 620.7 L668.0 619.6 L667.6 618.5 L667.3 617.5 L666.9 616.4 L666.5 615.3 L666.1 614.3 L665.8 613.2 L665.4 612.1 L665.0 611.0 L664.7 609.9 L664.3 608.8 L663.9 607.7 L663.6 606.6 L663.2 605.5 L662.9 604.4 L662.5 603.3 L662.2 602.1 L661.8 601.0 L661.5 599.9 L661.1 598.7 L660.8 597.6 L660.4 596.4 L660.1 595.3 L659.7 594.1 L659.4 593.0 L659.0 591.8 L658.7 590.6 L658.3 589.5 L658.0 588.3 L657.7 587.1 L657.3 585.9 L657.0 584.7 L656.7 583.5 L656.3 582.3 L656.0 581.1 L655.7 579.9 L655.3 578.7 L655.0 577.5 L654.7 576.2 L654.4 575.0 L654.0 573.8 L653.7 572.5 L653.4 571.3 L653.1 570.1 L652.7 568.8 L652.4 567.5 L652.1 566.3 L651.8 565.0 L651.5 563.8 L651.2 562.5 L650.8 561.2 L650.5 559.9 L650.2 558.6 L649.9 557.3 L649.6 556.0 L649.3 554.7 L649.0 553.4 L648.7 552.1 L648.4 550.8 L648.1 549.5 L647.8 548.2 L647.5 546.8 L647.2 545.5 L646.9 544.2 L646.6 542.8 L646.3 541.5 L646.0 540.1 L645.7 538.8 L645.4 537.4 L645.1 536.1 L644.8 534.7 L644.5 533.3 L644.2 531.9 L643.9 530.6 L643.6 529.2 L643.4 527.8 L643.1 526.4 L642.8 525.0 L642.5 523.6 L642.2 522.2 L641.9 520.8 L641.6 519.3 L641.4 517.9 L641.1 516.5 L640.8 515.1 L640.5 513.6 L640.2 512.2 L640.0 510.7 L639.7 509.3 L639.4 507.8 L639.1 506.4 L638.9 504.9 L638.6 503.5 L638.3 502.0 L638.0 500.5 L637.8 499.0 L637.5 497.5 L637.2 496.1 L637.0 494.6 L636.7 493.1 L636.4 491.6 L636.2 490.1 L635.9 488.5 L635.6 487.0 L635.4 485.5 L635.1 484.0 L634.8 482.5 L634.6 480.9 L634.3 479.4 L634.1 477.8 L633.8 476.3 L633.5 474.7 L633.3 473.2 L633.0 471.6 L632.8 470.1 L632.5 468.5 L632.3 466.9 L632.0 465.3 L631.8 463.7 L631.5 462.2 L631.3 460.6 L631.0 459.0 L630.7 457.4 L630.5 455.8 L630.2 454.2 L630.0 452.5 L629.8 450.9 L629.5 449.3 L629.3 447.7 L629.0 446.0 L628.8 444.4 L628.5 442.8 L628.3 441.1 L628.0 439.5 L627.8 437.8 L627.6 436.1 L627.3 434.5 L627.1 432.8 L626.8 431.1 L626.6 429.5 L626.4 427.8 L626.1 426.1 L625.9 424.4 L625.6 422.7 L625.4 421.0 L625.2 419.3 L624.9 417.6 L624.7 415.9 L624.5 414.1 L624.2 412.4 L624.0 410.7 L623.8 409.0 L623.5 407.2 L623.3 405.5 L623.1 403.7 L622.8 402.0 L622.6 400.2 L622.4 398.5 L622.2 396.7 L621.9 395.0 L621.7 393.2 L621.5 391.4 L621.3 389.6 L621.0 387.8 L620.8 386.0 L620.6 384.2 L620.4 382.5 L620.1 380.6 L619.9 378.8 L619.7 377.0 L619.5 375.2 L619.3 373.4 L619.0 371.6 L618.8 369.7 L618.6 367.9 L618.4 366.1 L618.2 364.2 L617.9 362.4 L617.7 360.5 L617.5 358.7 L617.3 356.8 L617.1 354.9 L616.9 353.1 L616.6 351.2 L616.4 349.3 L616.2 347.4 L616.0 345.5 L615.8 343.6 L615.6 341.7 L615.4 339.8 L615.2 337.9 L614.9 336.0 L614.7 334.1 L614.5 332.2 L614.3 330.2 L614.1 328.3 L613.9 326.4 L613.7 324.4 L613.5 322.5 L613.3 320.6 L613.1 318.6 L612.9 316.6 L612.7 314.7 L612.5 312.7 L612.3 310.8 L612.1 308.8 L611.9 306.8 L611.7 304.8 L611.4 302.8 L611.2 300.8 L611.0 298.8 L610.8 296.8 L610.6 294.8 L610.4 292.8 L610.2 290.8 L610.0 288.8 L609.8 286.8 L609.6 284.7 L609.5 282.7 L609.3 280.7 L609.1 278.6 L608.9 276.6 L608.7 274.5 L608.5 272.5 L608.3 270.4 L608.1 268.3 L607.9 266.3 L607.7 264.2 L607.5 262.1 L607.3 260.0 L607.1 258.0 L606.9 255.9 L606.7 253.8 L606.5 251.7 L606.3 249.6 L606.2 247.5 L606.0 245.3 L605.8 243.2 L605.6 241.1 L605.4 239.0 L605.2 236.8 L605.0 234.7 L604.8 232.6 L604.6 230.4 L604.5 228.3 L604.3 226.1 L604.1 224.0 L603.9 221.8 L603.7 219.6 L603.5 217.5 L603.3 215.3 L603.2 213.1 L603.0 210.9 L602.8 208.7 L602.6 206.5 L602.4 204.3 L602.2 202.1 L602.1 199.9 L601.9 197.7 L601.7 195.5 L601.5 193.3 L601.3 191.0 L601.2 188.8 L601.0 186.6 L600.8 184.3 L600.6 182.1 L600.4 179.8 L600.3 177.6 L600.1 175.3 L599.9 173.1 L599.7 170.8 L599.5 168.5 L599.4 166.3 L599.2 164.0 L599.0 161.7 L598.8 159.4 L598.7 157.1 L598.5 154.8 L598.3 152.5 L598.1 150.2 L598.0 147.9 L597.8 145.6 L597.6 143.3 L597.4 140.9 L597.3 138.6 L597.1 136.3 L596.9 133.9 L596.8 131.6 L596.6 129.2 L596.4 126.9 L596.2 124.5 L596.1 122.2 L595.9 119.8 L595.7 117.4 L595.6 115.1 L595.4 112.7 L595.2 110.3 L595.1 107.9 L594.9 105.5 L594.7 103.1 L594.6 100.7 L594.4 98.3 L594.2 95.9 L594.1 93.5 L593.9 91.1 L593.7 88.6 L593.6 86.2 L593.4 83.8 L593.2 81.3 L593.1 78.9 L592.9 76.5 L592.7 74.0 L592.6 71.6 L592.4 69.1 L592.2 66.6 L592.1 64.2 L591.9 61.7 L591.7 59.2 L591.6 56.7 L591.4 54.2 L591.3 51.7 L591.1 49.3 L590.9 46.8 L590.8 44.2 L590.6 41.7 L590.5 39.2 L590.3 36.7 L590.1 34.2 L590.0 31.7 L589.8 29.1 L589.7 26.6 L589.5 24.1 L589.3 21.5 L589.2 19.0 L589.0 16.4 L588.9 13.8 L588.7 11.3 L588.6 8.7 L588.4 6.1 L588.2 3.6 L588.1 1.0 L587.9 -1.6 L587.8 -4.2 L587.6 -6.8 L587.5 -9.4 L587.3 -12.0 L587.2 -14.6 L587.0 -17.2 L586.9 -19.8 L586.7 -22.4 L586.5 -25.1 L586.4 -27.7 L586.2 -30.3 L586.1 -33.0 L585.9 -35.6 L585.8 -38.3 L585.6 -40.9 L585.5 -43.6 L585.3 -46.2 L585.2 -48.9 L585.0 -51.6 L584.9 -54.3 L584.7 -56.9 L584.6 -59.6 L584.4 -62.3 L584.3 -65.0"/>
<path class="iso" d="M974.8 743.6 L974.7 743.6 L974.5 743.6 L974.1 743.6 L973.6 743.6 L972.9 743.6 L972.1 743.6 L971.2 743.5 L970.2 743.5 L969.1 743.5 L967.8 743.4 L966.5 743.4 L965.1 743.3 L963.6 743.3 L962.1 743.2 L960.5 743.1 L958.8 743.1 L957.1 743.0 L955.4 742.9 L953.6 742.8 L951.9 742.8 L950.1 742.7 L948.2 742.6 L946.4 742.5 L944.6 742.4 L942.8 742.2 L940.9 742.1 L939.1 742.0 L937.3 741.9 L935.5 741.8 L933.7 741.6 L931.9 741.5 L930.1 741.3 L928.3 741.2 L926.6 741.1 L924.9 740.9 L923.2 740.7 L921.5 740.6 L919.8 740.4 L918.1 740.2 L916.5 740.1 L914.9 739.9 L913.3 739.7 L911.7 739.5 L910.1 739.3 L908.6 739.1 L907.0 738.9 L905.5 738.7 L904.0 738.5 L902.6 738.3 L901.1 738.0 L899.7 737.8 L898.2 737.6 L896.8 737.3 L895.4 737.1 L894.1 736.9 L892.7 736.6 L891.4 736.4 L890.1 736.1 L888.8 735.8 L887.5 735.6 L886.2 735.3 L884.9 735.0 L883.7 734.7 L882.5 734.4 L881.2 734.2 L880.0 733.9 L878.9 733.6 L877.7 733.3 L876.5 733.0 L875.4 732.6 L874.2 732.3 L873.1 732.0 L872.0 731.7 L870.9 731.3 L869.8 731.0 L868.7 730.7 L867.7 730.3 L866.6 730.0 L865.6 729.6 L864.5 729.3 L863.5 728.9 L862.5 728.5 L861.5 728.2 L860.5 727.8 L859.5 727.4 L858.6 727.0 L857.6 726.6 L856.7 726.3 L855.7 725.9 L854.8 725.5 L853.9 725.0 L853.0 724.6 L852.0 724.2 L851.1 723.8 L850.3 723.4 L849.4 722.9 L848.5 722.5 L847.6 722.1 L846.8 721.6 L845.9 721.2 L845.1 720.7 L844.2 720.3 L843.4 719.8 L842.6 719.4 L841.8 718.9 L841.0 718.4 L840.2 717.9 L839.4 717.4 L838.6 717.0 L837.8 716.5 L837.0 716.0 L836.3 715.5 L835.5 715.0 L834.8 714.5 L834.0 713.9 L833.3 713.4 L832.5 712.9 L831.8 712.4 L831.1 711.8 L830.3 711.3 L829.6 710.8 L828.9 710.2 L828.2 709.7 L827.5 709.1 L826.8 708.6 L826.1 708.0 L825.4 707.4 L824.8 706.8 L824.1 706.3 L823.4 705.7 L822.8 705.1 L822.1 704.5 L821.4 703.9 L820.8 703.3 L820.2 702.7 L819.5 702.1 L818.9 701.5 L818.2 700.9 L817.6 700.3 L817.0 699.6 L816.4 699.0 L815.8 698.4 L815.1 697.7 L814.5 697.1 L813.9 696.4 L813.3 695.8 L812.7 695.1 L812.1 694.4 L811.6 693.8 L811.0 693.1 L810.4 692.4 L809.8 691.8 L809.2 691.1 L808.7 690.4 L808.1 689.7 L807.5 689.0 L807.0 688.3 L806.4 687.6 L805.9 686.9 L805.3 686.1 L804.8 685.4 L804.2 684.7 L803.7 684.0 L803.1 683.2 L802.6 682.5 L802.1 681.8 L801.6 681.0 L801.0 680.3 L800.5 679.5 L800.0 678.7 L799.5 678.0 L799.0 677.2 L798.5 676.4 L797.9 675.6 L797.4 674.9 L796.9 674.1 L796.4 673.3 L795.9 672.5 L795.4 671.7 L795.0 670.9 L794.5 670.1 L794.0 669.2 L793.5 668.4 L793.0 667.6 L792.5 666.8 L792.1 665.9 L791.6 665.1 L791.1 664.3 L790.7 663.4 L790.2 662.6 L789.7 661.7 L789.3 660.8 L788.8 660.0 L788.3 659.1 L787.9 658.2 L787.4 657.4 L787.0 656.5 L786.5 655.6 L786.1 654.7 L785.7 653.8 L785.2 652.9 L784.8 652.0 L784.3 651.1 L783.9 650.2 L783.5 649.3 L783.0 648.3 L782.6 647.4 L782.2 646.5 L781.8 645.5 L781.3 644.6 L780.9 643.6 L780.5 642.7 L780.1 641.7 L779.7 640.8 L779.3 639.8 L778.8 638.8 L778.4 637.9 L778.0 636.9 L777.6 635.9 L777.2 634.9 L776.8 633.9 L776.4 632.9 L776.0 631.9 L775.6 630.9 L775.2 629.9 L774.8 628.9 L774.4 627.9 L774.0 626.9 L773.7 625.9 L773.3 624.8 L772.9 623.8 L772.5 622.7 L772.1 621.7 L771.7 620.7 L771.4 619.6 L771.0 618.5 L770.6 617.5 L770.2 616.4 L769.9 615.3 L769.5 614.3 L769.1 613.2 L768.8 612.1 L768.4 611.0 L768.0 609.9 L767.7 608.8 L767.3 607.7 L766.9 606.6 L766.6 605.5 L766.2 604.4 L765.9 603.3 L765.5 602.1 L765.2 601.0 L764.8 599.9 L764.5 598.7 L764.1 597.6 L763.8 596.4 L763.4 595.3 L763.1 594.1 L762.7 593.0 L762.4 591.8 L762.0 590.6 L761.7 589.5 L761.4 588.3 L761.0 587.1 L760.7 585.9 L760.3 584.7 L760.0 583.5 L759.7 582.3 L759.3 581.1 L759.0 579.9 L758.7 578.7 L758.4 577.5 L758.0 576.2 L757.7 575.0 L757.4 573.8 L757.1 572.5 L756.7 571.3 L756.4 570.1 L756.1 568.8 L755.8 567.5 L755.5 566.3 L755.1 565.0 L754.8 563.8 L754.5 562.5 L754.2 561.2 L753.9 559.9 L753.6 558.6 L753.3 557.3 L753.0 556.0 L752.6 554.7 L752.3 553.4 L752.0 552.1 L751.7 550.8 L751.4 549.5 L751.1 548.2 L750.8 546.8 L750.5 545.5 L750.2 544.2 L749.9 542.8 L749.6 541.5 L749.3 540.1 L749.0 538.8 L748.7 537.4 L748.4 536.1 L748.2 534.7 L747.9 533.3 L747.6 531.9 L747.3 530.6 L747.0 529.2 L746.7 527.8 L746.4 526.4 L746.1 525.0 L745.8 523.6 L745.6 522.2 L745.3 520.8 L745.0 519.3 L744.7 517.9 L744.4 516.5 L744.1 515.1 L743.9 513.6 L743.6 512.2 L743.3 510.7 L743.0 509.3 L742.8 507.8 L742.5 506.4 L742.2 504.9 L741.9 503.5 L741.7 502.0 L741.4 500.5 L741.1 499.0 L740.9 497.5 L740.6 496.1 L740.3 494.6 L740.0 493.1 L739.8 491.6 L739.5 490.1 L739.2 488.5 L739.0 487.0 L738.7 485.5 L738.5 484.0 L738.2 482.5 L737.9 480.9 L737.7 479.4 L737.4 477.8 L737.2 476.3 L736.9 474.7 L736.6 473.2 L736.4 471.6 L736.1 470.1 L735.9 468.5 L735.6 466.9 L735.4 465.3 L735.1 463.7 L734.9 462.2 L734.6 460.6 L734.3 459.0 L734.1 457.4 L733.8 455.8 L733.6 454.2 L733.4 452.5 L733.1 450.9 L732.9 449.3 L732.6 447.7 L732.4 446.0 L732.1 444.4 L731.9 442.8 L731.6 441.1 L731.4 439.5 L731.1 437.8 L730.9 436.1 L730.7 434.5 L730.4 432.8 L730.2 431.1 L729.9 429.5 L729.7 427.8 L729.5 426.1 L729.2 424.4 L729.0 422.7 L728.8 421.0 L728.5 419.3 L728.3 417.6 L728.0 415.9 L727.8 414.1 L727.6 412.4 L727.4 410.7 L727.1 409.0 L726.9 407.2 L726.7 405.5 L726.4 403.7 L726.2 402.0 L726.0 400.2 L725.7 398.5 L725.5 396.7 L725.3 395.0 L725.1 393.2 L724.8 391.4 L724.6 389.6 L724.4 387.8 L724.2 386.0 L723.9 384.2 L723.7 382.5 L723.5 380.6 L723.3 378.8 L723.0 377.0 L722.8 375.2 L722.6 373.4 L722.4 371.6 L722.2 369.7 L721.9 367.9 L721.7 366.1 L721.5 364.2 L721.3 362.4 L721.1 360.5 L720.9 358.7 L720.6 356.8 L720.4 354.9 L720.2 353.1 L720.0 351.2 L719.8 349.3 L719.6 347.4 L719.4 345.5 L719.1 343.6 L718.9 341.7 L718.7 339.8 L718.5 337.9 L718.3 336.0 L718.1 334.1 L717.9 332.2 L717.7 330.2 L717.5 328.3 L717.3 326.4 L717.0 324.4 L716.8 322.5 L716.6 320.6 L716.4 318.6 L716.2 316.6 L716.0 314.7 L715.8 312.7 L715.6 310.8 L715.4 308.8 L715.2 306.8 L715.0 304.8 L714.8 302.8 L714.6 300.8 L714.4 298.8 L714.2 296.8 L714.0 294.8 L713.8 292.8 L713.6 290.8 L713.4 288.8 L713.2 286.8 L713.0 284.7 L712.8 282.7 L712.6 280.7 L712.4 278.6 L712.2 276.6 L712.0 274.5 L711.8 272.5 L711.6 270.4 L711.4 268.3 L711.2 266.3 L711.0 264.2 L710.8 262.1 L710.7 260.0 L710.5 258.0 L710.3 255.9 L710.1 253.8 L709.9 251.7 L709.7 249.6 L709.5 247.5 L709.3 245.3 L709.1 243.2 L708.9 241.1 L708.7 239.0 L708.6 236.8 L708.4 234.7 L708.2 232.6 L708.0 230.4 L707.8 228.3 L707.6 226.1 L707.4 224.0 L707.2 221.8 L707.1 219.6 L706.9 217.5 L706.7 215.3 L706.5 213.1 L706.3 210.9 L706.1 208.7 L706.0 206.5 L705.8 204.3 L705.6 202.1 L705.4 199.9 L705.2 197.7 L705.0 195.5 L704.9 193.3 L704.7 191.0 L704.5 188.8 L704.3 186.6 L704.1 184.3 L704.0 182.1 L703.8 179.8 L703.6 177.6 L703.4 175.3 L703.2 173.1 L703.1 170.8 L702.9 168.5 L702.7 166.3 L702.5 164.0 L702.4 161.7 L702.2 159.4 L702.0 157.1 L701.8 154.8 L701.7 152.5 L701.5 150.2 L701.3 147.9 L701.1 145.6 L701.0 143.3 L700.8 140.9 L700.6 138.6 L700.4 136.3 L700.3 133.9 L700.1 131.6 L699.9 129.2 L699.8 126.9 L699.6 124.5 L699.4 122.2 L699.3 119.8 L699.1 117.4 L698.9 115.1 L698.7 112.7 L698.6 110.3 L698.4 107.9 L698.2 105.5 L698.1 103.1 L697.9 100.7 L697.7 98.3 L697.6 95.9 L697.4 93.5 L697.2 91.1 L697.1 88.6 L696.9 86.2 L696.7 83.8 L696.6 81.3 L696.4 78.9 L696.2 76.5 L696.1 74.0 L695.9 71.6 L695.8 69.1 L695.6 66.6 L695.4 64.2 L695.3 61.7 L695.1 59.2 L694.9 56.7 L694.8 54.2 L694.6 51.7 L694.5 49.3 L694.3 46.8 L694.1 44.2 L694.0 41.7 L693.8 39.2 L693.7 36.7 L693.5 34.2 L693.3 31.7 L693.2 29.1 L693.0 26.6 L692.9 24.1 L692.7 21.5 L692.5 19.0 L692.4 16.4 L692.2 13.8 L692.1 11.3 L691.9 8.7 L691.8 6.1 L691.6 3.6 L691.4 1.0 L691.3 -1.6 L691.1 -4.2 L691.0 -6.8 L690.8 -9.4 L690.7 -12.0 L690.5 -14.6 L690.4 -17.2 L690.2 -19.8 L690.1 -22.4 L689.9 -25.1 L689.7 -27.7 L689.6 -30.3 L689.4 -33.0 L689.3 -35.6 L689.1 -38.3 L689.0 -40.9 L688.8 -43.6 L688.7 -46.2 L688.5 -48.9 L688.4 -51.6 L688.2 -54.3 L688.1 -56.9 L687.9 -59.6 L687.8 -62.3 L687.6 -65.0"/>
<path class="iso" d="M1078.1 743.6 L1078.0 743.6 L1077.8 743.6 L1077.4 743.6 L1076.9 743.6 L1076.3 743.6 L1075.5 743.6 L1074.6 743.5 L1073.6 743.5 L1072.4 743.5 L1071.2 743.4 L1069.9 743.4 L1068.5 743.3 L1067.0 743.3 L1065.4 743.2 L1063.8 743.1 L1062.2 743.1 L1060.5 743.0 L1058.7 742.9 L1057.0 742.8 L1055.2 742.8 L1053.4 742.7 L1051.6 742.6 L1049.8 742.5 L1047.9 742.4 L1046.1 742.2 L1044.3 742.1 L1042.4 742.0 L1040.6 741.9 L1038.8 741.8 L1037.0 741.6 L1035.2 741.5 L1033.5 741.3 L1031.7 741.2 L1029.9 741.1 L1028.2 740.9 L1026.5 740.7 L1024.8 740.6 L1023.1 740.4 L1021.5 740.2 L1019.8 740.1 L1018.2 739.9 L1016.6 739.7 L1015.0 739.5 L1013.5 739.3 L1011.9 739.1 L1010.4 738.9 L1008.9 738.7 L1007.4 738.5 L1005.9 738.3 L1004.5 738.0 L1003.0 737.8 L1001.6 737.6 L1000.2 737.3 L998.8 737.1 L997.4 736.9 L996.1 736.6 L994.7 736.4 L993.4 736.1 L992.1 735.8 L990.8 735.6 L989.5 735.3 L988.3 735.0 L987.0 734.7 L985.8 734.4 L984.6 734.2 L983.4 733.9 L982.2 733.6 L981.0 733.3 L979.9 733.0 L978.7 732.6 L977.6 732.3 L976.5 732.0 L975.4 731.7 L974.3 731.3 L973.2 731.0 L972.1 730.7 L971.0 730.3 L970.0 730.0 L968.9 729.6 L967.9 729.3 L966.9 728.9 L965.9 728.5 L964.9 728.2 L963.9 727.8 L962.9 727.4 L961.9 727.0 L961.0 726.6 L960.0 726.3 L959.1 725.9 L958.1 725.5 L957.2 725.0 L956.3 724.6 L955.4 724.2 L954.5 723.8 L953.6 723.4 L952.7 722.9 L951.9 722.5 L951.0 722.1 L950.1 721.6 L949.3 721.2 L948.4 720.7 L947.6 720.3 L946.8 719.8 L945.9 719.4 L945.1 718.9 L944.3 718.4 L943.5 717.9 L942.7 717.4 L941.9 717.0 L941.2 716.5 L940.4 716.0 L939.6 715.5 L938.9 715.0 L938.1 714.5 L937.4 713.9 L936.6 713.4 L935.9 712.9 L935.1 712.4 L934.4 711.8 L933.7 711.3 L933.0 710.8 L932.3 710.2 L931.6 709.7 L930.9 709.1 L930.2 708.6 L929.5 708.0 L928.8 707.4 L928.1 706.8 L927.4 706.3 L926.8 705.7 L926.1 705.1 L925.5 704.5 L924.8 703.9 L924.1 703.3 L923.5 702.7 L922.9 702.1 L922.2 701.5 L921.6 700.9 L921.0 700.3 L920.3 699.6 L919.7 699.0 L919.1 698.4 L918.5 697.7 L917.9 697.1 L917.3 696.4 L916.7 695.8 L916.1 695.1 L915.5 694.4 L914.9 693.8 L914.3 693.1 L913.7 692.4 L913.2 691.8 L912.6 691.1 L912.0 690.4 L911.4 689.7 L910.9 689.0 L910.3 688.3 L909.8 687.6 L909.2 686.9 L908.7 686.1 L908.1 685.4 L907.6 684.7 L907.0 684.0 L906.5 683.2 L906.0 682.5 L905.4 681.8 L904.9 681.0 L904.4 680.3 L903.9 679.5 L903.3 678.7 L902.8 678.0 L902.3 677.2 L901.8 676.4 L901.3 675.6 L900.8 674.9 L900.3 674.1 L899.8 673.3 L899.3 672.5 L898.8 671.7 L898.3 670.9 L897.8 670.1 L897.3 669.2 L896.8 668.4 L896.4 667.6 L895.9 666.8 L895.4 665.9 L894.9 665.1 L894.5 664.3 L894.0 663.4 L893.5 662.6 L893.1 661.7 L892.6 660.8 L892.2 660.0 L891.7 659.1 L891.2 658.2 L890.8 657.4 L890.3 656.5 L889.9 655.6 L889.4 654.7 L889.0 653.8 L888.6 652.9 L888.1 652.0 L887.7 651.1 L887.3 650.2 L886.8 649.3 L886.4 648.3 L886.0 647.4 L885.5 646.5 L885.1 645.5 L884.7 644.6 L884.3 643.6 L883.8 642.7 L883.4 641.7 L883.0 640.8 L882.6 639.8 L882.2 638.8 L881.8 637.9 L881.4 636.9 L881.0 635.9 L880.6 634.9 L880.2 633.9 L879.8 632.9 L879.4 631.9 L879.0 630.9 L878.6 629.9 L878.2 628.9 L877.8 627.9 L877.4 626.9 L877.0 625.9 L876.6 624.8 L876.2 623.8 L875.9 622.7 L875.5 621.7 L875.1 620.7 L874.7 619.6 L874.3 618.5 L874.0 617.5 L873.6 616.4 L873.2 615.3 L872.8 614.3 L872.5 613.2 L872.1 612.1 L871.7 611.0 L871.4 609.9 L871.0 608.8 L870.6 607.7 L870.3 606.6 L869.9 605.5 L869.6 604.4 L869.2 603.3 L868.9 602.1 L868.5 601.0 L868.2 599.9 L867.8 598.7 L867.5 597.6 L867.1 596.4 L866.8 595.3 L866.4 594.1 L866.1 593.0 L865.7 591.8 L865.4 590.6 L865.0 589.5 L864.7 588.3 L864.4 587.1 L864.0 585.9 L863.7 584.7 L863.4 583.5 L863.0 582.3 L862.7 581.1 L862.4 579.9 L862.0 578.7 L861.7 577.5 L861.4 576.2 L861.1 575.0 L860.7 573.8 L860.4 572.5 L860.1 571.3 L859.8 570.1 L859.4 568.8 L859.1 567.5 L858.8 566.3 L858.5 565.0 L858.2 563.8 L857.9 562.5 L857.5 561.2 L857.2 559.9 L856.9 558.6 L856.6 557.3 L856.3 556.0 L856.0 554.7 L855.7 553.4 L855.4 552.1 L855.1 550.8 L854.8 549.5 L854.5 548.2 L854.2 546.8 L853.9 545.5 L853.6 544.2 L853.3 542.8 L853.0 541.5 L852.7 540.1 L852.4 538.8 L852.1 537.4 L851.8 536.1 L851.5 534.7 L851.2 533.3 L850.9 531.9 L850.6 530.6 L850.3 529.2 L850.1 527.8 L849.8 526.4 L849.5 525.0 L849.2 523.6 L848.9 522.2 L848.6 520.8 L848.3 519.3 L848.1 517.9 L847.8 516.5 L847.5 515.1 L847.2 513.6 L846.9 512.2 L846.7 510.7 L846.4 509.3 L846.1 507.8 L845.8 506.4 L845.6 504.9 L845.3 503.5 L845.0 502.0 L844.7 500.5 L844.5 499.0 L844.2 497.5 L843.9 496.1 L843.7 494.6 L843.4 493.1 L843.1 491.6 L842.9 490.1 L842.6 488.5 L842.3 487.0 L842.1 485.5 L841.8 484.0 L841.5 482.5 L841.3 480.9 L841.0 479.4 L840.8 477.8 L840.5 476.3 L840.2 474.7 L840.0 473.2 L839.7 471.6 L839.5 470.1 L839.2 468.5 L839.0 466.9 L838.7 465.3 L838.5 463.7 L838.2 462.2 L838.0 460.6 L837.7 459.0 L837.4 457.4 L837.2 455.8 L836.9 454.2 L836.7 452.5 L836.5 450.9 L836.2 449.3 L836.0 447.7 L835.7 446.0 L835.5 444.4 L835.2 442.8 L835.0 441.1 L834.7 439.5 L834.5 437.8 L834.3 436.1 L834.0 434.5 L833.8 432.8 L833.5 431.1 L833.3 429.5 L833.1 427.8 L832.8 426.1 L832.6 424.4 L832.3 422.7 L832.1 421.0 L831.9 419.3 L831.6 417.6 L831.4 415.9 L831.2 414.1 L830.9 412.4 L830.7 410.7 L830.5 409.0 L830.2 407.2 L830.0 405.5 L829.8 403.7 L829.5 402.0 L829.3 400.2 L829.1 398.5 L828.9 396.7 L828.6 395.0 L828.4 393.2 L828.2 391.4 L828.0 389.6 L827.7 387.8 L827.5 386.0 L827.3 384.2 L827.1 382.5 L826.8 380.6 L826.6 378.8 L826.4 377.0 L826.2 375.2 L826.0 373.4 L825.7 371.6 L825.5 369.7 L825.3 367.9 L825.1 366.1 L824.9 364.2 L824.6 362.4 L824.4 360.5 L824.2 358.7 L824.0 356.8 L823.8 354.9 L823.6 353.1 L823.3 351.2 L823.1 349.3 L822.9 347.4 L822.7 345.5 L822.5 343.6 L822.3 341.7 L822.1 339.8 L821.9 337.9 L821.6 336.0 L821.4 334.1 L821.2 332.2 L821.0 330.2 L820.8 328.3 L820.6 326.4 L820.4 324.4 L820.2 322.5 L820.0 320.6 L819.8 318.6 L819.6 316.6 L819.4 314.7 L819.2 312.7 L819.0 310.8 L818.8 308.8 L818.6 306.8 L818.4 304.8 L818.1 302.8 L817.9 300.8 L817.7 298.8 L817.5 296.8 L817.3 294.8 L817.1 292.8 L816.9 290.8 L816.7 288.8 L816.5 286.8 L816.3 284.7 L816.2 282.7 L816.0 280.7 L815.8 278.6 L815.6 276.6 L815.4 274.5 L815.2 272.5 L815.0 270.4 L814.8 268.3 L814.6 266.3 L814.4 264.2 L814.2 262.1 L814.0 260.0 L813.8 258.0 L813.6 255.9 L813.4 253.8 L813.2 251.7 L813.0 249.6 L812.9 247.5 L812.7 245.3 L812.5 243.2 L812.3 241.1 L812.1 239.0 L811.9 236.8 L811.7 234.7 L811.5 232.6 L811.3 230.4 L811.2 228.3 L811.0 226.1 L810.8 224.0 L810.6 221.8 L810.4 219.6 L810.2 217.5 L810.0 215.3 L809.9 213.1 L809.7 210.9 L809.5 208.7 L809.3 206.5 L809.1 204.3 L808.9 202.1 L808.8 199.9 L808.6 197.7 L808.4 195.5 L808.2 193.3 L808.0 191.0 L807.9 188.8 L807.7 186.6 L807.5 184.3 L807.3 182.1 L807.1 179.8 L807.0 177.6 L806.8 175.3 L806.6 173.1 L806.4 170.8 L806.2 168.5 L806.1 166.3 L805.9 164.0 L805.7 161.7 L805.5 159.4 L805.4 157.1 L805.2 154.8 L805.0 152.5 L804.8 150.2 L804.7 147.9 L804.5 145.6 L804.3 143.3 L804.1 140.9 L804.0 138.6 L803.8 136.3 L803.6 133.9 L803.5 131.6 L803.3 129.2 L803.1 126.9 L802.9 124.5 L802.8 122.2 L802.6 119.8 L802.4 117.4 L802.3 115.1 L802.1 112.7 L801.9 110.3 L801.8 107.9 L801.6 105.5 L801.4 103.1 L801.3 100.7 L801.1 98.3 L800.9 95.9 L800.8 93.5 L800.6 91.1 L800.4 88.6 L800.3 86.2 L800.1 83.8 L799.9 81.3 L799.8 78.9 L799.6 76.5 L799.4 74.0 L799.3 71.6 L799.1 69.1 L798.9 66.6 L798.8 64.2 L798.6 61.7 L798.4 59.2 L798.3 56.7 L798.1 54.2 L798.0 51.7 L797.8 49.3 L797.6 46.8 L797.5 44.2 L797.3 41.7 L797.2 39.2 L797.0 36.7 L796.8 34.2 L796.7 31.7 L796.5 29.1 L796.4 26.6 L796.2 24.1 L796.0 21.5 L795.9 19.0 L795.7 16.4 L795.6 13.8 L795.4 11.3 L795.3 8.7 L795.1 6.1 L794.9 3.6 L794.8 1.0 L794.6 -1.6 L794.5 -4.2 L794.3 -6.8 L794.2 -9.4 L794.0 -12.0 L793.9 -14.6 L793.7 -17.2 L793.6 -19.8 L793.4 -22.4 L793.2 -25.1 L793.1 -27.7 L792.9 -30.3 L792.8 -33.0 L792.6 -35.6 L792.5 -38.3 L792.3 -40.9 L792.2 -43.6 L792.0 -46.2 L791.9 -48.9 L791.7 -51.6 L791.6 -54.3 L791.4 -56.9 L791.3 -59.6 L791.1 -62.3 L791.0 -65.0"/>
</g>
<g clip-path="url(#cp)">
<path class="ct" d="M506.6 198.1L524.6 203.0M555.0 209.8L572.6 215.5M600.9 228.5L603.0 229.2L604.9 230.1L606.7 231.1L608.4 232.2L610.0 233.4L611.4 234.8L612.7 236.3L613.9 238.0L614.9 239.8M615.4 270.0L605.6 285.8M604.4 316.3L605.2 318.1L606.1 319.9L607.2 321.6L608.4 323.2L609.7 324.7L611.0 326.2L612.5 327.5L614.2 328.8L615.9 329.9M641.8 347.1L654.2 360.9M668.0 388.7L667.2 407.3M666.4 438.2L676.3 453.8M694.3 479.3L704.4 494.9M717.3 522.5L714.7 541.0M717.6 569.8L731.2 582.4M752.0 606.1L759.2 623.2M773.7 650.1L784.9 664.9M782.1 692.7L768.6 705.4M743.1 722.9L726.2 730.9M696.9 740.2L678.3 741.9M647.3 743.6L628.7 745.2M598.0 748.5L579.4 748.0M548.5 746.8L530.1 749.8M498.8 756.1L480.4 758.6M449.5 758.6L431.0 756.1M401.2 749.2L382.8 746.2M351.9 743.2L334.8 735.8M311.9 715.2L303.3 698.7M302.0 686.6L303.3 668.1M315.9 640.1L324.1 623.4M337.2 595.4L342.0 577.4M348.1 547.0L351.9 528.7M360.6 499.3L368.8 482.6M382.0 454.6L383.3 436.1M386.8 405.3L393.7 388.0M410.1 361.8L422.7 348.0M441.3 323.0L449.4 306.3M455.4 276.0L461.3 258.3M476.8 230.9L483.6 213.5"/>
<path class="ct" d="M552.6 377.3L554.5 376.6L556.5 376.3L558.5 376.3L560.5 376.6L562.5 377.2L564.6 378.1L566.7 379.4L568.8 380.9L569.4 381.4M590.9 404.7L600.4 420.6M614.9 448.3L624.6 464.2M638.2 492.3L642.0 510.4M642.7 541.4L645.3 559.9M659.8 587.1L670.7 602.3M692.4 623.9L706.1 636.4M725.7 660.3L733.3 677.3M718.1 702.5L700.6 709.1M669.8 715.4L651.6 719.0M620.8 726.0L602.4 728.4M571.5 728.5L553.0 728.5M522.0 731.7L504.0 736.3M473.5 740.8L455.0 739.2M425.2 731.8L407.3 726.9M376.9 718.4L360.5 709.6M346.5 687.9L346.0 669.4M355.0 639.5L361.3 622.1M368.1 591.9L370.5 573.4M376.9 543.5L384.5 526.4M402.7 501.1L414.6 486.9M435.4 463.9L445.9 448.6M465.4 421.7L481.0 411.7M507.0 397.5L523.7 389.2"/>
<path class="ct" d="M511.8 468.9L513.6 467.5L515.4 466.4L517.2 465.4L519.1 464.5L520.9 463.9L522.8 463.4L524.6 463.1L526.5 463.0L528.4 463.1M556.5 475.1L570.2 487.6M581.3 516.1L582.7 534.6M587.6 565.7L592.7 583.6M602.8 612.4L607.9 630.3M621.3 658.2L623.2 676.7M599.2 696.1L580.8 699.1M549.9 702.8L531.5 705.2M501.2 710.8L482.8 713.2M452.6 707.8L434.6 702.9M404.0 687.8L401.8 685.4L399.8 682.8L398.1 680.1L396.7 677.3L395.5 674.4L394.6 671.3L394.0 668.1L393.6 664.8M404.3 632.9L413.8 616.9M422.6 587.3L428.6 569.7M446.1 544.0L457.4 529.3M477.1 504.9L489.6 491.1"/>
</g>
<text class="lb" font-size="32" transform="translate(198.51 82.00) scale(0.983 1.040)">0.01</text>
<text class="lb" font-size="32" transform="translate(332.34 82.00) scale(0.940 1.040)">0.1</text>
<text class="lb" font-size="32" transform="translate(459.05 82.00) scale(0.900 1.040)">1</text>
<text class="lb" font-size="32" transform="translate(615.51 67.70) scale(1.055 1.040)">10</text>
<text class="lb" font-size="32" transform="translate(709.93 67.70) scale(1.040 1.040)">100</text>
<text class="lb" font-size="32" transform="translate(804.25 67.70) scale(1.031 1.040)">1000</text>
<rect x="173.3" y="1.5" width="724.9" height="771.3" fill="none" stroke="#000" stroke-width="3.2"/>
<path class="tk" d="M173 745.0 H144"/>
<g transform="translate(102.6 745.2) rotate(-90)"><text class="ax" font-size="32" transform="translate(-9.04 0.00) scale(1.064 1.090)">0</text></g>
<path class="tk" d="M173 610.0 H144"/>
<g transform="translate(102.6 610.2) rotate(-90)"><text class="ax" font-size="32" transform="translate(-27.96 0.00) scale(1.036 1.090)">100</text></g>
<path class="tk" d="M173 475.0 H144"/>
<g transform="translate(102.6 475.2) rotate(-90)"><text class="ax" font-size="32" transform="translate(-27.96 0.00) scale(1.036 1.090)">200</text></g>
<path class="tk" d="M173 340.0 H144"/>
<g transform="translate(102.6 340.2) rotate(-90)"><text class="ax" font-size="32" transform="translate(-26.91 0.00) scale(1.016 1.090)">300</text></g>
<path class="tk" d="M173 205.0 H144"/>
<g transform="translate(102.6 205.2) rotate(-90)"><text class="ax" font-size="32" transform="translate(-26.91 0.00) scale(1.016 1.090)">400</text></g>
<path class="tk" d="M173 70.0 H144"/>
<g transform="translate(102.6 70.2) rotate(-90)"><text class="ax" font-size="32" transform="translate(-27.96 0.00) scale(1.036 1.090)">500</text></g>
<path class="tk" d="M251.3 774V803.5M282.4 774V803.5M300.6 774V803.5M313.5 774V803.5M323.5 774V803.5M331.7 774V803.5M338.6 774V803.5M344.6 774V803.5M349.9 774V803.5M354.6 774V803.5M385.8 774V803.5M404.0 774V803.5M416.9 774V803.5M426.9 774V803.5M435.1 774V803.5M442.0 774V803.5M448.0 774V803.5M453.3 774V803.5M458.0 774V803.5M489.1 774V803.5M507.3 774V803.5M520.2 774V803.5M530.2 774V803.5M538.4 774V803.5M545.3 774V803.5M551.3 774V803.5M556.6 774V803.5M561.3 774V803.5M592.5 774V803.5M610.7 774V803.5M623.6 774V803.5M633.6 774V803.5M641.8 774V803.5M648.7 774V803.5M654.7 774V803.5M660.0 774V803.5M664.7 774V803.5M695.8 774V803.5M714.0 774V803.5M726.9 774V803.5M736.9 774V803.5M745.1 774V803.5M752.0 774V803.5M758.0 774V803.5M763.3 774V803.5M768.0 774V803.5M799.2 774V803.5M817.4 774V803.5M830.3 774V803.5M840.3 774V803.5M848.5 774V803.5M855.4 774V803.5M861.4 774V803.5M866.7 774V803.5M871.4 774V803.5"/>
<text class="ax" font-size="32" transform="translate(220.35 879.40) scale(0.969 1.030)">10</text>
<text class="ax" font-size="24" transform="translate(257.32 863.00) scale(0.977 1.030)">−5</text>
<text class="ax" font-size="32" transform="translate(323.70 879.40) scale(0.969 1.030)">10</text>
<text class="ax" font-size="24" transform="translate(360.69 863.00) scale(0.940 1.030)">−4</text>
<text class="ax" font-size="32" transform="translate(427.05 879.40) scale(0.969 1.030)">10</text>
<text class="ax" font-size="24" transform="translate(464.02 863.00) scale(0.977 1.030)">−3</text>
<text class="ax" font-size="32" transform="translate(530.40 879.40) scale(0.969 1.030)">10</text>
<text class="ax" font-size="24" transform="translate(567.37 863.00) scale(0.977 1.030)">−2</text>
<text class="ax" font-size="32" transform="translate(633.75 879.40) scale(0.969 1.030)">10</text>
<text class="ax" font-size="24" transform="translate(670.72 863.00) scale(0.977 1.030)">−1</text>
<text class="ax" font-size="32" transform="translate(758.55 879.40) scale(0.900 1.030)">1</text>
<text class="ax" font-size="32" transform="translate(854.33 879.40) scale(0.982 1.030)">10</text>
<text class="ax" font-size="32" transform="translate(337.94 930.20) scale(1.035 1.000)">Spring</text>
<text class="ax" font-size="32" transform="translate(442.61 930.20) scale(1.024 1.000)">water</text>
<text class="ax" font-size="32" transform="translate(530.10 930.20) scale(0.984 1.000)">flow</text>
<text class="ax" font-size="43.5" transform="translate(598.14 931.30) scale(0.948 1.000)">(</text>
<text class="ax" font-size="32" transform="translate(612.28 930.20) scale(1.068 1.000)">m</text>
<text class="ax" font-size="24" transform="translate(641.53 918.00) scale(0.957 1.000)">3</text>
<text class="ax" font-size="32" transform="translate(658.18 932.00) scale(1.167 1.000)">·</text>
<text class="ax" font-size="32" transform="translate(675.33 930.20) scale(0.959 1.000)">s</text>
<text class="ax" font-size="24" transform="translate(690.43 918.00) scale(0.957 1.000)">−1</text>
<text class="ax" font-size="43.5" transform="translate(718.61 931.30) scale(0.991 1.000)">)</text>
<g transform="translate(34.2 700.5) rotate(-90)">
<text class="ax" font-size="32" transform="translate(-2.77 0.00) scale(1.028 1.030)">Background</text>
<text class="ax" font-size="32" transform="translate(177.83 0.00) scale(1.333 1.030)">−</text>
<text class="ax" font-size="32" transform="translate(212.23 0.00) scale(0.959 1.030)">corrected</text>
<text class="ax" font-size="32" transform="translate(350.89 0.00) scale(1.015 1.030)">enthalpy</text>
<text class="ax" font-size="43.5" transform="translate(482.19 1.00) scale(0.966 1.030)">(</text>
<text class="ax" font-size="32" transform="translate(496.38 0.00) scale(0.951 1.030)">kJ</text>
<text class="ax" font-size="32" transform="translate(533.98 1.80) scale(1.167 1.030)">·</text>
<text class="ax" font-size="32" transform="translate(551.98 0.00) scale(0.892 1.030)">kg</text>
<text class="ax" font-size="24" transform="translate(583.11 -18.00) scale(0.988 1.030)">−1</text>
<text class="ax" font-size="43.5" transform="translate(614.42 1.00) scale(0.966 1.030)">)</text>
</g>
</svg></body></html>
